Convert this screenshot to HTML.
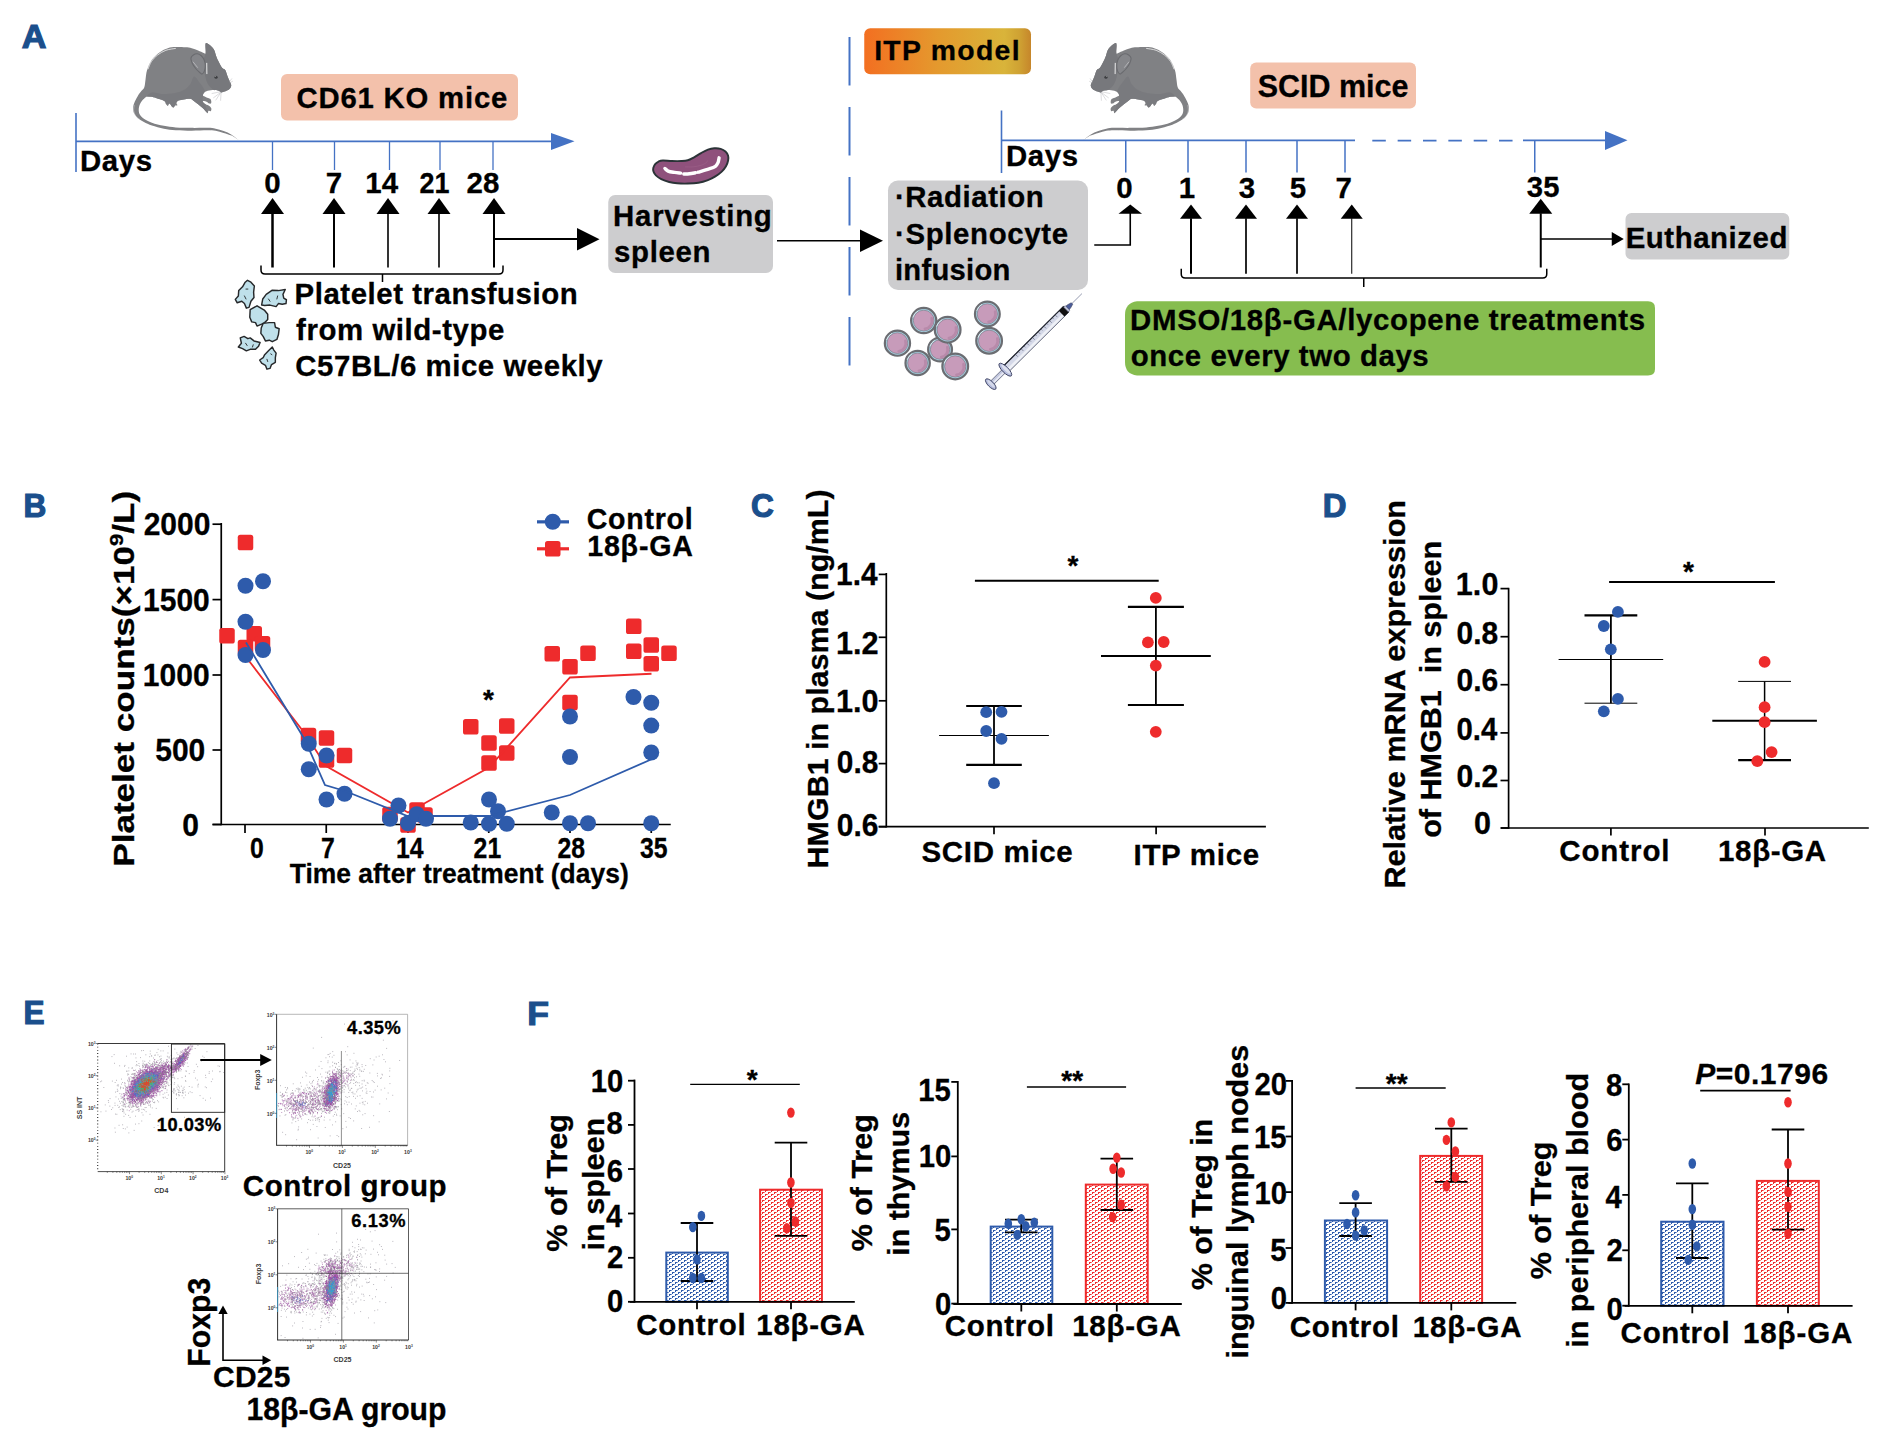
<!DOCTYPE html>
<html lang="en"><head><meta charset="utf-8"><title>Figure</title>
<style>
html,body{margin:0;padding:0;background:#fff;}
body{width:1884px;height:1443px;overflow:hidden;}
svg{display:block;}
text{font-family:"Liberation Sans",Arial,sans-serif;font-weight:bold;}
</style></head><body>
<svg width="1884" height="1443" viewBox="0 0 1884 1443">
<rect width="1884" height="1443" fill="#fff"/>
<defs><linearGradient id="itp" x1="0" y1="0" x2="1" y2="0"><stop offset="0" stop-color="#F36F21"/><stop offset="0.45" stop-color="#E49A2E"/><stop offset="0.84" stop-color="#D9B43A"/><stop offset="0.93" stop-color="#CFA233"/><stop offset="1" stop-color="#C6862B"/></linearGradient></defs>
<text transform="matrix(1.0357 0 0 1 21.65 48.3)" font-size="33" fill="#1B4F8C" stroke="#1B4F8C" stroke-width="1.2">A</text>
<line x1="76" y1="113" x2="76" y2="172" stroke="#4472C4" stroke-width="1.6" />
<line x1="76" y1="141.3" x2="553" y2="141.3" stroke="#4472C4" stroke-width="1.8" />
<polygon points="551,133 574.5,141.3 551,150" fill="#4472C4" />
<line x1="272.5" y1="141.3" x2="272.5" y2="170" stroke="#4472C4" stroke-width="1.3" />
<line x1="334.5" y1="141.3" x2="334.5" y2="170" stroke="#4472C4" stroke-width="1.3" />
<line x1="389.5" y1="141.3" x2="389.5" y2="170" stroke="#4472C4" stroke-width="1.3" />
<line x1="440" y1="141.3" x2="440" y2="170" stroke="#4472C4" stroke-width="1.3" />
<line x1="493" y1="141.3" x2="493" y2="170" stroke="#4472C4" stroke-width="1.3" />
<g transform="translate(120 35) scale(0.07971)"><path d="M305 655C313.33 631.67 314.17 595.83 320 560C325.83 524.17 326.67 481.67 340 440C353.33 398.33 373.33 347.5 400 310C426.67 272.5 466.67 239.17 500 215C533.33 190.83 566.67 175.5 600 165C633.33 154.5 663.33 153.67 700 152C736.67 150.33 786.67 152.83 820 155C853.33 157.17 873.33 158.33 900 165C926.67 171.67 955 185 980 195C1005 205 1034.17 219.5 1050 225C1065.83 230.5 1071.33 243.83 1075 228C1078.67 212.17 1070.83 151.33 1072 130C1073.17 108.67 1072.33 100 1082 100C1091.67 100 1113.67 115.83 1130 130C1146.33 144.17 1167.5 163.33 1180 185C1192.5 206.67 1196.67 237.5 1205 260C1213.33 282.5 1217.5 295 1230 320C1242.5 345 1265 390 1280 410C1295 430 1308.33 421.67 1320 440C1331.67 458.33 1339.17 493.33 1350 520C1360.83 546.67 1377.5 580 1385 600C1392.5 620 1397.5 626.67 1395 640C1392.5 653.33 1384.17 668.33 1370 680C1355.83 691.67 1326.67 703.33 1310 710C1293.33 716.67 1281.67 721.67 1270 720C1258.33 718.33 1255 705 1240 700C1225 695 1203.33 690 1180 690C1156.67 690 1121.67 693.33 1100 700C1078.33 706.67 1060 720 1050 730C1040 740 1035 751.67 1040 760C1045 768.33 1065 773.33 1080 780C1095 786.67 1119.17 791.67 1130 800C1140.83 808.33 1143.33 820 1145 830C1146.67 840 1145.83 855.83 1140 860C1134.17 864.17 1118.33 858.33 1110 855C1101.67 851.67 1101.67 844.17 1090 840C1078.33 835.83 1045 826.67 1040 830C1035 833.33 1046.67 850 1060 860C1073.33 870 1105.83 880 1120 890C1134.17 900 1141.67 909.17 1145 920C1148.33 930.83 1145.83 950 1140 955C1134.17 960 1116.67 945.83 1110 950C1103.33 954.17 1105 978.33 1100 980C1095 981.67 1090 970 1080 960C1070 950 1056.67 935 1040 920C1023.33 905 998.33 885 980 870C961.67 855 946.67 841.67 930 830C913.33 818.33 901.67 803.33 880 800C858.33 796.67 826.67 805 800 810C773.33 815 735 821.67 720 830C705 838.33 710 851.67 710 860C710 868.33 723.33 875.83 720 880C716.67 884.17 698.33 880 690 885C681.67 890 678.33 910.83 670 910C661.67 909.17 648.33 888.33 640 880C631.67 871.67 626.67 858.33 620 860C613.33 861.67 606.67 888.33 600 890C593.33 891.67 586.67 880 580 870C573.33 860 576.67 841.67 560 830C543.33 818.33 506.67 809.17 480 800C453.33 790.83 423.33 780 400 775C376.67 770 358.33 764.17 340 770C321.67 775.83 305 793.33 290 810C275 826.67 259.17 848.33 250 870C240.83 891.67 235 918.33 235 940C235 961.67 239.17 981.67 250 1000C260.83 1018.33 275 1033.33 300 1050C325 1066.67 358.33 1085 400 1100C441.67 1115 500 1130 550 1140C600 1150 641.67 1155.83 700 1160C758.33 1164.17 833.33 1164.17 900 1165C966.67 1165.83 1050 1163.33 1100 1165C1150 1166.67 1166.67 1168.33 1200 1175C1233.33 1181.67 1266.67 1192.5 1300 1205C1333.33 1217.5 1368.33 1230.83 1400 1250C1431.67 1269.17 1490 1318 1490 1320C1490 1322 1431.67 1277.33 1400 1262C1368.33 1246.67 1333.33 1238 1300 1228C1266.67 1218 1233.33 1207.5 1200 1202C1166.67 1196.5 1150 1195.33 1100 1195C1050 1194.67 966.67 1200 900 1200C833.33 1200 758.33 1199.17 700 1195C641.67 1190.83 600 1185 550 1175C500 1165 441.67 1149.17 400 1135C358.33 1120.83 330 1105.83 300 1090C270 1074.17 240.83 1058.33 220 1040C199.17 1021.67 184.17 1001.67 175 980C165.83 958.33 164.17 931.67 165 910C165.83 888.33 170.83 873.33 180 850C189.17 826.67 205 795 220 770C235 745 255.83 719.17 270 700C284.17 680.83 296.67 678.33 305 655Z" fill="#808184"/><path d="M1075 228C1078.67 199.67 1070.83 151.33 1072 130C1073.17 108.67 1072.33 100 1082 100C1091.67 100 1113.67 115.83 1130 130C1146.33 144.17 1167.5 163.33 1180 185C1192.5 206.67 1196.67 237.5 1205 260C1213.33 282.5 1217.5 295 1230 320C1242.5 345 1265 390 1280 410C1295 430 1308.33 421.67 1320 440C1331.67 458.33 1339.17 493.33 1350 520C1360.83 546.67 1377.5 580 1385 600C1392.5 620 1397.5 626.67 1395 640C1392.5 653.33 1384.17 668.33 1370 680C1355.83 691.67 1326.67 703.33 1310 710C1293.33 716.67 1281.67 721.67 1270 720C1258.33 718.33 1255 705 1240 700C1225 695 1200 700 1180 690C1160 680 1136.67 661.67 1120 640C1103.33 618.33 1090 588.33 1080 560C1070 531.67 1066.67 500 1060 470C1053.33 440 1041.67 408.33 1040 380C1038.33 351.67 1044.17 325.33 1050 300C1055.83 274.67 1071.33 256.33 1075 228Z" fill="#77787C"/><path d="M340 770C340 760.83 370 725 400 720C430 715 473.33 738.33 520 740C566.67 741.67 633.33 738.33 680 730C726.67 721.67 766.67 708.33 800 690C833.33 671.67 858.33 648.33 880 620C901.67 591.67 910 523.33 930 520C950 516.67 978.33 571.67 1000 600C1021.67 628.33 1051.67 668.33 1060 690C1068.33 711.67 1053.33 718.33 1050 730C1046.67 741.67 1041.67 743.33 1040 760C1038.33 776.67 1036.67 813.33 1040 830C1043.33 846.67 1050 835 1060 860C1070 885 1103.33 970 1100 980C1096.67 990 1060 938.33 1040 920C1020 901.67 998.33 885 980 870C961.67 855 946.67 841.67 930 830C913.33 818.33 901.67 803.33 880 800C858.33 796.67 826.67 805 800 810C773.33 815 741.67 813.33 720 830C698.33 846.67 686.67 905 670 910C653.33 915 635 866.67 620 860C605 853.33 590 875 580 870C570 865 576.67 841.67 560 830C543.33 818.33 506.67 809.17 480 800C453.33 790.83 423.33 780 400 775C376.67 770 340 779.17 340 770Z" fill="#797A7E"/><path d="M890 290C892.5 273.33 906.67 259.17 920 250C933.33 240.83 953.33 233.33 970 235C986.67 236.67 1005.83 247.5 1020 260C1034.17 272.5 1046.67 290 1055 310C1063.33 330 1069.17 356.67 1070 380C1070.83 403.33 1066.67 431.67 1060 450C1053.33 468.33 1040 486.67 1030 490C1020 493.33 1013.33 481.67 1000 470C986.67 458.33 965.83 440 950 420C934.17 400 915 371.67 905 350C895 328.33 887.5 306.67 890 290Z" fill="#85868A" stroke="#6A6B6F" stroke-width="14"/><path d="M350 430C357.5 413.33 375 359.67 395 330C415 300.33 440 275 470 252C500 229 536.67 206 575 192C613.33 178 679.17 172 700 168" fill="none" stroke="#fff" stroke-width="9"/><path d="M1088 350L1090 490" stroke="#fff" stroke-width="12" opacity="0.9" fill="none"/><path d="M915 335L975 410" stroke="#E6E6E8" stroke-width="6" fill="none"/><path d="M180 880C178.67 891.67 168.67 926.67 172 950C175.33 973.33 187 1001.67 200 1020C213 1038.33 241.67 1053.33 250 1060" fill="none" stroke="#E8E8EA" stroke-width="6" opacity="0.8"/><circle cx="1205" cy="530" r="20" fill="#3E3F42"/><circle cx="1200" cy="522" r="6" fill="#ddd"/><path d="M1270 715L1170 790M1265 720L1200 820M1268 720L1262 825M1260 712L1150 735M1370 590L1405 545M1375 600L1415 580" stroke="#A9AAAD" stroke-width="5" fill="none"/><path d="M1040 835L1090 870" stroke="#fff" stroke-width="8" fill="none"/></g>
<text transform="translate(79.99 170.8)" font-size="29.4" letter-spacing="0.607" stroke="#000" stroke-width="0.3">Days</text>
<rect x="281" y="74" width="237" height="46.5" fill="#F3C1AB" rx="6" />
<text transform="translate(296.43 107.8)" font-size="29.3" letter-spacing="0.820" stroke="#000" stroke-width="0.3">CD61 KO mice</text>
<text transform="matrix(0.9833 0 0 1 264.31 192.9)" font-size="30" stroke="#000" stroke-width="0.3">0</text>
<text transform="matrix(0.9833 0 0 1 325.81 192.9)" font-size="30" stroke="#000" stroke-width="0.3">7</text>
<text transform="matrix(0.9833 0 0 1 365.24 192.9)" font-size="30" stroke="#000" stroke-width="0.3">14</text>
<text transform="matrix(0.8984 0 0 1 419.41 192.9)" font-size="30" stroke="#000" stroke-width="0.3">21</text>
<text transform="matrix(0.9833 0 0 1 466.55 192.9)" font-size="30" stroke="#000" stroke-width="0.3">28</text>
<line x1="272.5" y1="213.5" x2="272.5" y2="267.5" stroke="#000" stroke-width="2.5" /><polygon points="261,214 272.5,198 284,214" fill="#000" />
<line x1="334" y1="213.5" x2="334" y2="267.5" stroke="#000" stroke-width="2" /><polygon points="322.5,214 334,198 345.5,214" fill="#000" />
<line x1="388" y1="213.5" x2="388" y2="267.5" stroke="#000" stroke-width="1.6" /><polygon points="376.5,214 388,198 399.5,214" fill="#000" />
<line x1="439" y1="213.5" x2="439" y2="267.5" stroke="#000" stroke-width="1.6" /><polygon points="427.5,214 439,198 450.5,214" fill="#000" />
<line x1="494" y1="213.5" x2="494" y2="267.5" stroke="#000" stroke-width="2" /><polygon points="482.5,214 494,198 505.5,214" fill="#000" />
<line x1="494" y1="239" x2="578" y2="239" stroke="#000" stroke-width="2" />
<polygon points="577,228 599.5,239.2 577,250.5" fill="#000" />
<path d="M261 265.5L261 270Q261 274 265 274L499 274Q503 274 503 270L503 265.5M382.5 274L382.5 282" fill="none" stroke="#000" stroke-width="1.5"/>
<g transform="translate(225 270) scale(0.07628)" stroke-linejoin="round"><polygon points="295,135 340,160 385,210 375,290 380,360 340,410 315,490 280,500 255,440 220,410 160,430 135,385 175,340 180,270 230,220 265,160" fill="#BFE0EA" stroke="#26282A" stroke-width="19" /><polygon points="480,460 495,380 540,320 620,265 700,270 790,255 760,320 770,370 805,390 800,440 750,450 700,440 670,480 590,460 520,465" fill="#BFE0EA" stroke="#26282A" stroke-width="19" /><polygon points="330,520 420,470 470,500 520,530 560,580 560,650 520,690 480,710 420,735 400,690 350,680 325,620" fill="#BFE0EA" stroke="#26282A" stroke-width="19" /><polygon points="500,700 580,690 650,690 660,750 710,770 700,850 680,910 620,940 580,920 530,930 500,870 470,830 475,760" fill="#BFE0EA" stroke="#26282A" stroke-width="19" /><polygon points="200,890 250,870 300,900 330,890 380,930 460,950 440,1000 400,1040 330,1040 280,1060 230,1030 175,1010 215,960" fill="#BFE0EA" stroke="#26282A" stroke-width="19" /><polygon points="620,1010 640,1050 670,1090 660,1150 660,1210 610,1240 590,1290 550,1300 530,1250 480,1220 455,1180 500,1150 520,1110 570,1060" fill="#BFE0EA" stroke="#26282A" stroke-width="19" /><path d="M255 340L275 380M275 250L300 250M570 380L590 410M690 340L680 380M270 960L290 990M370 980L360 1010M550 1170L560 1200M600 1100L615 1110" stroke="#26282A" stroke-width="12" fill="none" stroke-linecap="round"/></g>
<text transform="translate(294.59 304)" font-size="29.4" letter-spacing="0.544" stroke="#000" stroke-width="0.3">Platelet transfusion</text>
<text transform="translate(296.06 340)" font-size="29.4" letter-spacing="0.571" stroke="#000" stroke-width="0.3">from wild-type</text>
<text transform="translate(295.32 376)" font-size="29.4" letter-spacing="0.552" stroke="#000" stroke-width="0.3">C57BL/6 mice weekly</text>
<g transform="translate(640 135) scale(0.05308)"><path d="M250 620C255.83 595.83 273.33 565 290 545C306.67 525 326.67 510.83 350 500C373.33 489.17 388.33 481.67 430 480C471.67 478.33 541.67 488.33 600 490C658.33 491.67 730 492.5 780 490C830 487.5 860 486.67 900 475C940 463.33 978.33 442.5 1020 420C1061.67 397.5 1106.67 364.17 1150 340C1193.33 315.83 1238.33 290 1280 275C1321.67 260 1360 252.5 1400 250C1440 247.5 1485 250 1520 260C1555 270 1586.67 288.33 1610 310C1633.33 331.67 1651.67 361.67 1660 390C1668.33 418.33 1666.67 446.67 1660 480C1653.33 513.33 1640 555 1620 590C1600 625 1573.33 658.33 1540 690C1506.67 721.67 1463.33 753.33 1420 780C1376.67 806.67 1333.33 830 1280 850C1226.67 870 1163.33 889.17 1100 900C1036.67 910.83 966.67 913.33 900 915C833.33 916.67 758.33 915 700 910C641.67 905 600 898.33 550 885C500 871.67 441.67 850.83 400 830C358.33 809.17 324.17 783.33 300 760C275.83 736.67 263.33 713.33 255 690C246.67 666.67 244.17 644.17 250 620Z" fill="#8F517C" stroke="#2B3337" stroke-width="36" stroke-linejoin="round"/><path d="M850 600C875 600 950 605 1000 600C1050 595 1108.33 583.33 1150 570C1191.67 556.67 1230 535 1250 520C1270 505 1266.67 486.67 1270 480" fill="none" stroke="#A4688F" stroke-width="8"/><path d="M470 630C480 638.33 500 667.5 530 680C560 692.5 610.83 698.67 650 705C689.17 711.33 745.83 715.83 765 718" fill="none" stroke="#fff" stroke-width="64" stroke-linecap="round"/><path d="M825 735C842.5 734.17 893.33 733.83 930 730C966.67 726.17 1025.83 715 1045 712" fill="none" stroke="#fff" stroke-width="64" stroke-linecap="round"/><path d="M1095 700C1129.17 690 1245.83 658.33 1300 640C1354.17 621.67 1391.67 610 1420 590C1448.33 570 1458.33 546.67 1470 520C1481.67 493.33 1486.67 445 1490 430" fill="none" stroke="#fff" stroke-width="64" stroke-linecap="round"/></g>
<rect x="608.25" y="195" width="164.75" height="78" fill="#CDCDCF" rx="7" />
<text transform="translate(613.09 225.5)" font-size="29.4" letter-spacing="0.758" stroke="#000" stroke-width="0.3">Harvesting</text>
<text transform="translate(613.97 262)" font-size="29.4" letter-spacing="0.698" stroke="#000" stroke-width="0.3">spleen</text>
<line x1="777" y1="240.75" x2="861" y2="240.75" stroke="#000" stroke-width="1.5" />
<polygon points="860,229.5 883,240.75 860,252" fill="#000" />
<line x1="849.5" y1="37" x2="849.5" y2="85.5" stroke="#4472C4" stroke-width="2" />
<line x1="849.5" y1="107" x2="849.5" y2="155.5" stroke="#4472C4" stroke-width="2" />
<line x1="849.5" y1="177" x2="849.5" y2="225.5" stroke="#4472C4" stroke-width="2" />
<line x1="849.5" y1="247" x2="849.5" y2="295.5" stroke="#4472C4" stroke-width="2" />
<line x1="849.5" y1="317" x2="849.5" y2="365.5" stroke="#4472C4" stroke-width="2" />
<rect x="864.25" y="28.25" width="166.75" height="46" fill="url(#itp)" rx="6" />
<text transform="translate(874.15 60.1)" font-size="28.4" letter-spacing="1.281" stroke="#000" stroke-width="0.3">ITP model</text>
<rect x="888" y="180.5" width="200" height="109.5" fill="#CDCDCF" rx="10" />
<text transform="translate(894.94 207.1)" font-size="29.4" letter-spacing="0.562" stroke="#000" stroke-width="0.3">·Radiation</text>
<text transform="translate(894.94 243.5)" font-size="29.4" letter-spacing="0.654" stroke="#000" stroke-width="0.3">·Splenocyte</text>
<text transform="translate(894.96 279.7)" font-size="29.2" letter-spacing="0.279" stroke="#000" stroke-width="0.3">infusion</text>
<g transform="translate(870 290) scale(0.11677)"><circle cx="235" cy="455" r="108" fill="#A6D0E2" stroke="#6B6D72" stroke-width="19"/><circle cx="235" cy="455" r="89" fill="#C79BBA" stroke="#74767E" stroke-width="5"/><path d="M303 435A70 70 0 0 1 245 525" fill="none" stroke="#B88AAA" stroke-width="22" stroke-linecap="round"/><path d="M142 425A95 95 0 0 1 185 372" fill="none" stroke="#EAF4F8" stroke-width="7" stroke-linecap="round"/><circle cx="460" cy="262" r="108" fill="#A6D0E2" stroke="#6B6D72" stroke-width="19"/><circle cx="460" cy="262" r="89" fill="#C79BBA" stroke="#74767E" stroke-width="5"/><path d="M528 242A70 70 0 0 1 470 332" fill="none" stroke="#B88AAA" stroke-width="22" stroke-linecap="round"/><path d="M367 232A95 95 0 0 1 410 179" fill="none" stroke="#EAF4F8" stroke-width="7" stroke-linecap="round"/><circle cx="600" cy="510" r="102" fill="#A6D0E2" stroke="#6B6D72" stroke-width="19"/><circle cx="600" cy="510" r="83" fill="#C79BBA" stroke="#74767E" stroke-width="5"/><path d="M662 490A64 64 0 0 1 610 574" fill="none" stroke="#B88AAA" stroke-width="22" stroke-linecap="round"/><path d="M513 480A89 89 0 0 1 550 433" fill="none" stroke="#EAF4F8" stroke-width="7" stroke-linecap="round"/><circle cx="408" cy="625" r="104" fill="#A6D0E2" stroke="#6B6D72" stroke-width="19"/><circle cx="408" cy="625" r="85" fill="#C79BBA" stroke="#74767E" stroke-width="5"/><path d="M472 605A66 66 0 0 1 418 691" fill="none" stroke="#B88AAA" stroke-width="22" stroke-linecap="round"/><path d="M319 595A91 91 0 0 1 358 546" fill="none" stroke="#EAF4F8" stroke-width="7" stroke-linecap="round"/><circle cx="665" cy="340" r="110" fill="#A6D0E2" stroke="#6B6D72" stroke-width="19"/><circle cx="665" cy="340" r="91" fill="#C79BBA" stroke="#74767E" stroke-width="5"/><path d="M735 320A72 72 0 0 1 675 412" fill="none" stroke="#B88AAA" stroke-width="22" stroke-linecap="round"/><path d="M570 310A97 97 0 0 1 615 255" fill="none" stroke="#EAF4F8" stroke-width="7" stroke-linecap="round"/><circle cx="730" cy="655" r="110" fill="#A6D0E2" stroke="#6B6D72" stroke-width="19"/><circle cx="730" cy="655" r="91" fill="#C79BBA" stroke="#74767E" stroke-width="5"/><path d="M800 635A72 72 0 0 1 740 727" fill="none" stroke="#B88AAA" stroke-width="22" stroke-linecap="round"/><path d="M635 625A97 97 0 0 1 680 570" fill="none" stroke="#EAF4F8" stroke-width="7" stroke-linecap="round"/><circle cx="1005" cy="205" r="106" fill="#A6D0E2" stroke="#6B6D72" stroke-width="19"/><circle cx="1005" cy="205" r="87" fill="#C79BBA" stroke="#74767E" stroke-width="5"/><path d="M1071 185A68 68 0 0 1 1015 273" fill="none" stroke="#B88AAA" stroke-width="22" stroke-linecap="round"/><path d="M914 175A93 93 0 0 1 955 124" fill="none" stroke="#EAF4F8" stroke-width="7" stroke-linecap="round"/><circle cx="1020" cy="435" r="110" fill="#A6D0E2" stroke="#6B6D72" stroke-width="19"/><circle cx="1020" cy="435" r="91" fill="#C79BBA" stroke="#74767E" stroke-width="5"/><path d="M1090 415A72 72 0 0 1 1030 507" fill="none" stroke="#B88AAA" stroke-width="22" stroke-linecap="round"/><path d="M925 405A97 97 0 0 1 970 350" fill="none" stroke="#EAF4F8" stroke-width="7" stroke-linecap="round"/></g>
<g transform="translate(989.7 385.2) rotate(-44.8)"><line x1="115" y1="0" x2="130" y2="0" stroke="#5A6185" stroke-width="0.6"/><path d="M108 -2.6L112 -2.2L116 -1L116 1L112 2.2L108 2.6Z" fill="#4B5C9A" stroke="#2F3550" stroke-width="0.5"/><rect x="23" y="-3.9" width="85" height="7.8" fill="#D4D8E8" stroke="#3A3F55" stroke-width="0.7"/><rect x="24" y="0.6" width="78" height="2.6" fill="#EEF0F6"/><line x1="23" y1="-3.9" x2="108" y2="-3.9" stroke="#22252F" stroke-width="1.2"/><line x1="40" y1="-3.4" x2="40" y2="-0.6" stroke="#3A3F55" stroke-width="0.5"/><line x1="44" y1="-3.4" x2="44" y2="-1.8" stroke="#3A3F55" stroke-width="0.5"/><line x1="48" y1="-3.4" x2="48" y2="-0.6" stroke="#3A3F55" stroke-width="0.5"/><line x1="52" y1="-3.4" x2="52" y2="-1.8" stroke="#3A3F55" stroke-width="0.5"/><line x1="56" y1="-3.4" x2="56" y2="-0.6" stroke="#3A3F55" stroke-width="0.5"/><line x1="60" y1="-3.4" x2="60" y2="-1.8" stroke="#3A3F55" stroke-width="0.5"/><line x1="64" y1="-3.4" x2="64" y2="-0.6" stroke="#3A3F55" stroke-width="0.5"/><line x1="68" y1="-3.4" x2="68" y2="-1.8" stroke="#3A3F55" stroke-width="0.5"/><line x1="72" y1="-3.4" x2="72" y2="-0.6" stroke="#3A3F55" stroke-width="0.5"/><line x1="76" y1="-3.4" x2="76" y2="-1.8" stroke="#3A3F55" stroke-width="0.5"/><line x1="80" y1="-3.4" x2="80" y2="-0.6" stroke="#3A3F55" stroke-width="0.5"/><line x1="84" y1="-3.4" x2="84" y2="-1.8" stroke="#3A3F55" stroke-width="0.5"/><line x1="88" y1="-3.4" x2="88" y2="-0.6" stroke="#3A3F55" stroke-width="0.5"/><line x1="92" y1="-3.4" x2="92" y2="-1.8" stroke="#3A3F55" stroke-width="0.5"/><line x1="96" y1="-3.4" x2="96" y2="-0.6" stroke="#3A3F55" stroke-width="0.5"/><rect x="101.5" y="-3.9" width="6" height="7.8" fill="#111"/><rect x="107.5" y="-3.2" width="2.2" height="6.4" fill="#C9CEE2" stroke="#3A3F55" stroke-width="0.5"/><rect x="3" y="-2.3" width="18" height="4.6" fill="#C3C8E0" stroke="#3A3F55" stroke-width="0.6"/><rect x="4" y="0" width="16" height="1.6" fill="#E8EAF3"/><ellipse cx="22" cy="0" rx="3" ry="8.6" fill="#B5BCDD" stroke="#3A3F60" stroke-width="0.9"/><ellipse cx="22.8" cy="0" rx="1.6" ry="6.4" fill="#DDE0EE"/><ellipse cx="1.5" cy="0" rx="2.8" ry="7" fill="#B5BCDD" stroke="#3A3F60" stroke-width="0.9"/><ellipse cx="2" cy="0" rx="1.4" ry="5" fill="#D5D9EA"/></g>
<line x1="1001.5" y1="110.5" x2="1001.5" y2="173" stroke="#4472C4" stroke-width="1.6" />
<line x1="1001.5" y1="140.3" x2="1355" y2="140.3" stroke="#4472C4" stroke-width="1.8" />
<line x1="1372.3" y1="140.6" x2="1523" y2="140.6" stroke="#4472C4" stroke-width="1.8" stroke-dasharray="13.5 11.85"/>
<line x1="1523" y1="140.3" x2="1606" y2="140.3" stroke="#4472C4" stroke-width="1.8" />
<polygon points="1605,131 1627.5,140.3 1605,150" fill="#4472C4" />
<line x1="1125.75" y1="140.3" x2="1125.75" y2="172.5" stroke="#4472C4" stroke-width="1.5" />
<line x1="1188" y1="140.3" x2="1188" y2="172.5" stroke="#4472C4" stroke-width="1.5" />
<line x1="1246" y1="140.3" x2="1246" y2="172.5" stroke="#4472C4" stroke-width="1.5" />
<line x1="1297" y1="140.3" x2="1297" y2="172.5" stroke="#4472C4" stroke-width="1.5" />
<line x1="1345" y1="140.3" x2="1345" y2="172.5" stroke="#4472C4" stroke-width="1.5" />
<line x1="1534.75" y1="140.3" x2="1534.75" y2="172.5" stroke="#4472C4" stroke-width="1.5" />
<g transform="translate(1202 35) scale(-0.07971 0.07971)"><path d="M305 655C313.33 631.67 314.17 595.83 320 560C325.83 524.17 326.67 481.67 340 440C353.33 398.33 373.33 347.5 400 310C426.67 272.5 466.67 239.17 500 215C533.33 190.83 566.67 175.5 600 165C633.33 154.5 663.33 153.67 700 152C736.67 150.33 786.67 152.83 820 155C853.33 157.17 873.33 158.33 900 165C926.67 171.67 955 185 980 195C1005 205 1034.17 219.5 1050 225C1065.83 230.5 1071.33 243.83 1075 228C1078.67 212.17 1070.83 151.33 1072 130C1073.17 108.67 1072.33 100 1082 100C1091.67 100 1113.67 115.83 1130 130C1146.33 144.17 1167.5 163.33 1180 185C1192.5 206.67 1196.67 237.5 1205 260C1213.33 282.5 1217.5 295 1230 320C1242.5 345 1265 390 1280 410C1295 430 1308.33 421.67 1320 440C1331.67 458.33 1339.17 493.33 1350 520C1360.83 546.67 1377.5 580 1385 600C1392.5 620 1397.5 626.67 1395 640C1392.5 653.33 1384.17 668.33 1370 680C1355.83 691.67 1326.67 703.33 1310 710C1293.33 716.67 1281.67 721.67 1270 720C1258.33 718.33 1255 705 1240 700C1225 695 1203.33 690 1180 690C1156.67 690 1121.67 693.33 1100 700C1078.33 706.67 1060 720 1050 730C1040 740 1035 751.67 1040 760C1045 768.33 1065 773.33 1080 780C1095 786.67 1119.17 791.67 1130 800C1140.83 808.33 1143.33 820 1145 830C1146.67 840 1145.83 855.83 1140 860C1134.17 864.17 1118.33 858.33 1110 855C1101.67 851.67 1101.67 844.17 1090 840C1078.33 835.83 1045 826.67 1040 830C1035 833.33 1046.67 850 1060 860C1073.33 870 1105.83 880 1120 890C1134.17 900 1141.67 909.17 1145 920C1148.33 930.83 1145.83 950 1140 955C1134.17 960 1116.67 945.83 1110 950C1103.33 954.17 1105 978.33 1100 980C1095 981.67 1090 970 1080 960C1070 950 1056.67 935 1040 920C1023.33 905 998.33 885 980 870C961.67 855 946.67 841.67 930 830C913.33 818.33 901.67 803.33 880 800C858.33 796.67 826.67 805 800 810C773.33 815 735 821.67 720 830C705 838.33 710 851.67 710 860C710 868.33 723.33 875.83 720 880C716.67 884.17 698.33 880 690 885C681.67 890 678.33 910.83 670 910C661.67 909.17 648.33 888.33 640 880C631.67 871.67 626.67 858.33 620 860C613.33 861.67 606.67 888.33 600 890C593.33 891.67 586.67 880 580 870C573.33 860 576.67 841.67 560 830C543.33 818.33 506.67 809.17 480 800C453.33 790.83 423.33 780 400 775C376.67 770 358.33 764.17 340 770C321.67 775.83 305 793.33 290 810C275 826.67 259.17 848.33 250 870C240.83 891.67 235 918.33 235 940C235 961.67 239.17 981.67 250 1000C260.83 1018.33 275 1033.33 300 1050C325 1066.67 358.33 1085 400 1100C441.67 1115 500 1130 550 1140C600 1150 641.67 1155.83 700 1160C758.33 1164.17 833.33 1164.17 900 1165C966.67 1165.83 1050 1163.33 1100 1165C1150 1166.67 1166.67 1168.33 1200 1175C1233.33 1181.67 1266.67 1192.5 1300 1205C1333.33 1217.5 1368.33 1230.83 1400 1250C1431.67 1269.17 1490 1318 1490 1320C1490 1322 1431.67 1277.33 1400 1262C1368.33 1246.67 1333.33 1238 1300 1228C1266.67 1218 1233.33 1207.5 1200 1202C1166.67 1196.5 1150 1195.33 1100 1195C1050 1194.67 966.67 1200 900 1200C833.33 1200 758.33 1199.17 700 1195C641.67 1190.83 600 1185 550 1175C500 1165 441.67 1149.17 400 1135C358.33 1120.83 330 1105.83 300 1090C270 1074.17 240.83 1058.33 220 1040C199.17 1021.67 184.17 1001.67 175 980C165.83 958.33 164.17 931.67 165 910C165.83 888.33 170.83 873.33 180 850C189.17 826.67 205 795 220 770C235 745 255.83 719.17 270 700C284.17 680.83 296.67 678.33 305 655Z" fill="#808184"/><path d="M1075 228C1078.67 199.67 1070.83 151.33 1072 130C1073.17 108.67 1072.33 100 1082 100C1091.67 100 1113.67 115.83 1130 130C1146.33 144.17 1167.5 163.33 1180 185C1192.5 206.67 1196.67 237.5 1205 260C1213.33 282.5 1217.5 295 1230 320C1242.5 345 1265 390 1280 410C1295 430 1308.33 421.67 1320 440C1331.67 458.33 1339.17 493.33 1350 520C1360.83 546.67 1377.5 580 1385 600C1392.5 620 1397.5 626.67 1395 640C1392.5 653.33 1384.17 668.33 1370 680C1355.83 691.67 1326.67 703.33 1310 710C1293.33 716.67 1281.67 721.67 1270 720C1258.33 718.33 1255 705 1240 700C1225 695 1200 700 1180 690C1160 680 1136.67 661.67 1120 640C1103.33 618.33 1090 588.33 1080 560C1070 531.67 1066.67 500 1060 470C1053.33 440 1041.67 408.33 1040 380C1038.33 351.67 1044.17 325.33 1050 300C1055.83 274.67 1071.33 256.33 1075 228Z" fill="#77787C"/><path d="M340 770C340 760.83 370 725 400 720C430 715 473.33 738.33 520 740C566.67 741.67 633.33 738.33 680 730C726.67 721.67 766.67 708.33 800 690C833.33 671.67 858.33 648.33 880 620C901.67 591.67 910 523.33 930 520C950 516.67 978.33 571.67 1000 600C1021.67 628.33 1051.67 668.33 1060 690C1068.33 711.67 1053.33 718.33 1050 730C1046.67 741.67 1041.67 743.33 1040 760C1038.33 776.67 1036.67 813.33 1040 830C1043.33 846.67 1050 835 1060 860C1070 885 1103.33 970 1100 980C1096.67 990 1060 938.33 1040 920C1020 901.67 998.33 885 980 870C961.67 855 946.67 841.67 930 830C913.33 818.33 901.67 803.33 880 800C858.33 796.67 826.67 805 800 810C773.33 815 741.67 813.33 720 830C698.33 846.67 686.67 905 670 910C653.33 915 635 866.67 620 860C605 853.33 590 875 580 870C570 865 576.67 841.67 560 830C543.33 818.33 506.67 809.17 480 800C453.33 790.83 423.33 780 400 775C376.67 770 340 779.17 340 770Z" fill="#797A7E"/><path d="M890 290C892.5 273.33 906.67 259.17 920 250C933.33 240.83 953.33 233.33 970 235C986.67 236.67 1005.83 247.5 1020 260C1034.17 272.5 1046.67 290 1055 310C1063.33 330 1069.17 356.67 1070 380C1070.83 403.33 1066.67 431.67 1060 450C1053.33 468.33 1040 486.67 1030 490C1020 493.33 1013.33 481.67 1000 470C986.67 458.33 965.83 440 950 420C934.17 400 915 371.67 905 350C895 328.33 887.5 306.67 890 290Z" fill="#85868A" stroke="#6A6B6F" stroke-width="14"/><path d="M350 430C357.5 413.33 375 359.67 395 330C415 300.33 440 275 470 252C500 229 536.67 206 575 192C613.33 178 679.17 172 700 168" fill="none" stroke="#fff" stroke-width="9"/><path d="M1088 350L1090 490" stroke="#fff" stroke-width="12" opacity="0.9" fill="none"/><path d="M915 335L975 410" stroke="#E6E6E8" stroke-width="6" fill="none"/><path d="M180 880C178.67 891.67 168.67 926.67 172 950C175.33 973.33 187 1001.67 200 1020C213 1038.33 241.67 1053.33 250 1060" fill="none" stroke="#E8E8EA" stroke-width="6" opacity="0.8"/><circle cx="1205" cy="530" r="20" fill="#3E3F42"/><circle cx="1200" cy="522" r="6" fill="#ddd"/><path d="M1270 715L1170 790M1265 720L1200 820M1268 720L1262 825M1260 712L1150 735M1370 590L1405 545M1375 600L1415 580" stroke="#A9AAAD" stroke-width="5" fill="none"/><path d="M1040 835L1090 870" stroke="#fff" stroke-width="8" fill="none"/></g>
<text transform="translate(1005.99 166.3)" font-size="29.4" letter-spacing="0.607" stroke="#000" stroke-width="0.3">Days</text>
<rect x="1250.2" y="62.5" width="165.8" height="46" fill="#F3C1AB" rx="6" />
<text transform="matrix(0.9522 0 0 1 1257.79 97.1)" font-size="32" stroke="#000" stroke-width="0.3">SCID mice</text>
<text transform="matrix(0.9704 0 0 1 1116.31 198.4)" font-size="30.4" stroke="#000" stroke-width="0.3">0</text>
<text transform="matrix(0.9704 0 0 1 1178.72 198.4)" font-size="30.4" stroke="#000" stroke-width="0.3">1</text>
<text transform="matrix(0.9704 0 0 1 1238.71 198.4)" font-size="30.4" stroke="#000" stroke-width="0.3">3</text>
<text transform="matrix(0.9704 0 0 1 1289.74 198.4)" font-size="30.4" stroke="#000" stroke-width="0.3">5</text>
<text transform="matrix(0.9704 0 0 1 1335.56 198.4)" font-size="30.4" stroke="#000" stroke-width="0.3">7</text>
<text transform="matrix(0.9684 0 0 1 1526.87 197.2)" font-size="30.2" stroke="#000" stroke-width="0.3">35</text>
<path d="M1094.25 245L1130.25 245L1130.25 213" fill="none" stroke="#000" stroke-width="1.6"/>
<polygon points="1118.5,213.75 1130.25,204.5 1142,213.75" fill="#000" />
<line x1="1191" y1="218.25" x2="1191" y2="273.75" stroke="#000" stroke-width="2" /><polygon points="1180,218.75 1191,204.5 1202,218.75" fill="#000" />
<line x1="1246" y1="218.25" x2="1246" y2="273.75" stroke="#000" stroke-width="1.7" /><polygon points="1235,218.75 1246,204.5 1257,218.75" fill="#000" />
<line x1="1297" y1="218.25" x2="1297" y2="273.75" stroke="#000" stroke-width="1.7" /><polygon points="1286,218.75 1297,204.5 1308,218.75" fill="#000" />
<line x1="1351.75" y1="218.25" x2="1351.75" y2="273.75" stroke="#000" stroke-width="1" /><polygon points="1340.75,218.75 1351.75,204.5 1362.75,218.75" fill="#000" />
<line x1="1540.75" y1="213.25" x2="1540.75" y2="267.5" stroke="#000" stroke-width="2" /><polygon points="1529.25,213.75 1540.75,198.75 1552.25,213.75" fill="#000" />
<line x1="1540.75" y1="239" x2="1612.5" y2="239" stroke="#000" stroke-width="1.6" />
<polygon points="1611.75,232 1623.75,239 1611.75,246" fill="#000" />
<rect x="1625.5" y="213" width="163.75" height="46.5" fill="#CDCDCF" rx="6" />
<text transform="translate(1625.69 247.5)" font-size="29.4" letter-spacing="0.553" stroke="#000" stroke-width="0.3">Euthanized</text>
<path d="M1181.25 268.75L1181.25 274Q1181.25 278 1185.25 278L1542.75 278Q1546.75 278 1546.75 274L1546.75 268.75M1363.75 278L1363.75 287" fill="none" stroke="#000" stroke-width="1.5"/>
<path d="M1137 301.3L1648 301.3Q1655 301.3 1655 308L1655 369Q1655 375.5 1648 375.5L1137 375.5Q1125 374 1125 362L1125 315Q1125 303 1137 301.3Z" fill="#86BD4F"/>
<text transform="translate(1130.09 330)" font-size="29.4" letter-spacing="0.671" stroke="#000" stroke-width="0.3">DMSO/18β-GA/lycopene treatments</text>
<text transform="translate(1130.82 366.25)" font-size="29.4" letter-spacing="0.573" stroke="#000" stroke-width="0.3">once every two days</text>
<text transform="matrix(0.9588 0 0 1 23.54 516.9)" font-size="33" fill="#1B4F8C" stroke="#1B4F8C" stroke-width="1.2">B</text>
<text transform="matrix(0 -1.1548 1 0 134.2 866.78)" font-size="30.4" stroke="#000" stroke-width="0.3">Platelet counts(×10<tspan font-size="19" dy="-11">9</tspan><tspan dy="11">/L)</tspan></text>
<line x1="221.25" y1="523" x2="221.25" y2="825.3" stroke="#000" stroke-width="1.7" />
<line x1="212.5" y1="824.5" x2="670.75" y2="824.5" stroke="#000" stroke-width="1.7" />
<line x1="212.5" y1="524.2" x2="221.25" y2="524.2" stroke="#000" stroke-width="1.7" />
<text transform="matrix(0.9524 0 0 1 143.65 535.1)" font-size="31.5" stroke="#000" stroke-width="0.3">2000</text>
<line x1="212.5" y1="599.6" x2="221.25" y2="599.6" stroke="#000" stroke-width="1.7" />
<text transform="matrix(0.9524 0 0 1 143.05 611)" font-size="31.5" stroke="#000" stroke-width="0.3">1500</text>
<line x1="212.5" y1="675" x2="221.25" y2="675" stroke="#000" stroke-width="1.7" />
<text transform="matrix(0.9524 0 0 1 142.85 685.9)" font-size="31.5" stroke="#000" stroke-width="0.3">1000</text>
<line x1="212.5" y1="750" x2="221.25" y2="750" stroke="#000" stroke-width="1.7" />
<text transform="matrix(0.9524 0 0 1 155.25 760.6)" font-size="31.5" stroke="#000" stroke-width="0.3">500</text>
<line x1="212.5" y1="824.5" x2="221.25" y2="824.5" stroke="#000" stroke-width="1.7" />
<text transform="matrix(0.9524 0 0 1 182.15 836)" font-size="31.5" stroke="#000" stroke-width="0.3">0</text>
<line x1="245" y1="824.5" x2="245" y2="833" stroke="#000" stroke-width="1.7" />
<text transform="matrix(0.8407 0 0 1 250.12 857.5)" font-size="29.5" stroke="#000" stroke-width="0.3">0</text>
<line x1="326.25" y1="824.5" x2="326.25" y2="833" stroke="#000" stroke-width="1.7" />
<text transform="matrix(0.8407 0 0 1 321.12 857.5)" font-size="29.5" stroke="#000" stroke-width="0.3">7</text>
<line x1="408" y1="824.5" x2="408" y2="833" stroke="#000" stroke-width="1.7" />
<text transform="matrix(0.8407 0 0 1 395.99 857.5)" font-size="29.5" stroke="#000" stroke-width="0.3">14</text>
<line x1="488.75" y1="824.5" x2="488.75" y2="833" stroke="#000" stroke-width="1.7" />
<text transform="matrix(0.8407 0 0 1 473.61 857.5)" font-size="29.5" stroke="#000" stroke-width="0.3">21</text>
<line x1="570" y1="824.5" x2="570" y2="833" stroke="#000" stroke-width="1.7" />
<text transform="matrix(0.8407 0 0 1 557.42 857.5)" font-size="29.5" stroke="#000" stroke-width="0.3">28</text>
<line x1="651.25" y1="824.5" x2="651.25" y2="833" stroke="#000" stroke-width="1.7" />
<text transform="matrix(0.8407 0 0 1 639.99 857.5)" font-size="29.5" stroke="#000" stroke-width="0.3">35</text>
<text transform="matrix(0.9281 0 0 1 289.74 882.5)" font-size="28.5" stroke="#000" stroke-width="0.3">Time after treatment (days)</text>
<rect x="237.75" y="534.75" width="15.5" height="15.5" fill="#EE2B2C" rx="2.6" />
<rect x="219.25" y="628" width="15.5" height="15.5" fill="#EE2B2C" rx="2.6" />
<rect x="246.5" y="626" width="15.5" height="15.5" fill="#EE2B2C" rx="2.6" />
<rect x="254.75" y="636" width="15.5" height="15.5" fill="#EE2B2C" rx="2.6" />
<rect x="237.75" y="639.75" width="15.5" height="15.5" fill="#EE2B2C" rx="2.6" />
<rect x="300.75" y="727.75" width="15.5" height="15.5" fill="#EE2B2C" rx="2.6" />
<rect x="318.75" y="730.25" width="15.5" height="15.5" fill="#EE2B2C" rx="2.6" />
<rect x="336.75" y="747.75" width="15.5" height="15.5" fill="#EE2B2C" rx="2.6" />
<rect x="318.75" y="752.25" width="15.5" height="15.5" fill="#EE2B2C" rx="2.6" />
<rect x="382.25" y="806.75" width="15.5" height="15.5" fill="#EE2B2C" rx="2.6" />
<rect x="409.25" y="802.25" width="15.5" height="15.5" fill="#EE2B2C" rx="2.6" />
<rect x="417.25" y="807.25" width="15.5" height="15.5" fill="#EE2B2C" rx="2.6" />
<rect x="400.25" y="817.25" width="15.5" height="15.5" fill="#EE2B2C" rx="2.6" />
<rect x="463" y="719" width="15.5" height="15.5" fill="#EE2B2C" rx="2.6" />
<rect x="499" y="718.25" width="15.5" height="15.5" fill="#EE2B2C" rx="2.6" />
<rect x="481.25" y="735.25" width="15.5" height="15.5" fill="#EE2B2C" rx="2.6" />
<rect x="499" y="745.25" width="15.5" height="15.5" fill="#EE2B2C" rx="2.6" />
<rect x="481.25" y="755.25" width="15.5" height="15.5" fill="#EE2B2C" rx="2.6" />
<rect x="544.5" y="646" width="15.5" height="15.5" fill="#EE2B2C" rx="2.6" />
<rect x="580.25" y="645.5" width="15.5" height="15.5" fill="#EE2B2C" rx="2.6" />
<rect x="562.25" y="659" width="15.5" height="15.5" fill="#EE2B2C" rx="2.6" />
<rect x="562.25" y="694.75" width="15.5" height="15.5" fill="#EE2B2C" rx="2.6" />
<rect x="626" y="618.5" width="15.5" height="15.5" fill="#EE2B2C" rx="2.6" />
<rect x="643.5" y="637.25" width="15.5" height="15.5" fill="#EE2B2C" rx="2.6" />
<rect x="626" y="643.5" width="15.5" height="15.5" fill="#EE2B2C" rx="2.6" />
<rect x="661.25" y="645.5" width="15.5" height="15.5" fill="#EE2B2C" rx="2.6" />
<rect x="643.5" y="656" width="15.5" height="15.5" fill="#EE2B2C" rx="2.6" />
<polyline points="246,657 306,735 326,766 408,812.5 489,767.5 570,677.5 651.5,673.75" fill="none" stroke="#EE2B2C" stroke-width="1.8"/>
<circle cx="245.5" cy="585.75" r="8" fill="#2E5BAB" />
<circle cx="263" cy="581.25" r="8" fill="#2E5BAB" />
<circle cx="245.5" cy="621.75" r="8" fill="#2E5BAB" />
<circle cx="263" cy="650" r="8" fill="#2E5BAB" />
<circle cx="245.5" cy="655" r="8" fill="#2E5BAB" />
<circle cx="308.75" cy="743.75" r="8" fill="#2E5BAB" />
<circle cx="326.5" cy="755.5" r="8" fill="#2E5BAB" />
<circle cx="308.75" cy="769.25" r="8" fill="#2E5BAB" />
<circle cx="326.5" cy="799.5" r="8" fill="#2E5BAB" />
<circle cx="344.5" cy="793.75" r="8" fill="#2E5BAB" />
<circle cx="398.5" cy="805.5" r="8" fill="#2E5BAB" />
<circle cx="390" cy="818.75" r="8" fill="#2E5BAB" />
<circle cx="408" cy="823.25" r="8" fill="#2E5BAB" />
<circle cx="416.75" cy="814.25" r="8" fill="#2E5BAB" />
<circle cx="426" cy="818.75" r="8" fill="#2E5BAB" />
<circle cx="489" cy="799.5" r="8" fill="#2E5BAB" />
<circle cx="498" cy="811.25" r="8" fill="#2E5BAB" />
<circle cx="470.75" cy="822.5" r="8" fill="#2E5BAB" />
<circle cx="489" cy="823.75" r="8" fill="#2E5BAB" />
<circle cx="506.75" cy="823.75" r="8" fill="#2E5BAB" />
<circle cx="551.75" cy="812.5" r="8" fill="#2E5BAB" />
<circle cx="570" cy="823.25" r="8" fill="#2E5BAB" />
<circle cx="588" cy="823.25" r="8" fill="#2E5BAB" />
<circle cx="570" cy="716.5" r="8" fill="#2E5BAB" />
<circle cx="570" cy="757" r="8" fill="#2E5BAB" />
<circle cx="633.5" cy="697" r="8" fill="#2E5BAB" />
<circle cx="651.25" cy="702.75" r="8" fill="#2E5BAB" />
<circle cx="651.25" cy="725.6" r="8" fill="#2E5BAB" />
<circle cx="651.25" cy="752.5" r="8" fill="#2E5BAB" />
<circle cx="651.25" cy="823.25" r="8" fill="#2E5BAB" />
<polyline points="246,642.5 305,740 325,785 345,791 407.5,816 489,816 570,795 651,759.5" fill="none" stroke="#2E5BAB" stroke-width="1.8"/>
<text transform="translate(483.04 709.4)" font-size="28" font-weight="normal" stroke="#000" stroke-width="0.3">*</text>
<line x1="537" y1="521.85" x2="569" y2="521.85" stroke="#2E5BAB" stroke-width="3.2" />
<circle cx="552.75" cy="521.75" r="8" fill="#2E5BAB" />
<text transform="translate(586.66 529.25)" font-size="28.6" letter-spacing="0.719" stroke="#000" stroke-width="0.3">Control</text>
<line x1="537" y1="548.8" x2="569" y2="548.8" stroke="#EE2B2C" stroke-width="3.2" />
<rect x="545" y="541" width="15.5" height="15.5" fill="#EE2B2C" rx="2.6" />
<text transform="translate(587.14 556.25)" font-size="28.6" letter-spacing="0.840" stroke="#000" stroke-width="0.3">18β-GA</text>
<text transform="matrix(0.9577 0 0 1 750.94 517.2)" font-size="33" fill="#1B4F8C" stroke="#1B4F8C" stroke-width="1.2">C</text>
<text transform="matrix(0 -1.0329 1 0 827.7 868.38)" font-size="29.5" stroke="#000" stroke-width="0.3">HMGB1 in plasma (ng/mL)</text>
<line x1="886.3" y1="573" x2="886.3" y2="827.5" stroke="#000" stroke-width="1.7" />
<line x1="878.7" y1="826.7" x2="1265.9" y2="826.7" stroke="#000" stroke-width="1.7" />
<line x1="878.7" y1="574.4" x2="886.3" y2="574.4" stroke="#000" stroke-width="1.7" />
<text transform="matrix(0.9328 0 0 1 836.06 584.7)" font-size="32" stroke="#000" stroke-width="0.3">1.4</text>
<line x1="878.7" y1="637.3" x2="886.3" y2="637.3" stroke="#000" stroke-width="1.7" />
<text transform="matrix(0.9582 0 0 1 836.01 654.4)" font-size="32" stroke="#000" stroke-width="0.3">1.2</text>
<line x1="878.7" y1="700.8" x2="886.3" y2="700.8" stroke="#000" stroke-width="1.7" />
<text transform="matrix(0.9582 0 0 1 836.01 712)" font-size="32" stroke="#000" stroke-width="0.3">1.0</text>
<line x1="878.7" y1="763.6" x2="886.3" y2="763.6" stroke="#000" stroke-width="1.7" />
<text transform="matrix(0.9328 0 0 1 836.81 773.4)" font-size="32" stroke="#000" stroke-width="0.3">0.8</text>
<line x1="878.7" y1="826.7" x2="886.3" y2="826.7" stroke="#000" stroke-width="1.7" />
<text transform="matrix(0.9363 0 0 1 836.8 835.8)" font-size="32" stroke="#000" stroke-width="0.3">0.6</text>
<line x1="994" y1="826.7" x2="994" y2="834.3" stroke="#000" stroke-width="1.7" />
<line x1="1156.1" y1="826.7" x2="1156.1" y2="834.3" stroke="#000" stroke-width="1.7" />
<text transform="translate(921.41 861.7)" font-size="29.5" letter-spacing="0.680" stroke="#000" stroke-width="0.3">SCID mice</text>
<text transform="translate(1133.48 864.8)" font-size="29.5" letter-spacing="0.707" stroke="#000" stroke-width="0.3">ITP mice</text>
<line x1="974.9" y1="580.8" x2="1158.7" y2="580.8" stroke="#000" stroke-width="2" />
<text transform="translate(1067.44 575.4)" font-size="28" font-weight="normal" stroke="#000" stroke-width="0.3">*</text>
<line x1="994" y1="706" x2="994" y2="764.9" stroke="#000" stroke-width="1.8" />
<line x1="966.2" y1="706" x2="1021.8" y2="706" stroke="#000" stroke-width="2.2" />
<line x1="966.2" y1="764.9" x2="1021.8" y2="764.9" stroke="#000" stroke-width="2.2" />
<line x1="939.1" y1="735.5" x2="1048.9" y2="735.5" stroke="#000" stroke-width="1" />
<circle cx="986.2" cy="712.2" r="5.9" fill="#2E5BAB" />
<circle cx="1001.5" cy="711.8" r="5.9" fill="#2E5BAB" />
<circle cx="986.2" cy="731" r="5.9" fill="#2E5BAB" />
<circle cx="1001.5" cy="738.8" r="5.9" fill="#2E5BAB" />
<circle cx="994" cy="783.2" r="5.9" fill="#2E5BAB" />
<line x1="1155.9" y1="606.9" x2="1155.9" y2="705" stroke="#000" stroke-width="1.8" />
<line x1="1127.9" y1="606.9" x2="1183.9" y2="606.9" stroke="#000" stroke-width="2.2" />
<line x1="1127.9" y1="705" x2="1183.9" y2="705" stroke="#000" stroke-width="2.2" />
<line x1="1101" y1="656" x2="1210.8" y2="656" stroke="#000" stroke-width="2" />
<circle cx="1155.8" cy="597.9" r="5.9" fill="#EE2B2C" />
<circle cx="1147.9" cy="642.3" r="5.9" fill="#EE2B2C" />
<circle cx="1163.7" cy="642" r="5.9" fill="#EE2B2C" />
<circle cx="1155.8" cy="665.6" r="5.9" fill="#EE2B2C" />
<circle cx="1155.8" cy="731.8" r="5.9" fill="#EE2B2C" />
<text transform="matrix(0.9953 0 0 1 1322.67 517.4)" font-size="33" fill="#1B4F8C" stroke="#1B4F8C" stroke-width="1.2">D</text>
<text transform="matrix(0 -1.0352 1 0 1404.9 888.59)" font-size="29.6" stroke="#000" stroke-width="0.3">Relative mRNA expression</text>
<text transform="matrix(0 -1.0391 1 0 1441.2 837.82)" font-size="29.4" stroke="#000" stroke-width="0.3">of HMGB1  in spleen</text>
<line x1="1508.6" y1="587.8" x2="1508.6" y2="828.8" stroke="#000" stroke-width="1.7" />
<line x1="1500.9" y1="828" x2="1868.8" y2="828" stroke="#000" stroke-width="1.7" />
<line x1="1500.5" y1="588.6" x2="1508.5" y2="588.6" stroke="#000" stroke-width="1.7" />
<text transform="translate(1455.72 594.9)" font-size="30.5" letter-spacing="0.154" stroke="#000" stroke-width="0.3">1.0</text>
<line x1="1500.5" y1="636.7" x2="1508.5" y2="636.7" stroke="#000" stroke-width="1.7" />
<text transform="matrix(0.9811 0 0 1 1456.5 643.7)" font-size="30.5" stroke="#000" stroke-width="0.3">0.8</text>
<line x1="1500.5" y1="684.7" x2="1508.5" y2="684.7" stroke="#000" stroke-width="1.7" />
<text transform="matrix(0.9849 0 0 1 1456.5 691.4)" font-size="30.5" stroke="#000" stroke-width="0.3">0.6</text>
<line x1="1500.5" y1="732.9" x2="1508.5" y2="732.9" stroke="#000" stroke-width="1.7" />
<text transform="matrix(0.9629 0 0 1 1456.53 739.6)" font-size="30.5" stroke="#000" stroke-width="0.3">0.4</text>
<line x1="1500.5" y1="780.5" x2="1508.5" y2="780.5" stroke="#000" stroke-width="1.7" />
<text transform="matrix(0.9886 0 0 1 1456.49 786.8)" font-size="30.5" stroke="#000" stroke-width="0.3">0.2</text>
<line x1="1500.5" y1="828" x2="1508.5" y2="828" stroke="#000" stroke-width="1.7" />
<text transform="translate(1473.98 834.4)" font-size="30.5" stroke="#000" stroke-width="0.3">0</text>
<line x1="1610.9" y1="828" x2="1610.9" y2="835.5" stroke="#000" stroke-width="1.7" />
<line x1="1765" y1="828" x2="1765" y2="835.5" stroke="#000" stroke-width="1.7" />
<text transform="translate(1559.22 861.2)" font-size="29.5" letter-spacing="0.903" stroke="#000" stroke-width="0.3">Control</text>
<text transform="translate(1718.08 861.2)" font-size="29.5" letter-spacing="0.637" stroke="#000" stroke-width="0.3">18β-GA</text>
<line x1="1609.1" y1="582" x2="1774.9" y2="582" stroke="#000" stroke-width="2" />
<text transform="translate(1682.94 581.4)" font-size="28" font-weight="normal" stroke="#000" stroke-width="0.3">*</text>
<line x1="1610.9" y1="615.4" x2="1610.9" y2="703.2" stroke="#000" stroke-width="1.8" />
<line x1="1584.5" y1="615.4" x2="1637.3" y2="615.4" stroke="#000" stroke-width="2.3" />
<line x1="1584.5" y1="703.2" x2="1637.3" y2="703.2" stroke="#000" stroke-width="1" />
<line x1="1558.6" y1="659.5" x2="1663.2" y2="659.5" stroke="#000" stroke-width="1" />
<circle cx="1617.9" cy="611.9" r="5.9" fill="#2E5BAB" />
<circle cx="1603.8" cy="626" r="5.9" fill="#2E5BAB" />
<circle cx="1610.8" cy="649.3" r="5.9" fill="#2E5BAB" />
<circle cx="1617.9" cy="698.9" r="5.9" fill="#2E5BAB" />
<circle cx="1603.8" cy="711.3" r="5.9" fill="#2E5BAB" />
<line x1="1764.6" y1="681.4" x2="1764.6" y2="760.2" stroke="#000" stroke-width="1.5" />
<line x1="1738.2" y1="681.4" x2="1791" y2="681.4" stroke="#000" stroke-width="1" />
<line x1="1738.2" y1="760.2" x2="1791" y2="760.2" stroke="#000" stroke-width="2.3" />
<line x1="1712.3" y1="720.8" x2="1816.9" y2="720.8" stroke="#000" stroke-width="2" />
<circle cx="1764.6" cy="661.9" r="5.9" fill="#EE2B2C" />
<circle cx="1764.6" cy="707.2" r="5.9" fill="#EE2B2C" />
<circle cx="1764.6" cy="722.2" r="5.9" fill="#EE2B2C" />
<circle cx="1771.6" cy="752.1" r="5.9" fill="#EE2B2C" />
<circle cx="1757.3" cy="761.2" r="5.9" fill="#EE2B2C" />
<text transform="matrix(0.9547 0 0 1 23.55 1024.3)" font-size="33" fill="#1B4F8C" stroke="#1B4F8C" stroke-width="1.2">E</text>
<ellipse cx="145.2" cy="1084.6" rx="18" ry="10" transform="rotate(-43 145.2 1084.6)" fill="#9858A0" opacity="0.5"/>
<g transform="translate(97.7 1043.5)" fill="none" stroke-width="0.9"><path d="M45.5 54.0h0.9M29.5 37.4h0.9M71.8 30.1h0.9M54.3 44.2h0.9M20.9 81.8h0.9M37.8 14.4h0.9M22.8 52.6h0.9M49.7 50.7h0.9M55.5 43.2h0.9M85.2 21.6h0.9M25.3 44.8h0.9M49.7 53.0h0.9M26.5 39.2h0.9M61.3 13.2h0.9M38.5 18.1h0.9M37.8 47.6h0.9M54.6 34.4h0.9M68.7 37.9h0.9M77.7 23.9h0.9M25.8 72.8h0.9M23.3 35.6h0.9M48.0 68.2h0.9M18.7 70.8h0.9M37.3 10.5h0.9M44.8 28.5h0.9M76.1 40.7h0.9M54.7 44.7h0.9M63.0 39.5h0.9M27.2 85.4h0.9M35.5 10.5h0.9M43.4 7.2h0.9M52.1 10.4h0.9M54.7 32.4h0.9M59.5 34.1h0.9M27.9 49.5h0.9M36.8 32.3h0.9M69.9 13.6h0.9M41.1 43.9h0.9M62.7 7.4h0.9M11.9 55.1h0.9M76.6 35.2h0.9M49.7 43.0h0.9M44.6 49.8h0.9M53.2 52.8h0.9M88.7 13.9h0.9M37.7 49.6h0.9M42.6 53.9h0.9M54.3 44.3h0.9M43.5 58.7h0.9M59.9 82.0h0.9M33.2 51.5h0.9M16.0 11.1h0.9M53.4 12.3h0.9M73.1 38.1h0.9M7.8 67.6h0.9M68.9 46.5h0.9M52.1 7.6h0.9M17.4 70.6h0.9M44.3 48.3h0.9M47.2 40.1h0.9M63.2 22.4h0.9M31.9 73.9h0.9M55.2 49.9h0.9M42.3 14.1h0.9M47.6 21.4h0.9M29.0 83.6h0.9M65.0 7.4h0.9M30.5 71.9h0.9M43.6 77.5h0.9M21.5 22.3h0.9M37.2 37.7h0.9M68.9 55.0h0.9M83.2 42.7h0.9M34.1 37.4h0.9M48.9 43.1h0.9M16.4 19.8h0.9M16.8 84.5h0.9M33.0 53.6h0.9M60.5 58.4h0.9M81.4 44.4h0.9M41.0 65.5h0.9M3.5 37.5h0.9M20.6 63.9h0.9M38.6 36.7h0.9M81.4 14.1h0.9M63.2 24.4h0.9M45.3 65.9h0.9M43.8 65.8h0.9M53.7 53.2h0.9M5.7 44.0h0.9M57.9 21.1h0.9M14.2 37.6h0.9M25.6 67.7h0.9M45.2 30.2h0.9M56.9 28.0h0.9M30.9 61.7h0.9M68.5 39.6h0.9M65.5 54.4h0.9M32.9 10.4h0.9M68.3 18.0h0.9M79.6 65.4h0.9M78.4 55.1h0.9M65.8 45.2h0.9M46.5 48.6h0.9M42.6 41.7h0.9M47.3 60.4h0.9M19.7 47.4h0.9M74.6 32.3h0.9M62.6 39.0h0.9M53.1 35.5h0.9M17.2 88.7h0.9M44.9 71.5h0.9M10.5 58.8h0.9M44.9 35.5h0.9M98.2 20.8h0.9M36.0 86.9h0.9M89.9 23.0h0.9M28.3 12.7h0.9M49.5 50.9h0.9M47.5 51.2h0.9M60.2 35.4h0.9M61.5 30.9h0.9M32.8 54.0h0.9M48.4 40.9h0.9M29.7 30.3h0.9M70.8 31.2h0.9M44.3 24.2h0.9M36.9 31.1h0.9M40.8 80.2h0.9M10.2 57.0h0.9M57.0 37.4h0.9M59.2 31.4h0.9M88.2 27.8h0.9M22.2 59.8h0.9M50.4 61.6h0.9M61.2 25.7h0.9M67.8 20.1h0.9M72.8 40.9h0.9M24.0 65.3h0.9M75.9 34.2h0.9M67.9 35.9h0.9M43.9 39.6h0.9M17.8 53.4h0.9M11.7 62.6h0.9M37.5 61.9h0.9M41.8 41.6h0.9M87.0 19.3h0.9M25.8 56.0h0.9M70.5 41.9h0.9M50.7 52.1h0.9M18.3 36.8h0.9M56.8 47.1h0.9M87.2 32.7h0.9M24.3 39.0h0.9M43.7 44.9h0.9M42.8 41.4h0.9M36.2 35.2h0.9M51.5 36.5h0.9M13.8 13.1h0.9M30.6 24.4h0.9M34.1 24.2h0.9M43.8 54.4h0.9M35.8 33.7h0.9M51.6 53.6h0.9M17.0 39.0h0.9M19.1 42.2h0.9M36.6 53.0h0.9M61.0 78.9h0.9M68.5 26.6h0.9M56.4 46.8h0.9M64.9 53.8h0.9M69.4 33.9h0.9M44.4 21.8h0.9M27.6 63.6h0.9M41.1 47.5h0.9M37.5 33.2h0.9M64.2 42.5h0.9M97.3 34.6h0.9M46.2 33.8h0.9M38.2 63.5h0.9M38.9 63.9h0.9M38.1 35.4h0.9M47.5 48.1h0.9M62.5 18.2h0.9M53.4 53.1h0.9M26.4 22.8h0.9M60.0 5.8h0.9M25.1 85.0h0.9M40.9 40.7h0.9M23.9 62.0h0.9M47.1 48.5h0.9M31.4 36.3h0.9M51.8 70.8h0.9M38.2 39.7h0.9M23.0 54.8h0.9M61.4 41.9h0.9M31.4 55.4h0.9M2.8 68.3h0.9M52.6 45.9h0.9M53.1 38.0h0.9M34.6 30.9h0.9M51.1 25.0h0.9M63.3 34.8h0.9M28.7 28.0h0.9M48.9 29.4h0.9M51.2 20.2h0.9M76.7 5.6h0.9M58.1 64.9h0.9M56.1 20.0h0.9M26.8 21.9h0.9M45.2 7.0h0.9M47.3 51.2h0.9M13.3 66.0h0.9M23.3 40.6h0.9M24.4 68.0h0.9M56.4 39.3h0.9M28.0 43.9h0.9M45.8 21.9h0.9M53.6 41.7h0.9M35.7 40.2h0.9M42.1 44.4h0.9M80.6 42.9h0.9M54.4 20.1h0.9M75.8 49.5h0.9M45.8 47.1h0.9M38.7 35.0h0.9M2.5 38.2h0.9M44.8 32.4h0.9M33.6 40.6h0.9M7.1 61.4h0.9M60.5 27.3h0.9M35.3 58.2h0.9M56.0 84.0h0.9M47.4 45.3h0.9M65.6 43.1h0.9M99.8 2.0h0.9M67.6 32.5h0.9M16.8 59.6h0.9M57.7 25.4h0.9M88.1 7.4h0.9M26.7 41.6h0.9M58.4 33.3h0.9M51.3 57.6h0.9M49.3 54.0h0.9M37.3 80.6h0.9M37.3 72.7h0.9M30.7 89.4h0.9M65.1 31.0h0.9M24.5 81.3h0.9M43.2 52.6h0.9M111.1 28.2h0.9M66.1 27.3h0.9M121.7 28.3h0.9M125.6 29.0h0.9M119.9 22.4h0.9M99.1 36.5h0.9M91.1 43.0h0.9M108.3 44.2h0.9M108.8 8.2h0.9M75.6 22.7h0.9M93.9 49.1h0.9M93.9 43.7h0.9M100.4 40.7h0.9M104.6 12.7h0.9M99.7 41.6h0.9M111.0 29.9h0.9M101.9 52.1h0.9M83.9 34.1h0.9M96.1 27.1h0.9M89.1 19.5h0.9M99.5 23.2h0.9M112.3 54.6h0.9M87.8 27.4h0.9M99.8 43.4h0.9M107.7 34.1h0.9M105.0 54.8h0.9M113.2 38.1h0.9M107.4 56.7h0.9M114.3 27.5h0.9M87.3 32.7h0.9M107.4 31.8h0.9M87.7 37.8h0.9M107.1 43.4h0.9M121.9 27.9h0.9M114.5 35.6h0.9M91.1 30.1h0.9M106.0 13.9h0.9M103.2 17.5h0.9M95.8 28.8h0.9M121.4 22.8h0.9M86.3 73.8h0.9M69.7 39.2h0.9M28.4 44.1h0.9M27.2 57.4h0.9M48.9 58.7h0.9M35.5 33.9h0.9M53.6 12.6h0.9M36.4 60.0h0.9M27.0 61.3h0.9M54.6 56.3h0.9M22.3 45.2h0.9M47.6 54.6h0.9M63.0 21.3h0.9M25.0 44.4h0.9M36.2 30.6h0.9M27.7 43.2h0.9M59.5 47.0h0.9M37.3 26.6h0.9M69.1 23.9h0.9M61.3 19.7h0.9M67.0 45.0h0.9M37.8 66.9h0.9M32.8 60.0h0.9M42.6 61.0h0.9M34.9 63.2h0.9M30.5 58.7h0.9M28.6 59.9h0.9M30.5 62.4h0.9M70.6 34.7h0.9M44.2 59.3h0.9M22.6 44.0h0.9M40.6 67.8h0.9M68.7 18.8h0.9M33.0 63.4h0.9M40.8 59.7h0.9M47.8 55.9h0.9M30.7 59.3h0.9M14.6 64.3h0.9M17.4 48.6h0.9M68.0 20.3h0.9M30.7 27.4h0.9M55.8 17.9h0.9M50.4 22.6h0.9M55.2 56.0h0.9M30.8 45.7h0.9M61.3 43.4h0.9M56.3 59.2h0.9M52.2 52.0h0.9M48.0 64.0h0.9M45.0 19.6h0.9M41.0 67.2h0.9M67.2 25.9h0.9M49.0 23.2h0.9M71.0 14.6h0.9M66.3 31.9h0.9M56.6 16.1h0.9M25.9 51.8h0.9M66.6 49.5h0.9M69.1 28.2h0.9M56.6 58.5h0.9M45.0 23.3h0.9M70.4 27.7h0.9M51.8 54.9h0.9M47.3 29.6h0.9M25.5 57.4h0.9M42.4 61.6h0.9M72.6 33.2h0.9M66.8 30.2h0.9M39.4 64.0h0.9M67.5 24.9h0.9M47.4 24.2h0.9M30.0 42.9h0.9M46.9 64.1h0.9M36.6 30.0h0.9M70.4 29.0h0.9M72.8 18.7h0.9M58.7 50.8h0.9M61.7 28.5h0.9M21.7 50.1h0.9M38.1 34.3h0.9M40.5 31.1h0.9M23.6 58.1h0.9M24.8 57.8h0.9M24.7 66.5h0.9M25.7 62.3h0.9M45.7 56.6h0.9M32.3 58.4h0.9M68.8 23.0h0.9M46.4 20.9h0.9M22.1 66.1h0.9M65.4 17.7h0.9M33.7 34.0h0.9M25.5 65.9h0.9M63.3 17.1h0.9M67.2 32.4h0.9M38.8 59.9h0.9M25.3 59.0h0.9M32.6 61.6h0.9M47.9 59.4h0.9M39.8 22.0h0.9M57.0 24.6h0.9M62.9 30.2h0.9M21.3 57.8h0.9M62.9 21.6h0.9M61.7 51.4h0.9M60.1 23.3h0.9M46.6 17.8h0.9M52.7 22.7h0.9M69.8 9.5h0.9M75.5 23.6h0.9M37.4 35.6h0.9M51.6 59.3h0.9M70.6 20.7h0.9M30.6 38.5h0.9M56.1 49.4h0.9M69.2 12.8h0.9M57.0 11.4h0.9M69.5 22.7h0.9M53.5 54.9h0.9M31.9 53.8h0.9M24.6 65.8h0.9M61.1 22.2h0.9M55.3 14.5h0.9M38.6 21.0h0.9M56.3 16.4h0.9M43.1 26.8h0.9M67.0 21.7h0.9M64.4 24.1h0.9M46.3 60.7h0.9M68.2 42.5h0.9M31.7 35.5h0.9M27.5 62.8h0.9M29.0 46.8h0.9M65.3 25.7h0.9M34.2 52.8h0.9M68.7 37.6h0.9M51.6 17.4h0.9M25.4 55.8h0.9M71.1 32.0h0.9M39.5 56.3h0.9M32.6 65.8h0.9M80.3 21.2h0.9M21.3 63.4h0.9M31.5 59.0h0.9M69.8 40.6h0.9M68.9 17.6h0.9M59.3 23.0h0.9M30.8 34.9h0.9M58.8 9.1h0.9M61.9 19.1h0.9M35.3 63.0h0.9M65.7 22.9h0.9M76.5 39.1h0.9M31.3 50.0h0.9M47.9 21.7h0.9M52.2 61.2h0.9M52.4 22.2h0.9M30.5 30.9h0.9M28.0 49.3h0.9M25.1 61.1h0.9M77.4 25.2h0.9M70.7 42.1h0.9M55.2 25.5h0.9M73.1 25.6h0.9M78.0 19.8h0.9M54.3 54.8h0.9M61.5 40.4h0.9M29.8 63.1h0.9M57.5 21.0h0.9M25.9 60.0h0.9M64.4 44.1h0.9M59.8 17.1h0.9M51.7 20.0h0.9M69.8 22.0h0.9M70.4 24.8h0.9M51.0 58.1h0.9M31.8 59.8h0.9M27.5 70.8h0.9M56.8 12.0h0.9M50.6 22.3h0.9M54.1 64.4h0.9M35.8 30.2h0.9M41.9 59.1h0.9M54.7 52.3h0.9M23.9 54.6h0.9M68.7 48.9h0.9M42.9 62.6h0.9M30.5 63.2h0.9M47.7 11.3h0.9M39.7 64.0h0.9M44.3 22.1h0.9M19.1 48.0h0.9M48.4 58.1h0.9M62.5 40.8h0.9M20.3 55.5h0.9M28.7 27.4h0.9M47.6 23.6h0.9M43.3 58.9h0.9M26.1 55.4h0.9M40.8 20.0h0.9M38.1 58.8h0.9M29.7 50.4h0.9M70.7 26.3h0.9M67.5 28.0h0.9M65.1 41.2h0.9M25.3 66.4h0.9M59.4 57.2h0.9M36.3 30.2h0.9M48.0 20.7h0.9M68.1 29.5h0.9M39.0 63.5h0.9M58.8 26.1h0.9M29.5 31.5h0.9M35.1 62.5h0.9M59.8 11.4h0.9M25.5 54.6h0.9M22.5 43.5h0.9M61.7 49.4h0.9M63.2 24.2h0.9M63.8 24.6h0.9M51.9 62.0h0.9M25.1 62.8h0.9M71.3 13.5h0.9M25.5 50.2h0.9M35.0 30.9h0.9M19.6 61.8h0.9M68.0 40.0h0.9M67.0 42.7h0.9M33.4 30.8h0.9M29.6 36.7h0.9M38.0 22.2h0.9M44.9 20.5h0.9M27.7 55.5h0.9M63.9 18.9h0.9M66.7 26.4h0.9M65.4 38.2h0.9M64.9 50.8h0.9M50.0 59.7h0.9M60.9 27.5h0.9M47.3 52.8h0.9M79.8 35.2h0.9M53.7 25.1h0.9M54.8 21.9h0.9M34.0 35.2h0.9M62.7 44.7h0.9M34.7 30.0h0.9M27.2 42.6h0.9M33.7 64.0h0.9M31.3 54.2h0.9M26.4 52.0h0.9M30.8 38.1h0.9M26.8 60.4h0.9M63.5 24.1h0.9M63.4 15.3h0.9M33.9 56.4h0.9M62.0 16.2h0.9M52.4 63.4h0.9M36.8 63.0h0.9M72.5 24.0h0.9M74.6 21.9h0.9M67.7 32.4h0.9M60.5 20.8h0.9M53.9 52.6h0.9M20.2 42.4h0.9M41.3 22.7h0.9M16.9 61.9h0.9M67.1 53.7h0.9M71.7 36.5h0.9M48.8 58.4h0.9M67.5 44.5h0.9M66.0 40.2h0.9M69.0 33.2h0.9M36.3 27.0h0.9M19.2 45.8h0.9M34.5 62.7h0.9M41.6 57.7h0.9M55.5 59.0h0.9M24.8 54.1h0.9M48.6 20.6h0.9M33.9 24.9h0.9M50.2 19.2h0.9M65.3 43.8h0.9M28.0 49.1h0.9M59.8 47.6h0.9M42.0 26.5h0.9M60.4 22.1h0.9M44.7 17.5h0.9M29.0 66.5h0.9M30.7 48.7h0.9M34.9 67.7h0.9M51.9 22.7h0.9M83.7 15.8h0.9M54.3 19.7h0.9M69.5 22.0h0.9M69.9 22.9h0.9M56.5 19.0h0.9M74.9 21.3h0.9M58.1 21.1h0.9M32.8 33.1h0.9M51.5 13.2h0.9M62.4 15.6h0.9M46.5 66.5h0.9M26.9 63.2h0.9M24.7 59.2h0.9M19.9 41.1h0.9M25.9 69.4h0.9M74.4 23.6h0.9M64.9 44.0h0.9M25.2 56.0h0.9M55.0 20.7h0.9M54.2 21.3h0.9M28.0 46.3h0.9M33.9 68.6h0.9M57.4 19.6h0.9M46.1 23.8h0.9M67.2 22.9h0.9M43.8 69.2h0.9M71.0 33.0h0.9M61.9 26.6h0.9M70.4 2.8h0.9M54.2 57.7h0.9M59.5 22.4h0.9M33.5 57.7h0.9M44.6 22.6h0.9M62.1 41.3h0.9M67.3 38.1h0.9M72.9 15.9h0.9M80.9 18.8h0.9M59.3 41.6h0.9M51.4 36.0h0.9M65.8 19.5h0.9M78.3 29.0h0.9M80.4 22.6h0.9M71.8 18.8h0.9M84.3 20.4h0.9M79.3 25.9h0.9M73.6 39.3h0.9M74.6 15.5h0.9M73.5 16.2h0.9M84.8 20.3h0.9M66.7 18.9h0.9M63.4 19.7h0.9M78.5 14.7h0.9M77.7 27.1h0.9M79.8 11.1h0.9M62.8 12.6h0.9M55.4 30.8h0.9M61.0 39.9h0.9M56.1 40.0h0.9M75.0 15.1h0.9M56.8 35.6h0.9M68.5 16.4h0.9M54.7 38.4h0.9M80.7 27.4h0.9M81.1 23.8h0.9M73.1 12.1h0.9M57.4 40.7h0.9M51.8 33.5h0.9M91.1 2.8h0.9M71.5 32.8h0.9M78.7 9.4h0.9M91.7 3.7h0.9M97.0 5.0h0.9M74.8 18.4h0.9M72.4 32.3h0.9M67.6 36.5h0.9M72.2 24.6h0.9M94.2 3.3h0.9M82.9 8.7h0.9M72.2 31.6h0.9M82.1 9.7h0.9M73.6 31.5h0.9M75.4 31.7h0.9M90.7 3.7h0.9M68.1 35.8h0.9M82.7 27.4h0.9M73.9 22.9h0.9M90.4 13.7h0.9M74.3 33.8h0.9M75.9 14.4h0.9M72.7 36.3h0.9M94.0 5.6h0.9M80.3 26.5h0.9M71.9 22.1h0.9M89.0 15.9h0.9M90.3 3.7h0.9M92.6 1.3h0.9M75.8 33.7h0.9M93.9 2.7h0.9M82.8 7.8h0.9M91.6 5.7h0.9M74.0 34.2h0.9M92.8 6.1h0.9M72.6 34.4h0.9M72.9 26.7h0.9M85.0 49.7h0.9M76.0 45.2h0.9M78.3 50.3h0.9M84.9 47.0h0.9M84.0 52.2h0.9M79.2 45.7h0.9M84.7 48.5h0.9M80.6 46.4h0.9M80.2 48.9h0.9M85.0 44.7h0.9M84.7 49.3h0.9M85.7 54.3h0.9M79.8 41.6h0.9M81.3 51.7h0.9M80.8 52.3h0.9M86.1 43.6h0.9M74.5 47.8h0.9M86.0 46.0h0.9M80.6 48.8h0.9M84.2 46.8h0.9M80.9 47.2h0.9M90.3 49.7h0.9M77.1 47.4h0.9M75.6 45.7h0.9M70.2 51.5h0.9M84.3 48.9h0.9M87.3 51.6h0.9M78.4 51.5h0.9M81.7 48.9h0.9M75.5 49.2h0.9M82.3 48.9h0.9M75.9 45.6h0.9M78.1 50.8h0.9M75.7 47.5h0.9M78.7 43.7h0.9M75.7 46.6h0.9M92.0 48.3h0.9M87.1 48.6h0.9M80.4 51.2h0.9M87.3 37.2h0.9" stroke="#ADA9B1"/><path d="M39.7 60.6h0.9M41.3 44.4h0.9M57.4 26.4h0.9M63.9 31.3h0.9M43.5 31.3h0.9M67.8 28.9h0.9M68.3 30.7h0.9M34.0 49.0h0.9M43.4 57.1h0.9M44.4 26.9h0.9M34.8 36.9h0.9M54.3 45.4h0.9M44.7 54.1h0.9M46.8 32.7h0.9M52.5 26.0h0.9M43.2 28.9h0.9M63.5 37.3h0.9M40.8 28.2h0.9M38.2 49.2h0.9M58.8 25.4h0.9M47.0 51.9h0.9M40.3 53.2h0.9M53.5 52.4h0.9M37.3 52.4h0.9M64.7 42.6h0.9M66.1 24.1h0.9M45.8 57.4h0.9M57.9 38.5h0.9M43.7 50.7h0.9M37.2 42.9h0.9M67.5 29.0h0.9M62.7 31.9h0.9M61.1 29.5h0.9M62.9 32.5h0.9M48.0 53.1h0.9M36.2 49.6h0.9M55.5 49.8h0.9M35.2 45.9h0.9M58.8 34.0h0.9M68.3 21.3h0.9M29.5 43.7h0.9M46.8 31.5h0.9M40.9 27.6h0.9M62.0 23.6h0.9M59.2 45.5h0.9M63.2 47.2h0.9M54.2 39.0h0.9M37.8 61.0h0.9M32.7 59.7h0.9M48.6 33.3h0.9M55.8 25.9h0.9M62.7 37.6h0.9M30.4 42.5h0.9M55.2 40.5h0.9M61.1 27.7h0.9M58.9 43.5h0.9M50.3 30.1h0.9M44.5 53.1h0.9M57.4 33.1h0.9M30.9 33.9h0.9M57.2 29.3h0.9M53.5 32.9h0.9M36.4 51.9h0.9M44.7 53.0h0.9M36.2 31.9h0.9M61.1 33.4h0.9M60.7 27.2h0.9M62.4 34.5h0.9M47.9 42.6h0.9M39.0 38.6h0.9M58.0 38.2h0.9M33.2 50.4h0.9M55.0 32.7h0.9M25.2 50.2h0.9M48.2 26.4h0.9M67.4 20.5h0.9M34.2 37.2h0.9M61.7 32.3h0.9M46.4 26.0h0.9M43.3 56.8h0.9M66.6 25.0h0.9M51.0 33.1h0.9M47.7 55.9h0.9M55.0 23.6h0.9M50.0 39.0h0.9M57.0 43.9h0.9M34.6 40.3h0.9M39.6 29.4h0.9M40.5 62.9h0.9M40.3 38.8h0.9M47.8 46.9h0.9M44.3 44.0h0.9M66.1 33.9h0.9M31.4 63.7h0.9M45.8 41.8h0.9M61.2 25.8h0.9M58.1 46.5h0.9M41.4 35.3h0.9M65.4 23.2h0.9M49.6 44.2h0.9M60.7 37.6h0.9M52.2 28.9h0.9M50.2 24.8h0.9M68.3 28.5h0.9M41.2 28.8h0.9M47.8 27.5h0.9M49.6 42.3h0.9M44.5 34.8h0.9M48.0 35.1h0.9M50.0 43.2h0.9M53.0 34.1h0.9M40.5 38.7h0.9M44.2 30.5h0.9M54.4 32.0h0.9M42.3 44.0h0.9M32.8 51.9h0.9M27.7 47.1h0.9M50.2 48.6h0.9M56.4 32.3h0.9M47.4 56.2h0.9M53.6 48.2h0.9M54.3 26.4h0.9M49.5 25.1h0.9M42.3 28.7h0.9M58.1 37.5h0.9M46.8 28.9h0.9M61.7 40.9h0.9M42.7 60.7h0.9M27.3 58.5h0.9M56.2 31.3h0.9M45.9 45.9h0.9M64.3 39.7h0.9M57.9 25.1h0.9M59.1 19.0h0.9M38.0 53.9h0.9M26.9 39.9h0.9M52.3 57.8h0.9M64.8 35.7h0.9M55.6 49.6h0.9M36.7 56.3h0.9M36.5 43.5h0.9M60.7 48.1h0.9M42.5 26.1h0.9M42.3 62.2h0.9M29.9 48.8h0.9M41.2 35.8h0.9M63.1 29.8h0.9M46.7 32.7h0.9M35.7 58.0h0.9M37.9 46.0h0.9M58.2 28.7h0.9M60.7 25.5h0.9M46.9 53.1h0.9M60.8 45.1h0.9M42.2 58.6h0.9M62.9 36.4h0.9M60.3 36.6h0.9M48.2 35.9h0.9M30.9 41.3h0.9M29.3 54.5h0.9M51.3 24.3h0.9M45.9 53.7h0.9M32.4 54.5h0.9M50.4 34.6h0.9M54.9 27.3h0.9M49.9 52.3h0.9M47.3 49.1h0.9M62.1 36.5h0.9M48.4 50.8h0.9M46.9 32.6h0.9M51.5 59.1h0.9M32.3 38.4h0.9M40.1 49.0h0.9M70.1 32.2h0.9M51.8 49.5h0.9M60.1 26.1h0.9M59.1 24.0h0.9M65.8 37.7h0.9M42.6 44.8h0.9M47.5 58.9h0.9M34.8 42.7h0.9M56.1 33.8h0.9M62.7 35.5h0.9M32.4 50.6h0.9M46.9 27.0h0.9M67.0 23.0h0.9M47.3 55.9h0.9M39.9 45.3h0.9M59.7 21.2h0.9M40.5 47.3h0.9M57.8 45.8h0.9M39.7 52.3h0.9M34.5 44.1h0.9M34.6 59.2h0.9M35.1 54.1h0.9M54.3 41.9h0.9M54.6 49.7h0.9M68.0 25.6h0.9M64.1 33.4h0.9M61.5 40.2h0.9M47.3 27.2h0.9M51.0 33.5h0.9M57.7 48.8h0.9M29.0 49.8h0.9M44.2 27.5h0.9M57.6 51.8h0.9M36.1 57.6h0.9M35.0 61.6h0.9M54.4 41.8h0.9M38.1 51.1h0.9M34.4 43.0h0.9M55.3 42.5h0.9M62.9 42.9h0.9M35.8 33.7h0.9M51.8 44.7h0.9M52.8 27.0h0.9M44.3 29.1h0.9M40.9 37.9h0.9M65.1 30.8h0.9M65.8 24.8h0.9M51.6 43.4h0.9M29.9 47.9h0.9M67.4 42.8h0.9M44.3 49.5h0.9M67.4 45.1h0.9M50.8 38.1h0.9M30.6 46.7h0.9M35.9 49.8h0.9M34.2 54.5h0.9M57.6 35.2h0.9M66.9 19.9h0.9M52.6 34.7h0.9M59.6 45.4h0.9M35.8 49.6h0.9M51.2 25.2h0.9M29.9 54.9h0.9M44.5 58.6h0.9M38.8 57.1h0.9M55.7 53.1h0.9M66.5 28.9h0.9M29.9 56.8h0.9M60.3 41.6h0.9M66.6 29.4h0.9M54.5 30.6h0.9M42.2 55.1h0.9M36.9 53.9h0.9M45.4 23.3h0.9M62.3 34.0h0.9M32.4 43.0h0.9M45.5 52.4h0.9M59.6 45.6h0.9M68.5 38.9h0.9M51.0 48.2h0.9M44.5 26.5h0.9M34.6 51.2h0.9M47.6 56.4h0.9M70.7 29.5h0.9M55.2 29.1h0.9M45.8 33.8h0.9M47.5 32.4h0.9M54.7 34.3h0.9M42.7 52.6h0.9M38.7 32.1h0.9M55.2 47.7h0.9M29.9 47.6h0.9M31.3 37.4h0.9M53.8 23.2h0.9M35.5 37.0h0.9M42.2 28.7h0.9M62.6 41.5h0.9M41.7 36.3h0.9M43.0 59.0h0.9M54.1 28.4h0.9M47.9 40.2h0.9M44.1 27.4h0.9M52.3 45.8h0.9M34.4 51.9h0.9M59.0 42.9h0.9M64.2 29.7h0.9M38.1 51.4h0.9M60.4 48.2h0.9M61.8 23.3h0.9M59.0 39.6h0.9M59.2 32.9h0.9M60.1 41.9h0.9M41.8 32.5h0.9M48.9 53.2h0.9M63.8 21.3h0.9M49.4 49.5h0.9M37.0 29.8h0.9M45.1 32.9h0.9M43.7 45.6h0.9M44.8 32.0h0.9M56.3 21.7h0.9M63.8 35.5h0.9M46.3 34.8h0.9M32.1 46.4h0.9M29.6 56.3h0.9M66.5 41.1h0.9M33.3 46.2h0.9M26.5 61.0h0.9M34.1 55.1h0.9M45.3 44.8h0.9M60.6 33.8h0.9M39.0 47.6h0.9M38.4 35.9h0.9M28.1 51.8h0.9M50.2 52.8h0.9M34.9 34.7h0.9M54.1 21.6h0.9M29.2 45.4h0.9M31.2 49.2h0.9M56.3 40.3h0.9M43.9 37.7h0.9M59.5 35.1h0.9M49.2 24.1h0.9M29.6 56.2h0.9M42.0 54.6h0.9M67.6 38.0h0.9M31.1 67.2h0.9M35.0 54.1h0.9M29.0 47.5h0.9M45.0 28.3h0.9M35.5 50.4h0.9M50.3 57.8h0.9M40.1 36.8h0.9M35.2 40.2h0.9M47.3 52.0h0.9M47.3 22.9h0.9M56.3 41.2h0.9M57.2 36.7h0.9M42.5 35.4h0.9M30.6 40.4h0.9M48.4 53.6h0.9M52.2 54.3h0.9M34.6 56.3h0.9M35.8 42.6h0.9M34.5 49.6h0.9M39.5 50.4h0.9M39.3 47.1h0.9M42.0 32.4h0.9M38.4 31.8h0.9M38.3 28.3h0.9M57.8 48.6h0.9M25.7 53.3h0.9M57.2 33.2h0.9M26.4 54.9h0.9M51.7 31.1h0.9M63.6 35.7h0.9M43.5 35.5h0.9M53.7 32.9h0.9M63.0 33.8h0.9M66.3 30.5h0.9M58.5 43.6h0.9M34.8 58.3h0.9M45.7 32.0h0.9M58.7 52.3h0.9M31.8 55.4h0.9M35.3 26.8h0.9M62.2 37.6h0.9M47.4 35.9h0.9M55.6 24.7h0.9M34.5 61.5h0.9M35.9 60.0h0.9M55.9 48.8h0.9M56.0 18.4h0.9M36.5 34.0h0.9M50.4 48.7h0.9M64.1 47.2h0.9M50.5 49.5h0.9M43.0 55.5h0.9M44.8 54.3h0.9M54.5 32.8h0.9M38.1 46.3h0.9M52.6 30.3h0.9M51.7 49.2h0.9M34.4 57.6h0.9M28.6 50.2h0.9M41.2 54.4h0.9M34.4 37.4h0.9M55.4 35.7h0.9M64.9 27.5h0.9M59.4 38.2h0.9M53.2 36.2h0.9M44.9 28.9h0.9M40.9 45.0h0.9M54.6 52.9h0.9M34.0 43.7h0.9M39.1 66.1h0.9M41.7 54.1h0.9M49.5 24.9h0.9M30.9 35.6h0.9M51.0 39.8h0.9M56.5 16.0h0.9M54.3 29.7h0.9M67.1 22.2h0.9M39.2 35.4h0.9M29.2 52.8h0.9M57.8 34.4h0.9M62.1 24.6h0.9M28.7 46.6h0.9M40.5 42.3h0.9M41.2 38.4h0.9M45.6 34.2h0.9M58.1 52.0h0.9M58.4 43.5h0.9M38.6 34.1h0.9M54.8 50.7h0.9M42.5 35.5h0.9M49.3 51.5h0.9M63.3 31.3h0.9M44.8 33.5h0.9M35.4 43.7h0.9M57.7 49.6h0.9M50.3 31.8h0.9M44.7 50.0h0.9M42.9 42.8h0.9M47.1 36.1h0.9M49.1 35.7h0.9M59.5 23.9h0.9M58.4 34.7h0.9M56.9 30.4h0.9M53.4 52.2h0.9M51.2 30.9h0.9M63.5 25.4h0.9M38.8 38.9h0.9M46.1 28.4h0.9M51.4 26.3h0.9M35.8 41.1h0.9M32.5 45.7h0.9M43.6 60.1h0.9M62.8 25.4h0.9M44.8 55.9h0.9M69.6 25.9h0.9M51.2 26.9h0.9M54.2 41.0h0.9M56.8 43.5h0.9M37.7 39.6h0.9M48.4 21.4h0.9M52.8 39.4h0.9M40.0 48.9h0.9M27.0 51.4h0.9M52.7 53.2h0.9M52.3 49.3h0.9M32.9 52.3h0.9M64.9 34.6h0.9M53.0 47.5h0.9M49.4 33.5h0.9M49.2 51.4h0.9M43.1 51.8h0.9M38.0 46.7h0.9M46.0 28.5h0.9M40.6 36.7h0.9M58.3 17.9h0.9M23.6 50.7h0.9M26.3 50.3h0.9M42.6 51.3h0.9M62.2 34.7h0.9M59.6 27.3h0.9M32.9 56.7h0.9M39.6 40.9h0.9M54.4 27.8h0.9M56.6 53.9h0.9M49.9 47.6h0.9M37.6 53.2h0.9M39.4 44.8h0.9M40.7 30.7h0.9M46.9 49.1h0.9M53.0 41.7h0.9M49.4 32.1h0.9M33.0 41.0h0.9M63.0 27.0h0.9M41.8 37.0h0.9M32.4 58.5h0.9M54.1 30.1h0.9M56.8 29.4h0.9M57.5 38.0h0.9M41.9 32.3h0.9M60.0 21.5h0.9M52.4 25.0h0.9M33.2 41.2h0.9M29.3 45.2h0.9M41.8 25.2h0.9M49.5 43.7h0.9M41.4 33.5h0.9M47.5 37.0h0.9M45.4 36.4h0.9M30.3 55.4h0.9M30.0 44.3h0.9M34.1 38.2h0.9M61.2 19.5h0.9M58.3 28.9h0.9M56.4 37.5h0.9M60.5 25.9h0.9M31.2 44.1h0.9M57.3 46.7h0.9M46.5 25.8h0.9M40.8 31.1h0.9M53.5 47.4h0.9M30.2 52.6h0.9M57.0 48.9h0.9M58.3 43.6h0.9M55.3 34.0h0.9M30.1 47.7h0.9M28.6 54.8h0.9M70.0 33.1h0.9M52.1 45.1h0.9M61.7 36.9h0.9M74.5 25.2h0.9M73.8 19.2h0.9M52.9 26.1h0.9M59.0 28.0h0.9M65.6 34.6h0.9M70.3 17.8h0.9M77.0 22.6h0.9M67.3 19.5h0.9M69.9 33.3h0.9M65.0 25.0h0.9M60.0 26.4h0.9M81.0 16.8h0.9M67.4 20.8h0.9M70.4 27.2h0.9M73.8 23.7h0.9M70.7 31.2h0.9M66.8 27.6h0.9M70.0 34.4h0.9M66.1 29.2h0.9M59.1 32.4h0.9M60.1 28.8h0.9M57.3 33.3h0.9M73.6 25.6h0.9M72.7 23.2h0.9M58.1 33.7h0.9M62.1 30.5h0.9M73.1 24.2h0.9M67.9 23.5h0.9M67.6 19.6h0.9M72.7 18.1h0.9M66.0 27.2h0.9M73.6 21.7h0.9M62.6 22.2h0.9M68.9 16.1h0.9M78.1 19.6h0.9M73.2 20.3h0.9M71.4 33.1h0.9M72.6 21.8h0.9M75.0 25.5h0.9M73.9 24.6h0.9M73.8 17.7h0.9M70.7 21.3h0.9M69.2 34.8h0.9M58.8 37.4h0.9M63.5 36.0h0.9M58.2 29.8h0.9M56.1 30.6h0.9M75.1 24.8h0.9M70.6 22.9h0.9M69.2 24.3h0.9M62.2 39.0h0.9M75.8 20.2h0.9M69.0 19.2h0.9M73.3 29.4h0.9M60.8 36.1h0.9M62.9 31.7h0.9M60.2 36.1h0.9M77.4 17.0h0.9M69.9 29.0h0.9M65.6 20.1h0.9M68.9 35.7h0.9M70.1 24.1h0.9M57.6 28.9h0.9M70.5 34.1h0.9M62.9 38.1h0.9M86.6 15.9h0.9M81.9 22.0h0.9M85.8 18.5h0.9M74.8 26.4h0.9M87.1 10.5h0.9M91.0 8.0h0.9M84.2 17.6h0.9M81.2 19.3h0.9M82.2 21.9h0.9M80.7 22.5h0.9M87.9 10.4h0.9M76.7 18.0h0.9M84.8 22.1h0.9M83.6 8.8h0.9M75.0 25.7h0.9M81.8 11.7h0.9M89.9 3.8h0.9M77.7 26.4h0.9M80.6 27.2h0.9M92.3 6.4h0.9M81.3 23.4h0.9M86.0 6.4h0.9M90.4 4.7h0.9M83.4 22.4h0.9M84.9 9.2h0.9M75.6 21.0h0.9M86.8 8.1h0.9M91.4 6.3h0.9M83.2 25.9h0.9M79.5 18.4h0.9M92.7 2.4h0.9M82.3 14.9h0.9M86.5 10.6h0.9M89.7 11.1h0.9M82.3 14.0h0.9M81.4 14.7h0.9M86.0 21.1h0.9M89.1 5.2h0.9M74.6 31.5h0.9M89.4 15.7h0.9M79.1 18.0h0.9M79.3 22.3h0.9M73.0 29.4h0.9M81.2 22.3h0.9M86.6 6.8h0.9M84.0 21.6h0.9M76.7 26.0h0.9M78.0 27.2h0.9M75.5 29.2h0.9M76.7 25.9h0.9M77.3 27.5h0.9M77.7 22.6h0.9M87.7 14.6h0.9M84.6 20.4h0.9M81.8 17.0h0.9M82.9 16.1h0.9M74.5 26.4h0.9M87.3 10.0h0.9M89.7 11.9h0.9M79.4 20.1h0.9M89.6 5.6h0.9M79.5 15.7h0.9M76.0 25.4h0.9M74.1 23.3h0.9M86.7 10.0h0.9M88.3 6.6h0.9M82.7 19.7h0.9M92.4 6.0h0.9M88.3 6.0h0.9M76.2 22.5h0.9M80.2 25.1h0.9M88.1 12.4h0.9M79.2 25.0h0.9M75.6 28.9h0.9M89.4 9.1h0.9M85.2 22.9h0.9M74.9 23.7h0.9M86.4 9.0h0.9M81.0 17.1h0.9M89.3 14.9h0.9M81.6 15.2h0.9M92.4 6.2h0.9M89.2 9.0h0.9M91.0 7.4h0.9M81.2 16.3h0.9M80.9 21.2h0.9M81.3 24.1h0.9M94.6 2.5h0.9M87.1 6.1h0.9M86.2 18.5h0.9M77.6 18.2h0.9M78.2 25.4h0.9M82.0 21.7h0.9M82.4 25.1h0.9M77.4 23.0h0.9M79.6 24.4h0.9M84.9 18.5h0.9M87.8 13.9h0.9M88.9 11.7h0.9M89.3 5.9h0.9M92.4 5.3h0.9M90.6 3.5h0.9M83.1 19.4h0.9M75.9 24.8h0.9M76.2 27.4h0.9M81.1 19.8h0.9M93.2 3.5h0.9M89.6 10.9h0.9M84.2 19.5h0.9M79.9 17.2h0.9M85.3 8.6h0.9M90.0 8.8h0.9M83.3 14.1h0.9M73.9 24.7h0.9M78.8 14.9h0.9M74.0 28.0h0.9M84.4 7.4h0.9M74.7 19.8h0.9M80.7 25.5h0.9M83.9 12.8h0.9M82.0 12.0h0.9M75.0 28.7h0.9M89.9 5.3h0.9M76.7 24.6h0.9M76.2 21.6h0.9M91.6 7.5h0.9M92.9 5.4h0.9M76.1 22.5h0.9M76.4 27.7h0.9M83.9 13.6h0.9M80.4 19.6h0.9M81.4 18.3h0.9M86.0 12.3h0.9M75.2 30.9h0.9M85.0 12.8h0.9M89.2 14.0h0.9M86.2 14.8h0.9M77.8 17.3h0.9M85.2 17.1h0.9" stroke="#B283B6"/><path d="M54.7 28.7h0.9M55.4 33.5h0.9M37.4 58.0h0.9M57.6 32.5h0.9M51.1 42.1h0.9M37.5 52.0h0.9M54.2 31.5h0.9M45.8 54.7h0.9M40.1 51.6h0.9M53.5 47.9h0.9M56.6 27.5h0.9M48.4 48.3h0.9M43.5 58.6h0.9M38.5 43.1h0.9M50.2 43.6h0.9M35.3 45.1h0.9M35.1 51.8h0.9M41.1 33.0h0.9M46.1 34.9h0.9M49.3 28.0h0.9M54.0 28.2h0.9M34.0 37.4h0.9M29.5 47.0h0.9M51.6 50.9h0.9M49.2 31.7h0.9M56.0 33.4h0.9M45.1 56.8h0.9M44.2 32.2h0.9M31.7 50.5h0.9M42.7 33.1h0.9M35.6 52.2h0.9M42.6 33.8h0.9M40.0 53.0h0.9M42.8 32.1h0.9M33.7 46.7h0.9M57.3 37.2h0.9M34.5 53.2h0.9M55.1 30.2h0.9M31.1 43.8h0.9M41.2 49.3h0.9M41.5 39.2h0.9M56.9 46.3h0.9M43.2 57.3h0.9M60.5 26.1h0.9M46.3 37.1h0.9M59.5 29.4h0.9M37.1 50.9h0.9M41.3 35.9h0.9M59.9 31.7h0.9M40.1 43.7h0.9M58.4 31.5h0.9M42.7 27.0h0.9M45.3 31.8h0.9M59.7 33.6h0.9M39.8 30.8h0.9M41.6 56.5h0.9M51.2 51.5h0.9M44.1 38.6h0.9M60.8 34.9h0.9M38.2 56.4h0.9M63.4 41.3h0.9M62.9 39.1h0.9M52.9 28.5h0.9M36.8 51.0h0.9M34.7 59.7h0.9M34.5 51.1h0.9M39.0 40.2h0.9M64.6 33.4h0.9M48.7 54.5h0.9M48.9 32.4h0.9M42.5 45.2h0.9M60.3 38.9h0.9M54.1 45.5h0.9M51.4 23.6h0.9M43.3 51.0h0.9M42.8 51.5h0.9M51.5 34.7h0.9M48.8 29.5h0.9M62.4 32.1h0.9M63.5 26.4h0.9M50.6 29.7h0.9M61.3 43.4h0.9M61.9 37.5h0.9M51.3 45.2h0.9M58.6 39.8h0.9M60.4 30.4h0.9M46.9 49.7h0.9M36.9 40.0h0.9M40.7 27.2h0.9M37.0 52.6h0.9M52.8 49.3h0.9M55.5 28.8h0.9M55.8 30.5h0.9M33.8 48.5h0.9M54.4 23.2h0.9M56.8 31.2h0.9M41.3 41.3h0.9M45.6 37.7h0.9M58.4 38.9h0.9M43.1 35.3h0.9M62.0 28.0h0.9M51.2 29.0h0.9M42.7 52.6h0.9M44.6 53.6h0.9M62.0 25.4h0.9M64.5 24.1h0.9M62.7 33.2h0.9M37.7 46.1h0.9M57.1 41.5h0.9M37.8 51.5h0.9M47.8 53.3h0.9M39.8 29.1h0.9M40.6 43.0h0.9M49.1 32.2h0.9M49.3 50.6h0.9M59.8 42.2h0.9M60.5 40.3h0.9M54.4 41.2h0.9M52.0 46.3h0.9M53.1 29.0h0.9M35.9 45.1h0.9M45.9 51.3h0.9M40.4 47.7h0.9M55.3 43.6h0.9M38.1 49.6h0.9M34.6 52.5h0.9M47.8 30.0h0.9M43.6 35.3h0.9M36.5 43.0h0.9M61.3 38.6h0.9M37.3 41.1h0.9M46.2 48.2h0.9M40.4 39.7h0.9M37.5 55.2h0.9M47.9 28.1h0.9M50.5 34.7h0.9M42.7 57.6h0.9M56.3 35.0h0.9M51.2 50.2h0.9M40.7 35.4h0.9M47.7 49.6h0.9M24.1 53.6h0.9M39.2 40.2h0.9M38.0 46.5h0.9M49.1 34.5h0.9M47.8 29.7h0.9M33.3 53.6h0.9M45.2 46.6h0.9M42.1 41.9h0.9M52.5 28.5h0.9M60.1 32.5h0.9M65.1 38.7h0.9M61.3 43.0h0.9M51.3 29.0h0.9M49.4 50.9h0.9M59.2 32.5h0.9M26.4 52.4h0.9M31.7 52.7h0.9M46.8 45.6h0.9M42.9 34.7h0.9M44.3 34.9h0.9M35.7 48.7h0.9M51.6 28.4h0.9M40.7 54.8h0.9M55.8 45.1h0.9M53.7 49.1h0.9M36.7 51.0h0.9M49.8 40.1h0.9M39.4 42.6h0.9M40.3 51.2h0.9M56.5 28.5h0.9M50.9 32.1h0.9M41.9 33.7h0.9M51.9 23.6h0.9M31.7 44.9h0.9M60.6 46.4h0.9M60.2 36.9h0.9M58.5 39.4h0.9M41.5 52.7h0.9M59.2 42.2h0.9M54.8 46.6h0.9M35.1 44.3h0.9M40.9 49.3h0.9M52.8 30.8h0.9M37.9 50.9h0.9M54.2 41.4h0.9M37.7 48.9h0.9M33.6 56.1h0.9M39.2 41.8h0.9M59.6 42.4h0.9M43.7 54.9h0.9M34.2 43.3h0.9M31.6 59.0h0.9M42.6 36.8h0.9M33.1 44.4h0.9M66.2 29.2h0.9M40.7 37.6h0.9M36.2 36.4h0.9M54.4 29.4h0.9M40.2 54.5h0.9M65.1 29.0h0.9M58.9 28.7h0.9M39.6 34.7h0.9M55.1 30.1h0.9M58.4 36.5h0.9M41.0 51.3h0.9M56.9 28.0h0.9M38.8 34.6h0.9M57.7 34.4h0.9M43.5 34.7h0.9M54.5 43.0h0.9M46.9 50.2h0.9M53.7 36.5h0.9M60.1 31.8h0.9M34.5 38.2h0.9M60.9 29.7h0.9M42.5 50.4h0.9M62.3 27.1h0.9M54.9 46.5h0.9M33.8 50.8h0.9M65.3 36.5h0.9M63.0 28.2h0.9M41.2 38.5h0.9M61.2 34.9h0.9M57.4 32.2h0.9M42.7 35.1h0.9M53.4 42.0h0.9M42.9 51.8h0.9M52.7 36.2h0.9M53.2 28.2h0.9M55.6 35.2h0.9M53.9 25.7h0.9M34.6 52.3h0.9M47.5 27.3h0.9M49.8 44.8h0.9M61.7 39.9h0.9M42.7 60.4h0.9M38.7 46.0h0.9M50.0 48.7h0.9M39.7 40.3h0.9M35.3 38.4h0.9M57.4 27.1h0.9M55.6 39.5h0.9M60.1 40.0h0.9M43.4 56.5h0.9M60.4 34.0h0.9M57.4 31.5h0.9M54.5 39.9h0.9M57.1 27.9h0.9M62.0 25.5h0.9M58.2 32.9h0.9M52.2 52.5h0.9M54.9 40.7h0.9M53.6 22.8h0.9M35.0 48.1h0.9M39.8 51.2h0.9M55.9 32.1h0.9M38.3 45.3h0.9M52.0 30.0h0.9M40.4 39.0h0.9M34.7 48.3h0.9M65.5 35.7h0.9M30.6 48.1h0.9M49.0 32.2h0.9M37.4 37.7h0.9M57.2 44.7h0.9M35.2 47.8h0.9M36.4 39.1h0.9M33.4 54.2h0.9M52.4 43.1h0.9M51.8 39.6h0.9M41.2 40.8h0.9M51.3 44.5h0.9M45.8 33.3h0.9M42.1 56.3h0.9M49.8 32.7h0.9M57.2 33.7h0.9M52.8 43.7h0.9M55.2 29.6h0.9M42.0 30.0h0.9M48.1 48.9h0.9M54.9 37.6h0.9M47.5 49.7h0.9M57.1 44.5h0.9M34.0 45.9h0.9M40.5 55.9h0.9M56.8 32.4h0.9M49.3 46.4h0.9M35.6 35.4h0.9M37.4 41.9h0.9M45.0 30.0h0.9M52.2 35.4h0.9M58.5 36.4h0.9M52.0 49.8h0.9M36.3 53.9h0.9M42.1 41.7h0.9M54.1 43.6h0.9M33.7 41.2h0.9M54.5 45.3h0.9M58.3 35.5h0.9M40.9 30.7h0.9M41.0 52.8h0.9M49.8 31.3h0.9M42.0 55.4h0.9M58.6 43.5h0.9M58.1 31.6h0.9M48.5 37.0h0.9M54.3 34.4h0.9M41.5 30.4h0.9M50.8 31.2h0.9M47.4 32.9h0.9M31.8 52.9h0.9M46.6 49.6h0.9M45.8 48.3h0.9M37.5 48.1h0.9M68.6 36.1h0.9M56.9 29.1h0.9M64.5 35.2h0.9M64.2 39.3h0.9M47.0 25.9h0.9M39.6 33.7h0.9M38.6 43.6h0.9M54.1 38.9h0.9M36.0 44.2h0.9M48.9 51.3h0.9M51.2 29.6h0.9M49.4 29.3h0.9M52.2 27.9h0.9M57.5 40.7h0.9M45.4 35.1h0.9M59.2 35.5h0.9M47.2 53.8h0.9M56.1 30.7h0.9M58.3 31.0h0.9M35.4 38.4h0.9M56.8 47.5h0.9M37.5 36.2h0.9M56.6 38.0h0.9M56.3 43.9h0.9M32.9 53.0h0.9M54.0 33.4h0.9M58.7 34.8h0.9M27.4 45.5h0.9M46.6 29.8h0.9M61.3 31.3h0.9M58.2 24.3h0.9M38.9 43.9h0.9M49.4 32.6h0.9M36.5 57.1h0.9M33.1 53.6h0.9M58.5 43.6h0.9M41.4 56.5h0.9M50.4 31.6h0.9M34.3 53.9h0.9M33.7 58.7h0.9M48.2 48.9h0.9M39.4 50.9h0.9M52.7 46.7h0.9M35.6 34.5h0.9M37.9 47.0h0.9M31.6 51.0h0.9M32.5 46.8h0.9M57.4 34.7h0.9M50.6 47.3h0.9M54.5 52.5h0.9M43.3 50.0h0.9M47.4 35.4h0.9M49.0 32.1h0.9M32.6 40.5h0.9M40.7 38.8h0.9M52.9 47.6h0.9M56.5 44.1h0.9M36.8 40.2h0.9M29.2 54.8h0.9M57.3 34.5h0.9M66.2 27.6h0.9M40.1 40.1h0.9M35.9 51.1h0.9M49.6 30.0h0.9M56.5 42.6h0.9M62.8 28.9h0.9M34.7 54.6h0.9M55.0 31.2h0.9M59.4 24.5h0.9M54.3 45.1h0.9M55.3 47.3h0.9M59.7 43.8h0.9M46.4 33.9h0.9M56.9 40.7h0.9M35.8 42.7h0.9M44.9 37.2h0.9M47.6 46.1h0.9M39.8 45.5h0.9M47.4 48.1h0.9M45.2 51.3h0.9M59.5 40.9h0.9M40.5 49.3h0.9M51.9 49.9h0.9M38.1 50.1h0.9M31.5 45.8h0.9M51.6 33.7h0.9M51.1 33.9h0.9M43.7 38.4h0.9M34.8 56.4h0.9M54.4 48.1h0.9M36.5 57.2h0.9M45.5 54.6h0.9M61.0 30.0h0.9M55.3 50.3h0.9M49.2 50.2h0.9M51.3 25.9h0.9M41.7 52.0h0.9M51.3 35.0h0.9M49.4 52.6h0.9M42.8 56.6h0.9M45.8 33.3h0.9M41.2 30.6h0.9M30.3 49.1h0.9M61.9 29.9h0.9M57.3 39.5h0.9M36.9 56.4h0.9M48.9 49.1h0.9M49.3 50.4h0.9M56.1 30.8h0.9M55.5 34.2h0.9M33.9 53.4h0.9M51.8 33.4h0.9M60.7 24.3h0.9M32.0 42.8h0.9M34.6 42.4h0.9M45.4 35.9h0.9M36.2 38.1h0.9M37.8 44.5h0.9M39.2 41.4h0.9M34.4 47.8h0.9M55.4 32.7h0.9M62.2 35.4h0.9M39.9 42.8h0.9M38.7 38.9h0.9M31.0 49.7h0.9M34.7 38.6h0.9M60.4 36.8h0.9M39.4 49.7h0.9M47.8 51.6h0.9M57.4 35.0h0.9M39.4 54.7h0.9M55.6 26.3h0.9M45.5 60.6h0.9M66.6 28.4h0.9M53.4 47.1h0.9M26.2 55.6h0.9M35.7 52.7h0.9M50.2 53.2h0.9M55.1 39.1h0.9M59.6 34.6h0.9M42.3 52.5h0.9M49.6 52.0h0.9M27.6 48.6h0.9M60.5 34.0h0.9M32.7 53.5h0.9M42.3 51.1h0.9M44.5 33.4h0.9M53.8 26.7h0.9M51.2 32.3h0.9M61.6 39.4h0.9M58.7 46.8h0.9M56.4 21.5h0.9M45.5 26.6h0.9M39.0 42.8h0.9M53.4 46.7h0.9M62.1 32.4h0.9M57.2 24.2h0.9M58.2 33.9h0.9M40.8 55.9h0.9M43.8 33.1h0.9M58.7 45.5h0.9M50.4 53.0h0.9M39.7 35.4h0.9M56.2 28.2h0.9M62.8 36.6h0.9M55.5 36.6h0.9M64.5 27.7h0.9M56.3 38.5h0.9M32.0 53.1h0.9M40.7 48.7h0.9M33.5 38.0h0.9M35.1 52.8h0.9M61.3 33.8h0.9M46.8 49.3h0.9M46.9 29.9h0.9M46.5 53.9h0.9M36.7 37.9h0.9M38.3 50.4h0.9M38.0 50.4h0.9M42.2 29.4h0.9M68.1 26.1h0.9M49.9 52.3h0.9M58.2 32.0h0.9M52.4 47.5h0.9M32.7 42.7h0.9M32.5 46.9h0.9M61.6 29.4h0.9M51.2 51.5h0.9M47.4 50.6h0.9M40.1 41.7h0.9M47.4 51.8h0.9M43.5 40.6h0.9M37.1 40.4h0.9M36.4 48.4h0.9M59.1 46.1h0.9M45.4 55.8h0.9M52.3 47.3h0.9M59.9 41.2h0.9M45.9 32.7h0.9M62.5 25.5h0.9M45.6 34.3h0.9M59.5 33.4h0.9M33.2 39.4h0.9M54.5 39.1h0.9M37.3 46.5h0.9M38.0 31.9h0.9M62.6 36.6h0.9M45.8 48.0h0.9M40.0 53.1h0.9M64.3 29.3h0.9M57.7 40.5h0.9M35.9 45.0h0.9M43.6 31.8h0.9M61.6 30.4h0.9M40.3 52.5h0.9M52.1 46.9h0.9M51.6 46.8h0.9M51.8 28.3h0.9M38.9 44.3h0.9M55.8 39.0h0.9M46.4 38.0h0.9M45.7 52.4h0.9M61.3 34.8h0.9M52.7 30.6h0.9M51.0 40.6h0.9M54.4 29.9h0.9M41.9 34.5h0.9M42.7 34.4h0.9M46.4 36.8h0.9M39.9 40.8h0.9M51.0 28.1h0.9M37.8 44.3h0.9M37.5 50.6h0.9M38.6 62.5h0.9M49.3 32.3h0.9M62.0 25.2h0.9M52.2 27.6h0.9M64.8 28.6h0.9M62.4 36.3h0.9M38.9 56.8h0.9M39.7 44.8h0.9M46.9 49.4h0.9M40.1 35.9h0.9M58.1 26.6h0.9M44.4 48.3h0.9M63.5 31.1h0.9M55.8 33.5h0.9M48.6 27.9h0.9M48.1 51.6h0.9M56.0 37.0h0.9M40.0 47.4h0.9M55.2 31.7h0.9M34.7 48.3h0.9M50.0 29.7h0.9M31.5 56.4h0.9M37.1 41.6h0.9M54.3 31.3h0.9M44.8 32.8h0.9M38.6 47.8h0.9M33.9 46.4h0.9M51.4 50.7h0.9M40.4 42.1h0.9M51.2 47.6h0.9M51.2 29.5h0.9M44.6 57.8h0.9M61.3 39.0h0.9M55.0 52.5h0.9M45.4 50.7h0.9M56.9 36.3h0.9M51.3 47.9h0.9M39.2 55.6h0.9M31.7 46.0h0.9M43.0 56.6h0.9M28.9 51.6h0.9M47.8 49.7h0.9M43.5 40.2h0.9M37.2 53.3h0.9M65.2 27.3h0.9M37.3 50.5h0.9M26.0 52.4h0.9M37.7 43.2h0.9M42.7 35.7h0.9M45.9 38.8h0.9M57.5 43.4h0.9M60.5 41.3h0.9M47.5 52.6h0.9M57.0 40.7h0.9M37.3 51.3h0.9M59.5 44.2h0.9M57.2 28.3h0.9M45.0 50.9h0.9M51.8 47.5h0.9M39.9 37.4h0.9M32.6 52.4h0.9M47.9 28.6h0.9M38.5 56.4h0.9M40.2 40.4h0.9M42.1 41.6h0.9M34.2 40.4h0.9M40.1 41.2h0.9M37.7 39.8h0.9M38.6 41.6h0.9M63.1 23.9h0.9M37.5 46.0h0.9M37.9 46.9h0.9M38.1 48.2h0.9M31.0 54.2h0.9M57.8 39.0h0.9M36.2 42.8h0.9M60.0 36.0h0.9M59.5 29.2h0.9M49.0 26.4h0.9M38.6 52.6h0.9M43.5 50.5h0.9M52.9 27.8h0.9M63.9 39.8h0.9M50.0 56.5h0.9M53.6 43.5h0.9M59.4 35.8h0.9M39.6 33.6h0.9M53.7 24.7h0.9M57.8 39.8h0.9M57.3 40.5h0.9M49.6 32.4h0.9M39.8 49.3h0.9M39.8 36.8h0.9M59.1 42.6h0.9M52.0 32.2h0.9M39.8 35.3h0.9M49.3 28.3h0.9M37.9 49.5h0.9M33.5 50.5h0.9M54.4 47.5h0.9M58.0 27.8h0.9M58.2 27.7h0.9M62.4 37.7h0.9M46.5 54.1h0.9M53.4 34.5h0.9M43.0 40.2h0.9M42.9 40.2h0.9M60.3 43.5h0.9M54.5 34.2h0.9M48.8 47.7h0.9M53.5 45.4h0.9M32.1 54.0h0.9M59.1 40.7h0.9M63.1 39.0h0.9M53.2 32.8h0.9M60.5 38.4h0.9M48.7 27.5h0.9M58.1 28.5h0.9M46.0 34.9h0.9M59.7 46.3h0.9M47.6 50.5h0.9M49.1 23.8h0.9M60.9 39.9h0.9M43.6 34.6h0.9M45.1 50.8h0.9M44.9 35.0h0.9M38.1 60.3h0.9M35.5 52.4h0.9M34.7 47.3h0.9M52.2 46.8h0.9M59.7 30.7h0.9M58.8 35.4h0.9M59.1 40.6h0.9M63.9 22.6h0.9M59.4 38.8h0.9M39.9 32.2h0.9M56.6 28.8h0.9M31.4 57.6h0.9M32.7 42.7h0.9M53.2 34.5h0.9M35.1 45.7h0.9M60.7 32.1h0.9M45.0 33.7h0.9M52.0 48.0h0.9M56.0 45.4h0.9M45.8 28.2h0.9M43.3 51.4h0.9M58.2 34.2h0.9M54.8 39.5h0.9M43.8 34.0h0.9M36.4 58.5h0.9M64.9 36.7h0.9M50.3 45.3h0.9M42.0 49.6h0.9M44.9 35.8h0.9M66.7 38.1h0.9M44.9 32.9h0.9M60.8 33.2h0.9M36.8 50.5h0.9M32.3 46.4h0.9M52.5 29.2h0.9M33.7 53.7h0.9M57.9 30.0h0.9M51.7 48.4h0.9M36.8 48.5h0.9M55.0 36.5h0.9M49.2 32.8h0.9M41.3 57.9h0.9M38.2 42.2h0.9M45.9 47.2h0.9M44.7 38.5h0.9M32.9 58.0h0.9M59.9 44.0h0.9M44.0 56.2h0.9M36.8 41.2h0.9M39.2 34.6h0.9M58.1 27.3h0.9M58.3 25.5h0.9M43.7 54.7h0.9M60.9 40.8h0.9M34.7 43.8h0.9M49.8 51.5h0.9M49.1 21.3h0.9M65.7 24.7h0.9M60.9 27.9h0.9M65.0 28.1h0.9M38.1 43.9h0.9M43.8 56.8h0.9M51.7 47.9h0.9M41.2 38.2h0.9M43.0 40.9h0.9M39.7 58.4h0.9M59.6 37.7h0.9M61.1 32.2h0.9M68.6 32.3h0.9M49.2 49.1h0.9M35.7 36.8h0.9M63.5 24.2h0.9M46.6 33.1h0.9M61.0 27.7h0.9M56.2 31.7h0.9M61.2 34.7h0.9M55.4 23.4h0.9M35.5 42.7h0.9M59.0 25.3h0.9M60.5 35.9h0.9M55.2 49.6h0.9M48.3 29.9h0.9M59.8 39.1h0.9M54.0 28.0h0.9M38.4 56.4h0.9M41.7 52.7h0.9M40.2 38.1h0.9M61.6 30.4h0.9M49.4 59.5h0.9M30.4 48.8h0.9M59.6 33.2h0.9M39.1 39.5h0.9M53.1 50.7h0.9M47.3 50.6h0.9M48.5 27.2h0.9M35.1 40.8h0.9M45.5 51.2h0.9M54.9 31.2h0.9M52.7 32.6h0.9M49.2 30.9h0.9M50.4 33.2h0.9M43.6 32.8h0.9M33.0 51.8h0.9M40.7 40.3h0.9M59.1 41.7h0.9M44.9 51.2h0.9M45.6 50.3h0.9M41.7 53.9h0.9M37.4 59.1h0.9M53.7 27.1h0.9M55.9 27.1h0.9M41.6 34.9h0.9M56.3 29.6h0.9M34.4 48.4h0.9M57.5 27.3h0.9M39.6 47.2h0.9M55.1 42.8h0.9M39.9 52.0h0.9M57.9 36.4h0.9M59.1 37.4h0.9M55.6 44.3h0.9M52.7 30.8h0.9M39.9 34.9h0.9M55.5 45.8h0.9M58.3 24.3h0.9M34.1 52.9h0.9M30.3 52.4h0.9M39.5 49.1h0.9M42.1 47.8h0.9M55.8 47.3h0.9M56.2 33.3h0.9M43.6 33.3h0.9M41.2 49.1h0.9M34.4 59.5h0.9M54.4 30.9h0.9M40.7 39.2h0.9M61.3 43.1h0.9M35.3 54.2h0.9M62.0 24.0h0.9M61.2 26.7h0.9M39.0 49.3h0.9M44.0 32.2h0.9M44.2 52.8h0.9M41.7 33.3h0.9M55.1 33.7h0.9M55.3 37.8h0.9M45.5 48.4h0.9M47.1 47.2h0.9M43.5 54.9h0.9M45.3 35.4h0.9M58.1 40.6h0.9M41.8 50.9h0.9M49.1 35.5h0.9M49.9 49.7h0.9M57.0 38.4h0.9M49.5 26.3h0.9M45.9 38.3h0.9M36.2 56.8h0.9M61.9 29.9h0.9M51.1 35.0h0.9M47.0 34.6h0.9M51.2 50.8h0.9M37.1 45.0h0.9M47.8 34.3h0.9M52.1 48.0h0.9M34.7 34.0h0.9M47.9 23.3h0.9M63.9 31.4h0.9M50.4 32.6h0.9M36.1 44.3h0.9M67.1 30.7h0.9M49.9 28.4h0.9M63.0 35.4h0.9M40.1 59.1h0.9M33.8 42.4h0.9M35.2 50.8h0.9M59.4 36.5h0.9M50.4 32.1h0.9M48.5 29.8h0.9M40.3 35.7h0.9M45.7 52.5h0.9M36.8 49.3h0.9M41.6 50.8h0.9M52.8 42.4h0.9M44.8 33.7h0.9M34.7 50.2h0.9M36.4 36.9h0.9M60.7 34.6h0.9M54.7 32.4h0.9M40.4 46.4h0.9M51.6 28.0h0.9M54.5 42.2h0.9M50.2 44.4h0.9M61.1 32.8h0.9M51.0 44.2h0.9M48.3 26.6h0.9M60.3 35.7h0.9M44.2 35.0h0.9M35.8 56.5h0.9M49.7 51.1h0.9M36.1 51.4h0.9M66.3 32.9h0.9M35.7 51.9h0.9M39.6 33.8h0.9M39.3 48.0h0.9M62.5 44.0h0.9M51.5 30.7h0.9M43.1 50.1h0.9M64.5 22.4h0.9M53.3 31.7h0.9M33.5 52.1h0.9M38.8 42.7h0.9M37.6 50.0h0.9M62.8 34.0h0.9M60.7 26.1h0.9M56.8 25.0h0.9M48.6 46.7h0.9M36.9 43.1h0.9M51.6 46.1h0.9M61.0 34.0h0.9M55.1 34.9h0.9M42.4 54.4h0.9M55.6 44.3h0.9M63.1 31.5h0.9M57.5 30.6h0.9M56.4 41.6h0.9M44.0 30.6h0.9M44.7 51.6h0.9M38.1 44.9h0.9M50.6 50.3h0.9M58.9 31.6h0.9M64.8 28.1h0.9M37.0 50.1h0.9M50.4 23.7h0.9M34.4 57.0h0.9M58.4 28.1h0.9M55.4 35.6h0.9M45.9 51.0h0.9M56.9 41.3h0.9M33.5 40.1h0.9M57.8 34.7h0.9M44.0 52.3h0.9M34.2 45.3h0.9M39.4 50.5h0.9M48.7 32.9h0.9M58.1 45.2h0.9M47.4 54.6h0.9M48.8 31.0h0.9M56.7 49.5h0.9M27.0 50.8h0.9M63.1 31.9h0.9M32.5 51.3h0.9M54.1 29.9h0.9M32.9 53.9h0.9M45.8 28.8h0.9M43.1 39.9h0.9M43.3 51.0h0.9M46.7 52.4h0.9M54.6 29.0h0.9M47.2 29.5h0.9M65.2 27.1h0.9M40.9 47.2h0.9M56.9 39.4h0.9M38.8 45.8h0.9M39.6 45.4h0.9M53.2 41.6h0.9M62.0 30.5h0.9M59.3 48.3h0.9M61.9 48.2h0.9M37.3 58.2h0.9M45.6 52.8h0.9M47.6 30.1h0.9M36.5 46.8h0.9M39.8 35.8h0.9M35.0 43.2h0.9M55.5 32.8h0.9M55.9 51.8h0.9M59.4 42.3h0.9M60.6 38.3h0.9M48.4 33.7h0.9M55.7 29.0h0.9M32.6 48.9h0.9M55.7 41.6h0.9M58.7 29.2h0.9M51.8 34.2h0.9M50.1 44.3h0.9M60.3 29.6h0.9M55.6 43.5h0.9M54.2 29.2h0.9M30.3 52.1h0.9M55.3 31.9h0.9M37.7 44.1h0.9M39.7 37.6h0.9M35.4 43.7h0.9M60.2 41.9h0.9M50.9 50.8h0.9M47.1 47.1h0.9M36.2 43.2h0.9M44.6 51.6h0.9M34.0 55.2h0.9M37.6 51.4h0.9M58.2 28.7h0.9M65.5 33.2h0.9M55.6 43.3h0.9M61.6 37.0h0.9M58.1 41.3h0.9M54.1 33.3h0.9M66.1 27.4h0.9M56.2 44.6h0.9M36.8 48.8h0.9M63.3 41.2h0.9M51.0 47.5h0.9M47.6 48.2h0.9M28.9 44.4h0.9M42.8 35.4h0.9M42.9 38.6h0.9M56.8 41.3h0.9M68.6 35.3h0.9M39.1 37.9h0.9M36.5 43.2h0.9M55.4 44.0h0.9M43.7 50.5h0.9M59.5 30.5h0.9M44.8 52.2h0.9M60.1 33.7h0.9M41.1 49.8h0.9M56.4 35.4h0.9M54.6 30.8h0.9M37.0 52.9h0.9M59.8 32.2h0.9M35.6 45.3h0.9M50.9 29.4h0.9M37.3 43.4h0.9M38.1 47.9h0.9M36.7 36.6h0.9M38.5 42.4h0.9M55.6 25.3h0.9M32.9 44.0h0.9M59.4 37.0h0.9M40.5 31.3h0.9M55.7 47.7h0.9M41.9 53.2h0.9M49.3 43.7h0.9M57.9 32.6h0.9M35.4 41.0h0.9M54.1 29.3h0.9M56.9 33.0h0.9M36.6 46.0h0.9M44.2 53.6h0.9M42.7 36.0h0.9M53.0 27.1h0.9M50.4 50.2h0.9M37.6 38.1h0.9M48.4 26.5h0.9M38.5 39.9h0.9M67.1 27.7h0.9M50.1 33.4h0.9M36.8 47.9h0.9M34.1 45.2h0.9M57.8 39.8h0.9M39.8 46.7h0.9M31.6 43.4h0.9M58.9 44.7h0.9M56.2 25.2h0.9M46.0 34.0h0.9M31.6 52.3h0.9M44.9 58.5h0.9M36.0 49.9h0.9M48.8 48.4h0.9M37.6 38.7h0.9M58.9 43.9h0.9M35.2 50.1h0.9M37.6 35.9h0.9M60.8 28.4h0.9M53.1 26.2h0.9M62.3 28.8h0.9M56.0 32.2h0.9M53.7 31.5h0.9M39.2 37.4h0.9M52.0 41.7h0.9M57.2 45.5h0.9M58.3 50.1h0.9M37.8 47.9h0.9M58.6 38.6h0.9M50.6 30.9h0.9M48.2 33.7h0.9M60.1 39.1h0.9M51.8 48.2h0.9M64.0 30.2h0.9M61.9 41.2h0.9M41.1 34.4h0.9M34.9 50.0h0.9M48.8 47.0h0.9M42.1 28.4h0.9M44.7 52.5h0.9M36.6 41.8h0.9M53.3 30.6h0.9M38.6 50.3h0.9M40.2 54.8h0.9M62.5 32.8h0.9M37.3 39.5h0.9M38.3 44.8h0.9M57.3 26.7h0.9M37.9 52.5h0.9M54.0 26.9h0.9M56.6 25.2h0.9M38.9 37.9h0.9M32.4 44.5h0.9M37.6 37.6h0.9M41.9 57.5h0.9M59.6 38.8h0.9M50.5 52.3h0.9M50.3 50.4h0.9M54.7 38.0h0.9M55.3 36.1h0.9M34.0 47.9h0.9M59.5 32.4h0.9M39.9 37.0h0.9M45.9 29.4h0.9M41.0 52.6h0.9M36.1 39.6h0.9M36.5 39.5h0.9M53.5 54.0h0.9M41.8 50.2h0.9M59.6 31.1h0.9M48.0 27.8h0.9M57.4 35.5h0.9M38.9 47.6h0.9M55.0 40.4h0.9M54.6 41.4h0.9M56.8 26.2h0.9M49.4 50.2h0.9M34.7 53.9h0.9M33.9 44.1h0.9M51.1 48.6h0.9M34.4 43.0h0.9M58.6 28.0h0.9M43.2 47.8h0.9M53.3 27.1h0.9M55.9 28.9h0.9M63.0 29.8h0.9M63.9 27.7h0.9M59.8 32.2h0.9M51.3 43.5h0.9M36.2 49.4h0.9M49.2 32.1h0.9M60.5 30.2h0.9M61.7 33.8h0.9M61.1 22.1h0.9M36.8 48.6h0.9M60.2 36.0h0.9M51.2 27.6h0.9M55.3 51.8h0.9M57.2 42.5h0.9M45.2 37.0h0.9M61.3 45.3h0.9M55.9 34.7h0.9M55.1 44.9h0.9M50.8 52.9h0.9M66.6 22.0h0.9M43.7 40.1h0.9M38.3 47.5h0.9M64.3 31.6h0.9M39.3 41.7h0.9M47.9 32.5h0.9M36.8 38.1h0.9M33.5 40.5h0.9M52.3 45.7h0.9M48.9 22.3h0.9M55.3 30.9h0.9M30.1 54.9h0.9M57.7 24.2h0.9M53.6 51.9h0.9M46.1 52.5h0.9M57.7 41.0h0.9M33.0 54.7h0.9M49.6 32.9h0.9M55.7 30.1h0.9M46.1 30.4h0.9M53.6 43.5h0.9M52.8 30.6h0.9M57.2 46.5h0.9M58.9 47.8h0.9M44.5 39.4h0.9M56.2 40.3h0.9M39.0 56.0h0.9M35.6 55.8h0.9M63.9 32.8h0.9M50.2 48.7h0.9M40.6 37.4h0.9M58.0 38.5h0.9M34.7 53.4h0.9M59.0 46.2h0.9M53.6 33.2h0.9M54.5 40.0h0.9M58.2 40.6h0.9M56.3 34.1h0.9M51.7 53.6h0.9M40.5 47.8h0.9M47.9 52.6h0.9M38.5 48.3h0.9M32.6 46.9h0.9M33.1 50.6h0.9M32.6 56.3h0.9M63.8 30.4h0.9M38.3 56.0h0.9M40.3 44.1h0.9M52.1 28.7h0.9M34.9 44.0h0.9M56.9 40.6h0.9M34.0 50.3h0.9M65.3 31.3h0.9M58.9 36.3h0.9M61.0 37.2h0.9M39.7 51.7h0.9M48.7 33.1h0.9M47.4 32.1h0.9M40.0 38.6h0.9M57.3 42.7h0.9M55.3 42.5h0.9M36.3 40.4h0.9M56.5 45.9h0.9M64.4 38.0h0.9M47.5 23.8h0.9M48.6 27.0h0.9M59.3 32.1h0.9M58.4 42.1h0.9M59.1 33.2h0.9M49.4 30.8h0.9M61.1 30.1h0.9M40.7 50.3h0.9M53.3 47.6h0.9M45.1 53.9h0.9M60.2 28.3h0.9M36.1 43.6h0.9M41.1 37.4h0.9M52.9 40.5h0.9M48.0 31.1h0.9M50.7 33.1h0.9M37.6 37.7h0.9M56.4 42.9h0.9M57.5 38.6h0.9M59.2 44.0h0.9M34.7 46.4h0.9M36.2 51.1h0.9M40.0 34.9h0.9M42.9 36.0h0.9M44.5 55.3h0.9M54.3 39.4h0.9M40.9 41.5h0.9M53.3 35.2h0.9M39.2 45.6h0.9M31.6 42.8h0.9M47.6 50.8h0.9M38.7 41.6h0.9M58.4 35.0h0.9M53.0 28.6h0.9M64.0 35.2h0.9M45.1 36.4h0.9M39.9 52.4h0.9M59.8 43.7h0.9M64.2 36.5h0.9M63.1 38.6h0.9M41.0 34.9h0.9M34.1 55.4h0.9M61.4 25.7h0.9M65.2 24.5h0.9M69.4 19.1h0.9M71.3 28.5h0.9M67.2 29.3h0.9M67.9 21.1h0.9M65.0 26.1h0.9M66.1 35.3h0.9M66.2 23.1h0.9M64.7 29.7h0.9M72.5 30.3h0.9M66.7 34.3h0.9M60.8 31.9h0.9M68.4 20.9h0.9M56.4 31.3h0.9M64.0 31.3h0.9M64.7 24.9h0.9M71.1 22.7h0.9M67.0 27.5h0.9M74.4 26.2h0.9M58.0 28.6h0.9M69.5 23.4h0.9M67.8 25.7h0.9M70.2 23.9h0.9M62.3 33.3h0.9M65.3 30.5h0.9M67.0 22.0h0.9M68.5 32.5h0.9M72.3 23.4h0.9M65.6 25.0h0.9M70.6 21.8h0.9M67.7 28.4h0.9M71.8 26.6h0.9M74.3 20.3h0.9M71.6 26.3h0.9M69.5 23.2h0.9M70.4 23.0h0.9M62.9 35.2h0.9M70.6 24.2h0.9M64.7 20.6h0.9M66.2 35.4h0.9M73.9 22.6h0.9M71.7 25.2h0.9M65.5 28.0h0.9M61.7 34.0h0.9M70.3 21.6h0.9M72.1 24.9h0.9M65.3 25.6h0.9M63.9 28.9h0.9M69.3 22.9h0.9M62.1 30.2h0.9M70.5 26.5h0.9M65.7 30.9h0.9M69.3 28.7h0.9M72.8 29.4h0.9M63.9 22.2h0.9M65.0 22.2h0.9M74.7 25.6h0.9M64.9 30.2h0.9M65.0 31.3h0.9M60.5 33.0h0.9M62.3 26.3h0.9M70.8 25.7h0.9M73.3 24.2h0.9M68.2 29.0h0.9M68.9 23.3h0.9M72.4 31.4h0.9M67.5 30.7h0.9M66.8 23.1h0.9M63.5 33.9h0.9M64.5 22.3h0.9M71.6 27.7h0.9M64.0 29.0h0.9M69.7 24.4h0.9M74.0 24.3h0.9M63.8 32.4h0.9M75.5 26.1h0.9M70.7 25.1h0.9M68.0 25.3h0.9M64.7 25.6h0.9M73.0 24.2h0.9M70.9 32.4h0.9M71.0 22.1h0.9M67.0 29.2h0.9M72.6 24.1h0.9M67.5 29.2h0.9M76.7 24.5h0.9M64.9 36.3h0.9M70.5 23.6h0.9M72.9 24.3h0.9M70.3 29.0h0.9M59.8 26.0h0.9M65.9 24.9h0.9M73.1 24.7h0.9M68.1 30.9h0.9M66.0 30.8h0.9M65.4 30.0h0.9M60.5 31.8h0.9M67.3 29.2h0.9M63.1 33.9h0.9M77.0 21.4h0.9M65.6 23.0h0.9M63.2 30.1h0.9M60.8 29.5h0.9M64.6 28.1h0.9M66.9 27.6h0.9M68.9 23.7h0.9M68.6 33.0h0.9M70.6 26.4h0.9M67.2 26.3h0.9M69.2 28.9h0.9M65.7 23.8h0.9M66.9 33.7h0.9M64.7 32.9h0.9M68.2 25.6h0.9M64.0 25.8h0.9M62.2 34.0h0.9M67.1 24.2h0.9M66.4 25.3h0.9M70.3 29.8h0.9M63.0 35.2h0.9M65.8 30.7h0.9M74.9 25.5h0.9M64.5 30.6h0.9M72.1 24.3h0.9M71.6 27.6h0.9M68.5 29.0h0.9M62.7 28.5h0.9M75.8 23.6h0.9M71.3 31.5h0.9M82.4 15.6h0.9M82.2 14.5h0.9M77.2 17.9h0.9M88.0 15.3h0.9M81.8 12.9h0.9M80.6 25.5h0.9M83.5 18.1h0.9M84.8 13.2h0.9M81.4 22.7h0.9M82.4 14.9h0.9M77.5 25.8h0.9M77.1 24.3h0.9M81.8 13.8h0.9M81.4 15.4h0.9M81.7 13.6h0.9M85.8 10.0h0.9M80.4 20.8h0.9M87.1 14.2h0.9M82.8 14.4h0.9M91.6 10.2h0.9M87.2 11.4h0.9M85.9 10.2h0.9M83.3 19.3h0.9M88.0 11.7h0.9M84.4 19.1h0.9M90.5 8.8h0.9M85.3 11.2h0.9M86.1 14.6h0.9M80.7 22.8h0.9M84.4 18.2h0.9M80.7 25.9h0.9M85.8 20.4h0.9M84.1 16.1h0.9M81.4 21.4h0.9M79.0 20.8h0.9M80.2 20.5h0.9M83.6 15.0h0.9M79.4 17.6h0.9M80.8 18.3h0.9M85.2 18.5h0.9M85.6 14.2h0.9M84.3 13.6h0.9M85.1 11.3h0.9M91.0 7.3h0.9M87.5 8.0h0.9M80.8 23.1h0.9M80.7 14.5h0.9M88.4 10.6h0.9M87.5 10.5h0.9M78.5 18.7h0.9M79.5 20.4h0.9M78.4 19.7h0.9M82.8 18.2h0.9M83.0 13.9h0.9M83.4 17.2h0.9M79.1 24.5h0.9M85.2 10.5h0.9M77.4 20.9h0.9M85.9 13.2h0.9M80.4 15.3h0.9M83.6 14.4h0.9M86.5 14.3h0.9M80.0 16.1h0.9M80.8 19.7h0.9M82.0 13.3h0.9M82.5 21.3h0.9M78.4 20.8h0.9M89.0 10.6h0.9M83.4 13.7h0.9M81.5 24.3h0.9M80.0 23.4h0.9M84.3 18.0h0.9M76.8 22.4h0.9M89.5 8.4h0.9M90.1 4.2h0.9M79.8 21.2h0.9M87.1 16.8h0.9M78.1 25.2h0.9M82.0 20.1h0.9M82.2 22.8h0.9M82.2 19.1h0.9M83.4 11.5h0.9M78.5 24.6h0.9M82.0 19.4h0.9M78.6 22.8h0.9M84.1 13.3h0.9M81.0 16.8h0.9M85.9 17.4h0.9M82.4 18.9h0.9M84.7 13.9h0.9M81.4 23.0h0.9M84.7 17.0h0.9M81.8 19.0h0.9M86.7 10.5h0.9M76.9 25.8h0.9M84.6 12.0h0.9M86.2 14.6h0.9M85.3 12.6h0.9M82.5 15.8h0.9M86.6 13.7h0.9M77.3 26.5h0.9M77.9 22.9h0.9M80.4 20.3h0.9M87.3 12.9h0.9M84.1 13.4h0.9M84.0 13.7h0.9M78.7 19.7h0.9M83.1 19.0h0.9M78.1 26.9h0.9M82.0 13.6h0.9M89.0 8.7h0.9M78.4 25.0h0.9M84.2 11.5h0.9M80.2 18.4h0.9M75.2 27.7h0.9M82.4 19.8h0.9M83.8 17.1h0.9M81.4 23.6h0.9M83.4 15.0h0.9M84.3 18.1h0.9M85.0 12.8h0.9M86.7 13.0h0.9M88.3 9.7h0.9M80.6 18.9h0.9M85.5 14.9h0.9M77.7 23.6h0.9M80.7 19.5h0.9M85.9 13.5h0.9M79.5 21.1h0.9M82.4 15.1h0.9M80.3 24.3h0.9M85.5 15.8h0.9M85.7 12.2h0.9M82.9 14.9h0.9M76.5 24.2h0.9M85.7 10.3h0.9M85.4 12.9h0.9M85.6 12.2h0.9M87.9 13.0h0.9M86.3 11.6h0.9M81.0 14.6h0.9M83.3 13.8h0.9M78.9 21.4h0.9M85.2 12.2h0.9M86.5 15.5h0.9M81.5 22.0h0.9M82.2 17.0h0.9M82.7 13.7h0.9M81.6 19.3h0.9M81.2 19.2h0.9M84.3 13.6h0.9M80.0 18.0h0.9M79.7 17.4h0.9M87.8 15.6h0.9M86.3 15.0h0.9M87.5 5.5h0.9M86.1 14.8h0.9M76.6 28.3h0.9M87.6 16.8h0.9M84.4 11.7h0.9M83.2 17.5h0.9M79.5 22.1h0.9M74.5 29.2h0.9M78.6 19.5h0.9M85.6 17.7h0.9M77.5 16.7h0.9M78.5 20.5h0.9M78.2 26.0h0.9M88.3 12.6h0.9M74.8 26.6h0.9M79.8 16.7h0.9M83.4 12.9h0.9M87.7 15.0h0.9M84.8 20.3h0.9M77.0 24.7h0.9M81.6 19.0h0.9M88.0 9.7h0.9M89.0 9.6h0.9M86.0 17.7h0.9M84.5 11.9h0.9M80.1 14.5h0.9M90.2 11.7h0.9M78.6 23.8h0.9M87.6 13.9h0.9M78.4 20.7h0.9M79.2 16.1h0.9M82.4 15.3h0.9M80.6 17.2h0.9M87.1 5.8h0.9M82.8 13.7h0.9M78.7 23.9h0.9M80.9 15.8h0.9M88.6 13.2h0.9M82.4 19.5h0.9M84.4 14.7h0.9M79.9 18.2h0.9M86.1 14.3h0.9M85.3 13.7h0.9M79.5 19.9h0.9M83.1 15.1h0.9M78.4 21.8h0.9M77.8 21.7h0.9M81.5 21.6h0.9M90.2 4.4h0.9M80.2 16.2h0.9M85.8 13.2h0.9M81.3 17.3h0.9M79.2 22.6h0.9M82.4 22.2h0.9M86.4 16.1h0.9M79.9 20.5h0.9M82.3 15.2h0.9M89.2 11.2h0.9M88.0 9.5h0.9M85.9 12.1h0.9M80.7 19.5h0.9M75.6 23.4h0.9M77.5 21.6h0.9M84.0 18.6h0.9M82.4 23.0h0.9M83.6 19.8h0.9M76.3 20.2h0.9M84.2 13.1h0.9M81.5 14.8h0.9M80.3 17.0h0.9M84.6 13.6h0.9M81.3 13.2h0.9M84.6 14.8h0.9M87.1 17.1h0.9M79.1 22.2h0.9M85.5 13.6h0.9M77.3 22.8h0.9M77.4 25.2h0.9M76.5 23.3h0.9M83.8 20.8h0.9M77.4 25.6h0.9M84.6 10.3h0.9M85.6 16.8h0.9M81.5 16.3h0.9M78.2 17.7h0.9M76.6 26.3h0.9M81.3 21.6h0.9M78.5 25.3h0.9M77.4 21.0h0.9" stroke="#9C4FA3"/><path d="M47.6 36.1h0.9M38.7 44.1h0.9M37.5 45.8h0.9M57.7 36.8h0.9M56.3 36.2h0.9M37.5 43.1h0.9M48.2 44.7h0.9M48.7 36.1h0.9M59.4 32.5h0.9M42.9 51.1h0.9M51.6 35.1h0.9M48.5 44.0h0.9M55.6 36.4h0.9M39.6 42.1h0.9M48.0 44.0h0.9M42.1 50.6h0.9M41.2 46.0h0.9M37.5 43.0h0.9M40.1 45.6h0.9M47.3 48.0h0.9M54.9 44.7h0.9M43.6 36.4h0.9M43.6 41.4h0.9M43.0 54.6h0.9M40.1 45.2h0.9M41.7 45.0h0.9M50.2 44.5h0.9M42.3 43.8h0.9M40.9 47.5h0.9M60.8 33.0h0.9M37.8 48.9h0.9M46.5 50.1h0.9M53.9 39.8h0.9M53.2 33.2h0.9M43.7 48.6h0.9M48.2 46.5h0.9M45.2 53.8h0.9M38.3 41.4h0.9M45.0 52.6h0.9M57.2 34.2h0.9M55.6 43.3h0.9M46.0 50.3h0.9M55.3 41.0h0.9M40.1 46.1h0.9M53.4 38.4h0.9M42.0 42.0h0.9M48.6 43.8h0.9M50.7 37.4h0.9M48.0 35.7h0.9M52.3 32.8h0.9M52.7 47.3h0.9M44.3 32.8h0.9M49.8 31.0h0.9M41.5 50.3h0.9M32.4 53.5h0.9M41.6 40.6h0.9M45.2 50.8h0.9M41.6 36.1h0.9M40.4 45.2h0.9M40.8 52.4h0.9M38.7 43.0h0.9M34.7 56.4h0.9M42.0 48.6h0.9M42.5 39.6h0.9M37.2 44.0h0.9M45.1 49.1h0.9M55.8 35.3h0.9M57.3 35.0h0.9M57.0 39.3h0.9M38.1 48.0h0.9M36.5 48.1h0.9M42.2 49.2h0.9M42.3 40.1h0.9M45.6 31.8h0.9M56.2 38.0h0.9M50.0 48.0h0.9M57.5 42.7h0.9M54.0 30.6h0.9M48.8 37.3h0.9M37.6 40.5h0.9M36.7 37.1h0.9M46.6 46.5h0.9M37.9 45.9h0.9M55.4 30.3h0.9M41.8 47.0h0.9M42.4 52.0h0.9M40.5 38.4h0.9M51.5 36.2h0.9M41.6 46.3h0.9M41.6 42.1h0.9M41.1 51.5h0.9M38.0 38.9h0.9M41.5 37.0h0.9M38.9 48.6h0.9M48.9 47.5h0.9M53.1 29.5h0.9M42.4 41.2h0.9M51.6 45.6h0.9M55.5 37.3h0.9M48.4 37.0h0.9M47.0 35.4h0.9M59.0 29.4h0.9M50.3 35.3h0.9M58.1 41.3h0.9M56.5 39.4h0.9M48.7 46.4h0.9M43.9 34.8h0.9M46.2 35.7h0.9M50.6 35.1h0.9M48.4 51.4h0.9M59.7 32.2h0.9M40.3 43.8h0.9M50.6 44.1h0.9M55.0 32.3h0.9M37.5 42.7h0.9M49.8 37.8h0.9M55.3 40.5h0.9M40.1 41.6h0.9M43.7 48.0h0.9M40.1 54.7h0.9M42.1 42.9h0.9M41.5 49.9h0.9M45.7 36.3h0.9M48.0 33.7h0.9M53.6 36.4h0.9M37.7 46.3h0.9M40.4 36.7h0.9M43.1 36.8h0.9M44.1 46.6h0.9M38.6 47.3h0.9M42.4 49.4h0.9M40.2 50.5h0.9M42.2 38.1h0.9M54.1 30.2h0.9M43.9 38.5h0.9M46.9 52.6h0.9M45.5 39.5h0.9M49.7 36.6h0.9M51.1 39.4h0.9M57.4 32.0h0.9M47.8 33.4h0.9M40.4 40.2h0.9M57.7 39.1h0.9M47.6 38.2h0.9M55.1 42.0h0.9M37.4 43.0h0.9M55.0 33.6h0.9M55.6 42.8h0.9M48.0 34.7h0.9M50.7 38.1h0.9M53.3 32.0h0.9M37.0 41.4h0.9M42.8 34.1h0.9M55.0 39.5h0.9M57.1 33.4h0.9M47.4 46.9h0.9M42.7 45.0h0.9M55.0 36.7h0.9M47.5 42.0h0.9M41.0 49.3h0.9M39.5 38.3h0.9M52.9 46.6h0.9M42.4 44.0h0.9M52.9 43.6h0.9M45.4 34.8h0.9M42.9 49.6h0.9M45.4 33.8h0.9M49.6 37.4h0.9M52.1 41.9h0.9M39.1 41.7h0.9M42.2 38.0h0.9M60.5 30.1h0.9M57.1 31.3h0.9M47.1 34.6h0.9M52.5 33.7h0.9M46.9 33.2h0.9M54.9 36.0h0.9M59.6 32.0h0.9M55.7 32.2h0.9M46.8 34.9h0.9M45.6 44.6h0.9M49.2 44.2h0.9M46.9 45.9h0.9M39.2 53.5h0.9M39.6 44.3h0.9M57.8 33.9h0.9M50.1 51.1h0.9M41.5 39.0h0.9M49.2 40.5h0.9M44.5 45.5h0.9M56.3 36.5h0.9M53.4 37.9h0.9M42.7 31.8h0.9M42.2 39.4h0.9M55.6 34.5h0.9M34.0 47.9h0.9M46.5 37.7h0.9M59.3 44.0h0.9M32.9 51.4h0.9M43.0 47.6h0.9M46.8 40.6h0.9M43.7 38.7h0.9M47.4 43.3h0.9M48.6 31.6h0.9M56.9 36.0h0.9M63.2 34.7h0.9M59.9 36.2h0.9M48.7 36.6h0.9M48.7 36.9h0.9M54.6 38.6h0.9M50.7 32.0h0.9M39.6 48.5h0.9M48.3 47.2h0.9M38.3 38.0h0.9M49.5 30.2h0.9M45.7 30.9h0.9M41.8 52.0h0.9M41.0 47.2h0.9M42.1 49.0h0.9M47.5 34.1h0.9M39.4 40.8h0.9M49.0 44.1h0.9M45.2 41.5h0.9M48.8 32.8h0.9M50.3 51.3h0.9M58.7 31.6h0.9M55.3 30.5h0.9M42.8 38.5h0.9M48.4 49.1h0.9M54.4 41.4h0.9M47.5 37.8h0.9M44.9 45.3h0.9M54.0 36.5h0.9M53.4 42.3h0.9M44.2 33.8h0.9M38.8 42.3h0.9M36.1 51.1h0.9M42.1 43.0h0.9M51.9 36.1h0.9M47.4 36.7h0.9M47.2 48.8h0.9M54.7 41.7h0.9M42.5 37.0h0.9M50.4 46.4h0.9M54.4 39.9h0.9M48.9 31.6h0.9M42.0 41.9h0.9M41.2 50.8h0.9M48.1 34.7h0.9M40.4 51.0h0.9M40.9 39.8h0.9M42.0 49.7h0.9M37.4 50.5h0.9M55.5 32.9h0.9M58.3 33.8h0.9M42.3 47.3h0.9M39.3 46.7h0.9M43.5 48.4h0.9M57.9 29.5h0.9M52.4 37.4h0.9M56.4 37.9h0.9M51.3 31.7h0.9M65.6 34.8h0.9M40.5 45.2h0.9M37.8 46.0h0.9M53.8 38.9h0.9M37.2 52.4h0.9M52.8 36.9h0.9M53.3 42.1h0.9M47.5 46.0h0.9M41.6 50.1h0.9M51.9 44.4h0.9M55.2 38.2h0.9M48.4 38.0h0.9M35.0 44.7h0.9M47.2 31.6h0.9M57.7 27.4h0.9M49.5 36.1h0.9M36.2 41.0h0.9M50.7 35.7h0.9M46.8 52.4h0.9M37.2 50.2h0.9M44.5 38.4h0.9M39.2 42.4h0.9M59.7 31.1h0.9M54.0 44.6h0.9M56.9 40.8h0.9M43.7 33.7h0.9M49.5 32.3h0.9M36.1 49.9h0.9M43.1 35.7h0.9M40.2 45.9h0.9M54.5 39.2h0.9M42.1 35.1h0.9M43.1 41.7h0.9M39.7 39.7h0.9M44.7 39.2h0.9M37.6 51.4h0.9M42.0 44.1h0.9M45.1 48.2h0.9M31.6 46.8h0.9M38.9 48.8h0.9M35.3 47.2h0.9M47.8 34.5h0.9M38.1 44.8h0.9M39.0 50.0h0.9M40.1 43.5h0.9M56.4 34.5h0.9M54.7 33.4h0.9M48.8 37.3h0.9M51.1 28.1h0.9M55.9 31.7h0.9M56.7 30.5h0.9M52.5 45.7h0.9M51.0 29.9h0.9M56.4 33.0h0.9M40.3 36.6h0.9M54.5 25.9h0.9M44.6 30.8h0.9M54.0 34.4h0.9M54.5 42.1h0.9M54.2 44.0h0.9M41.1 53.2h0.9M53.5 41.0h0.9M48.1 37.6h0.9M43.3 46.1h0.9M48.3 41.4h0.9M45.5 36.1h0.9M48.7 29.7h0.9M48.9 37.5h0.9M58.2 38.9h0.9M54.0 37.3h0.9M44.2 41.2h0.9M41.5 49.8h0.9M43.6 40.8h0.9M52.1 36.9h0.9M46.4 44.0h0.9M52.4 42.7h0.9M49.2 33.9h0.9M39.2 50.7h0.9M56.5 40.4h0.9M48.3 34.9h0.9M51.6 37.4h0.9M44.7 47.0h0.9M52.4 39.7h0.9M47.4 29.9h0.9M39.6 39.8h0.9M42.6 47.4h0.9M43.6 38.3h0.9M46.5 47.3h0.9M42.4 50.0h0.9M51.9 33.1h0.9M40.0 44.8h0.9M56.8 43.1h0.9M58.3 37.6h0.9M55.5 37.2h0.9M49.0 47.3h0.9M39.7 41.7h0.9M44.2 40.1h0.9M49.1 37.1h0.9M52.7 41.3h0.9M55.3 32.6h0.9M38.2 51.9h0.9M48.6 39.8h0.9M41.2 35.6h0.9M50.1 47.8h0.9M51.8 37.6h0.9M43.5 41.3h0.9M47.7 46.1h0.9M58.0 40.3h0.9M43.1 35.0h0.9M41.4 44.9h0.9M39.2 39.9h0.9M41.9 41.8h0.9M46.5 41.4h0.9M41.2 39.5h0.9M52.7 32.2h0.9M48.2 47.4h0.9M55.2 32.3h0.9M56.8 31.9h0.9M44.7 38.6h0.9M55.9 29.1h0.9M54.2 35.9h0.9M56.8 39.7h0.9M51.1 41.4h0.9M49.2 37.6h0.9M44.1 46.1h0.9M44.2 44.8h0.9M53.6 40.5h0.9M46.0 46.1h0.9M46.9 48.2h0.9M47.6 36.5h0.9M45.7 40.2h0.9M37.2 48.7h0.9M52.0 44.7h0.9M54.6 41.3h0.9M37.8 45.8h0.9M43.8 37.5h0.9M44.0 36.4h0.9M56.0 36.0h0.9M55.1 34.1h0.9M48.5 46.1h0.9M44.9 39.9h0.9M43.7 44.5h0.9M43.9 37.2h0.9M50.0 30.2h0.9M39.8 50.5h0.9M53.1 41.8h0.9M52.5 34.9h0.9M54.9 45.4h0.9M51.3 40.4h0.9M53.5 45.5h0.9M50.4 47.0h0.9M40.5 38.2h0.9M36.7 50.5h0.9M53.5 42.5h0.9M46.0 41.3h0.9M59.3 34.0h0.9M40.8 44.0h0.9M42.0 51.1h0.9M37.8 42.7h0.9M41.1 39.0h0.9M53.6 36.5h0.9M43.5 32.5h0.9M43.1 47.8h0.9M51.3 44.9h0.9M62.6 28.5h0.9M44.0 42.5h0.9M54.9 43.1h0.9M53.4 42.9h0.9M53.2 39.3h0.9M51.6 37.8h0.9M43.9 46.7h0.9M57.9 39.3h0.9M50.6 39.1h0.9M44.3 52.2h0.9M47.0 44.3h0.9M49.5 51.2h0.9M50.1 33.9h0.9M58.9 33.7h0.9M44.8 50.0h0.9M85.0 13.2h0.9M85.3 13.9h0.9M83.2 16.7h0.9M83.7 14.6h0.9M81.6 20.1h0.9M84.7 15.8h0.9M82.2 16.9h0.9M83.8 14.8h0.9M81.8 20.1h0.9M83.6 17.2h0.9M81.7 18.6h0.9M84.1 16.5h0.9M83.4 17.0h0.9M82.5 15.5h0.9M80.4 20.6h0.9M82.6 18.8h0.9M79.7 21.6h0.9M82.5 18.1h0.9M81.8 18.9h0.9M81.8 18.6h0.9M85.4 12.8h0.9M84.1 16.4h0.9M80.7 18.6h0.9M84.4 14.4h0.9M83.3 14.9h0.9M82.0 18.4h0.9M81.8 18.6h0.9M85.4 12.7h0.9M84.7 13.9h0.9M82.2 16.6h0.9M85.3 11.3h0.9" stroke="#5F68C6"/><path d="M49.5 43.7h0.9M51.1 34.9h0.9M43.6 46.7h0.9M55.2 35.7h0.9M50.1 42.3h0.9M50.1 42.7h0.9M47.7 38.2h0.9M49.9 40.3h0.9M56.9 34.1h0.9M43.5 44.9h0.9M53.6 36.3h0.9M48.1 33.0h0.9M45.6 46.8h0.9M53.8 38.9h0.9M38.2 43.6h0.9M45.3 47.9h0.9M51.4 44.9h0.9M44.5 35.6h0.9M52.7 39.1h0.9M35.7 43.0h0.9M47.5 35.5h0.9M49.5 32.9h0.9M42.2 37.3h0.9M38.0 46.0h0.9M42.3 40.4h0.9M50.8 45.4h0.9M51.3 35.8h0.9M50.6 37.4h0.9M56.3 41.6h0.9M46.4 36.6h0.9M55.0 36.7h0.9M42.3 38.8h0.9M45.5 42.0h0.9M49.2 44.7h0.9M46.1 42.5h0.9M44.8 48.4h0.9M50.9 37.3h0.9M51.2 39.3h0.9M48.5 31.2h0.9M54.3 41.2h0.9M45.0 39.2h0.9M53.2 34.5h0.9M55.4 39.7h0.9M43.4 46.8h0.9M48.2 39.8h0.9M42.0 52.8h0.9M35.3 43.8h0.9M52.5 39.6h0.9M45.2 43.6h0.9M43.3 38.9h0.9M50.4 43.8h0.9M55.0 37.8h0.9M50.5 44.0h0.9M40.0 41.1h0.9M52.9 34.0h0.9M50.1 39.3h0.9M55.1 38.8h0.9M43.6 47.0h0.9M50.2 35.6h0.9M49.3 33.7h0.9M49.0 35.7h0.9M46.8 40.8h0.9M48.6 40.4h0.9M48.0 46.3h0.9M52.3 34.8h0.9M41.7 38.1h0.9M49.7 35.7h0.9M53.2 38.8h0.9M46.2 38.8h0.9M56.1 41.6h0.9M40.8 40.5h0.9M36.5 49.5h0.9M45.0 43.8h0.9M47.2 32.6h0.9M47.4 44.1h0.9M49.9 45.7h0.9M44.7 41.6h0.9M42.8 41.0h0.9M41.3 42.1h0.9M43.8 40.7h0.9M38.7 45.5h0.9M55.3 41.0h0.9M48.2 39.5h0.9M46.9 45.6h0.9M51.0 43.6h0.9M44.9 51.5h0.9M50.1 30.7h0.9M52.9 30.4h0.9M38.1 39.7h0.9M53.1 39.6h0.9M44.5 38.6h0.9M44.6 45.4h0.9M35.5 43.2h0.9M54.9 42.0h0.9M47.5 37.3h0.9M40.7 46.8h0.9M48.6 41.5h0.9M44.3 45.2h0.9M54.5 42.2h0.9M46.0 33.5h0.9M42.9 39.0h0.9M44.1 42.4h0.9M46.8 36.8h0.9M47.7 38.7h0.9M48.4 44.1h0.9M46.5 41.0h0.9M54.3 35.3h0.9M41.5 40.1h0.9M50.1 41.4h0.9M41.6 47.2h0.9M53.1 41.5h0.9M53.2 40.2h0.9M51.1 37.8h0.9M45.5 33.8h0.9M45.1 44.7h0.9M52.3 44.9h0.9M51.7 37.0h0.9M51.7 44.0h0.9M42.6 40.2h0.9M52.4 41.3h0.9M51.2 36.8h0.9M44.9 41.3h0.9M56.2 32.5h0.9M53.7 38.2h0.9M52.9 32.9h0.9M38.4 50.9h0.9M55.5 35.2h0.9M44.9 49.8h0.9M47.3 36.6h0.9M46.8 37.1h0.9M48.3 42.8h0.9M39.5 43.5h0.9M40.9 47.6h0.9M45.2 38.2h0.9M50.0 37.2h0.9M43.3 44.3h0.9M39.9 45.8h0.9M42.6 50.2h0.9M41.1 45.1h0.9M51.3 37.1h0.9M48.2 36.0h0.9M47.9 35.2h0.9M42.2 45.7h0.9M53.5 35.6h0.9M47.1 47.4h0.9M42.2 46.5h0.9M53.1 32.1h0.9M54.7 33.6h0.9M41.0 50.5h0.9M40.9 41.7h0.9M47.2 41.8h0.9M46.7 43.6h0.9M50.9 51.1h0.9M57.4 37.5h0.9M42.9 42.3h0.9M51.8 44.1h0.9M47.8 43.9h0.9M52.9 39.1h0.9M43.9 49.0h0.9M41.5 51.1h0.9M49.7 37.5h0.9M51.8 44.6h0.9M49.3 43.3h0.9M45.9 51.1h0.9M49.4 33.4h0.9M41.6 39.4h0.9M47.5 43.7h0.9M43.0 40.4h0.9M47.5 37.6h0.9M43.5 40.8h0.9M44.8 47.4h0.9M49.7 29.9h0.9M54.3 31.2h0.9M40.3 47.2h0.9M49.3 39.3h0.9M53.0 35.2h0.9M51.3 45.2h0.9M53.1 36.6h0.9M48.4 39.4h0.9M41.3 49.7h0.9M48.6 36.6h0.9M47.7 45.4h0.9M45.8 41.7h0.9M42.6 38.0h0.9M45.4 49.7h0.9M53.0 39.8h0.9M52.6 33.7h0.9M51.2 44.3h0.9M50.5 33.2h0.9M40.8 46.7h0.9M43.6 35.9h0.9M44.3 42.3h0.9M47.2 43.6h0.9M56.4 39.0h0.9M39.4 39.8h0.9M59.4 41.2h0.9M42.5 46.2h0.9M48.5 42.2h0.9M43.3 45.7h0.9M43.7 41.4h0.9M56.7 30.9h0.9M44.2 39.6h0.9M47.6 47.8h0.9M54.0 35.2h0.9M40.0 46.6h0.9M38.5 52.5h0.9M50.5 37.5h0.9M52.0 38.1h0.9M51.7 45.0h0.9M51.2 36.9h0.9M51.4 45.3h0.9M42.8 41.5h0.9M54.0 32.1h0.9M46.0 47.4h0.9M50.9 42.9h0.9M41.8 42.3h0.9M51.5 41.3h0.9M46.0 37.1h0.9M39.6 46.4h0.9M46.7 40.8h0.9M48.1 34.9h0.9M53.8 37.3h0.9M45.1 45.0h0.9M51.7 39.4h0.9M45.1 45.3h0.9M49.7 32.7h0.9M47.7 35.7h0.9M53.7 37.4h0.9M42.1 47.0h0.9M46.7 36.5h0.9M43.4 39.8h0.9M34.1 48.5h0.9M48.2 38.9h0.9M50.5 42.9h0.9M44.5 38.5h0.9M42.0 38.6h0.9M40.8 46.9h0.9M48.7 37.7h0.9M52.5 35.3h0.9M54.1 39.8h0.9M38.9 52.1h0.9M50.4 37.5h0.9M41.8 44.8h0.9M42.2 45.6h0.9M45.6 39.7h0.9M59.0 37.4h0.9M42.0 40.9h0.9M55.6 34.1h0.9M41.8 42.3h0.9M52.8 35.4h0.9M51.6 36.7h0.9M48.8 37.6h0.9M47.3 39.6h0.9M44.1 43.5h0.9M43.2 35.1h0.9M51.9 35.2h0.9M50.4 35.4h0.9M48.9 46.4h0.9M40.9 42.3h0.9M51.4 39.3h0.9M52.6 33.6h0.9M52.1 44.2h0.9M49.8 34.9h0.9M49.3 43.2h0.9M47.0 37.2h0.9M43.2 46.3h0.9M53.1 32.5h0.9M47.1 41.8h0.9M43.4 40.9h0.9M37.3 47.2h0.9M43.0 50.0h0.9M49.3 40.3h0.9M53.1 37.2h0.9M36.4 44.6h0.9M53.9 32.6h0.9M41.0 44.3h0.9M42.9 40.6h0.9M49.3 46.6h0.9M53.6 29.7h0.9M47.9 30.5h0.9M54.5 31.5h0.9M45.1 39.9h0.9M41.7 40.3h0.9M54.2 33.2h0.9M44.7 39.9h0.9M46.7 39.6h0.9M41.2 40.6h0.9M49.6 44.4h0.9M41.1 45.2h0.9M49.9 45.4h0.9M42.8 43.0h0.9M44.5 43.6h0.9M50.1 38.7h0.9M43.5 46.5h0.9M54.0 31.4h0.9M53.4 39.1h0.9M49.2 35.6h0.9M40.3 45.9h0.9M42.1 49.3h0.9M38.3 41.0h0.9M37.1 40.6h0.9M40.0 46.2h0.9M38.8 41.0h0.9M39.7 45.4h0.9M54.0 40.7h0.9M39.5 45.6h0.9M49.8 36.3h0.9M39.0 41.3h0.9M45.2 41.8h0.9M39.6 52.7h0.9M42.3 43.5h0.9M40.3 35.9h0.9M48.0 39.2h0.9M40.4 44.6h0.9M42.8 41.8h0.9M43.8 47.8h0.9M54.7 42.8h0.9M42.5 43.3h0.9M41.8 45.4h0.9M53.6 39.3h0.9M36.2 46.3h0.9M49.2 44.9h0.9M45.1 43.0h0.9M47.6 36.8h0.9M43.0 42.5h0.9M54.4 35.4h0.9M34.6 47.7h0.9M51.4 44.4h0.9M51.8 40.7h0.9M47.6 35.4h0.9M58.3 37.2h0.9M59.2 34.7h0.9M56.8 35.7h0.9M54.5 40.1h0.9M46.8 34.1h0.9M50.6 40.9h0.9M46.7 38.6h0.9M32.9 45.5h0.9M53.7 38.4h0.9M48.6 41.8h0.9M50.5 42.3h0.9M46.2 36.1h0.9M58.7 34.8h0.9M48.1 38.1h0.9M41.7 47.9h0.9M50.2 40.0h0.9M48.7 34.8h0.9M53.8 39.0h0.9M39.1 47.8h0.9M38.3 44.5h0.9M47.0 36.4h0.9M42.4 45.6h0.9M42.0 46.0h0.9M53.5 37.0h0.9M54.8 38.3h0.9M48.0 43.9h0.9M57.9 32.7h0.9M52.1 36.4h0.9M48.2 46.2h0.9M52.7 34.7h0.9M46.0 45.7h0.9M42.0 45.3h0.9M51.9 38.7h0.9M51.0 35.9h0.9M43.3 37.2h0.9M43.8 34.3h0.9M43.9 39.3h0.9M40.4 44.2h0.9M45.2 43.3h0.9M52.3 45.2h0.9M43.7 46.0h0.9M44.3 39.1h0.9M48.5 35.1h0.9M53.0 37.2h0.9M56.2 32.0h0.9M47.3 47.0h0.9M60.9 29.6h0.9M56.8 34.6h0.9M50.4 34.7h0.9M44.5 42.7h0.9M51.2 43.8h0.9M51.0 37.7h0.9M48.6 36.5h0.9M43.0 46.2h0.9M52.3 39.1h0.9M56.1 37.5h0.9M49.3 35.3h0.9M49.9 36.9h0.9M45.7 41.9h0.9M58.4 31.8h0.9M53.2 40.6h0.9M46.6 43.9h0.9M55.5 33.2h0.9M51.3 36.5h0.9M50.0 34.2h0.9M48.9 38.7h0.9M49.5 37.8h0.9M41.3 44.1h0.9M42.6 50.6h0.9M44.8 38.5h0.9M53.7 33.4h0.9M46.5 43.2h0.9M37.8 48.9h0.9M43.1 38.3h0.9M53.7 42.0h0.9M52.9 36.0h0.9M46.4 43.7h0.9M41.0 50.4h0.9M49.2 38.9h0.9M47.7 32.4h0.9M49.7 42.8h0.9M55.2 43.4h0.9M47.2 48.0h0.9M51.5 38.4h0.9M55.4 39.6h0.9M51.3 41.5h0.9M43.6 44.0h0.9M46.6 37.5h0.9M48.8 40.9h0.9M49.1 38.7h0.9M43.4 43.9h0.9M48.2 47.1h0.9M49.9 37.2h0.9M48.9 38.2h0.9M48.6 35.8h0.9M49.1 41.3h0.9M50.2 35.7h0.9M52.8 37.9h0.9M40.5 49.8h0.9M52.0 32.3h0.9" stroke="#35A3D2"/><path d="M57.5 39.5h0.9M50.3 38.6h0.9M47.9 37.0h0.9M46.3 45.1h0.9M37.7 44.0h0.9M41.1 43.9h0.9M50.1 39.1h0.9M50.0 34.6h0.9M37.1 47.6h0.9M53.0 33.9h0.9M46.2 41.2h0.9M49.7 48.0h0.9M48.3 33.2h0.9M41.2 50.6h0.9M42.1 48.7h0.9M56.2 33.8h0.9M39.7 50.2h0.9M41.1 40.5h0.9M50.6 45.3h0.9M48.5 40.7h0.9M45.3 42.6h0.9M49.1 46.4h0.9M49.1 34.7h0.9M46.8 36.9h0.9M47.4 41.5h0.9M44.6 42.1h0.9M52.4 38.1h0.9M42.0 41.1h0.9M45.2 37.9h0.9M44.3 45.5h0.9M48.6 45.4h0.9M46.3 39.1h0.9M46.5 36.7h0.9M43.5 41.5h0.9M45.1 44.7h0.9M40.9 47.2h0.9M50.4 41.2h0.9M53.5 33.8h0.9M48.4 42.2h0.9M45.3 36.9h0.9M49.0 38.2h0.9M50.3 35.2h0.9M47.2 38.6h0.9M54.0 40.9h0.9M54.8 34.5h0.9M45.6 45.0h0.9M48.1 43.7h0.9M45.8 39.9h0.9M42.9 44.4h0.9M45.2 40.2h0.9M49.7 36.9h0.9M47.1 46.7h0.9M50.1 49.3h0.9M52.1 35.5h0.9M51.3 38.5h0.9M47.1 38.9h0.9M53.5 39.7h0.9M45.2 44.5h0.9M47.8 40.5h0.9M51.7 40.8h0.9M52.5 36.8h0.9M46.5 43.0h0.9M55.5 38.0h0.9M53.0 39.3h0.9M44.9 46.5h0.9M40.3 43.6h0.9M50.0 37.6h0.9M43.4 38.9h0.9M42.8 44.7h0.9M50.5 38.0h0.9M45.5 40.0h0.9M52.6 43.9h0.9M41.3 46.1h0.9M57.1 39.7h0.9M46.4 43.2h0.9M44.1 43.3h0.9M46.8 41.0h0.9M55.0 39.4h0.9M50.4 40.2h0.9M53.3 39.5h0.9M50.7 44.9h0.9M45.6 40.0h0.9M51.4 39.0h0.9M47.2 38.3h0.9M49.8 38.5h0.9M51.2 37.7h0.9M48.6 43.1h0.9M45.5 48.1h0.9M51.2 35.3h0.9M42.8 41.7h0.9M42.1 41.4h0.9M47.6 46.4h0.9M51.1 36.8h0.9M45.5 42.9h0.9M45.8 43.5h0.9M45.7 35.5h0.9M50.5 34.4h0.9M47.4 41.4h0.9M46.0 42.5h0.9M44.8 37.3h0.9M49.2 41.7h0.9M48.7 39.3h0.9M40.6 40.7h0.9M53.0 37.7h0.9M48.7 36.4h0.9M42.9 40.3h0.9M43.5 41.8h0.9M48.4 38.7h0.9M50.1 45.1h0.9M50.5 40.7h0.9M46.7 46.5h0.9M52.2 37.7h0.9M44.5 44.9h0.9M48.0 43.1h0.9M47.1 49.8h0.9M41.9 40.5h0.9M46.1 37.9h0.9M41.0 44.2h0.9M52.6 39.2h0.9M48.9 40.2h0.9M45.1 45.0h0.9M48.5 32.7h0.9M50.0 42.1h0.9M47.4 46.7h0.9M55.6 36.5h0.9M47.6 37.1h0.9M44.5 43.7h0.9M53.3 38.0h0.9M55.3 31.8h0.9M49.2 37.9h0.9M50.6 40.0h0.9M46.0 40.4h0.9M47.0 35.6h0.9M43.2 40.9h0.9M47.5 42.1h0.9M51.3 41.9h0.9M44.9 43.1h0.9M48.0 46.4h0.9M46.8 35.6h0.9M44.4 42.4h0.9M54.1 42.3h0.9M47.0 40.5h0.9M44.6 40.3h0.9M44.2 48.4h0.9M40.0 47.4h0.9M47.9 43.2h0.9M39.6 41.6h0.9M36.4 45.3h0.9M42.5 37.1h0.9M53.6 40.3h0.9M46.8 38.3h0.9M49.3 39.1h0.9M48.3 41.8h0.9M44.5 47.4h0.9M53.8 39.6h0.9M47.2 35.4h0.9M46.5 40.7h0.9M49.2 38.0h0.9M40.4 42.9h0.9M43.3 41.5h0.9M52.1 38.0h0.9M43.0 42.9h0.9M41.7 41.9h0.9M41.5 41.0h0.9M47.3 44.8h0.9M40.6 44.8h0.9M49.0 36.1h0.9M44.8 41.9h0.9M42.8 40.5h0.9M50.4 45.7h0.9M38.8 44.1h0.9M40.8 44.6h0.9M44.7 45.9h0.9M52.7 37.2h0.9M51.1 34.8h0.9M48.2 33.9h0.9M48.3 38.1h0.9M49.5 43.8h0.9M44.7 40.1h0.9M50.0 36.0h0.9M42.8 46.3h0.9M51.1 39.4h0.9M42.4 47.3h0.9M46.4 38.9h0.9M45.9 38.6h0.9M50.6 39.3h0.9M45.3 43.9h0.9M53.8 40.8h0.9M42.7 46.8h0.9M47.9 39.0h0.9M49.2 35.3h0.9M52.4 35.5h0.9M51.1 40.0h0.9M49.3 44.2h0.9M53.6 38.7h0.9M39.1 41.9h0.9M50.1 38.5h0.9M52.5 36.9h0.9M47.0 40.6h0.9M53.6 36.6h0.9M40.6 42.6h0.9M45.3 41.8h0.9M50.5 38.2h0.9M47.2 43.6h0.9M53.0 40.3h0.9M43.4 44.3h0.9M49.3 39.6h0.9M53.9 34.7h0.9M50.7 42.2h0.9M52.2 42.8h0.9M38.8 45.5h0.9M57.7 37.7h0.9M47.4 42.4h0.9M41.9 40.0h0.9M52.5 40.5h0.9M48.5 43.8h0.9M49.5 36.7h0.9M51.7 39.2h0.9M50.3 38.2h0.9M46.3 38.0h0.9M44.1 40.0h0.9M47.0 42.5h0.9M49.4 40.2h0.9M53.3 34.7h0.9M46.5 48.7h0.9M48.9 44.1h0.9M53.0 39.1h0.9M46.4 42.5h0.9M55.8 38.7h0.9M46.7 39.9h0.9M52.1 39.3h0.9M43.7 44.6h0.9M43.7 45.7h0.9M53.2 35.6h0.9M50.4 36.3h0.9M51.0 37.8h0.9M43.2 41.6h0.9M41.9 42.4h0.9M38.6 46.3h0.9M48.0 45.2h0.9M51.0 40.0h0.9M44.6 51.8h0.9M48.7 35.3h0.9M49.3 44.2h0.9" stroke="#45BE62"/><path d="M44.6 43.6h0.9M47.4 46.1h0.9M48.1 40.6h0.9M48.0 41.9h0.9M46.5 45.2h0.9M50.2 39.0h0.9M44.7 35.2h0.9M49.5 40.0h0.9M40.7 47.3h0.9M49.0 39.8h0.9M42.3 41.2h0.9M49.4 39.9h0.9M44.1 43.7h0.9M44.7 40.3h0.9M44.2 38.2h0.9M43.0 44.0h0.9M54.0 34.7h0.9M55.1 36.6h0.9M43.2 40.3h0.9M48.8 42.0h0.9M42.9 43.5h0.9M47.0 42.6h0.9M46.9 45.8h0.9M47.7 41.7h0.9M44.7 47.2h0.9M44.8 43.6h0.9M50.5 41.8h0.9M56.1 38.4h0.9M47.8 40.7h0.9M48.8 35.3h0.9M46.6 40.0h0.9M51.6 39.1h0.9M45.8 44.1h0.9M49.7 41.8h0.9M47.0 46.2h0.9M45.6 43.4h0.9M45.6 45.8h0.9M44.6 42.6h0.9M49.6 39.3h0.9M46.5 46.0h0.9M48.0 38.8h0.9M51.4 39.2h0.9M46.6 36.7h0.9M48.4 38.8h0.9M49.3 43.6h0.9M47.9 42.7h0.9M45.5 42.7h0.9M45.8 41.0h0.9M50.0 39.9h0.9M46.9 42.1h0.9M44.1 43.8h0.9M47.3 44.3h0.9M46.3 46.1h0.9M46.5 40.9h0.9M51.2 36.1h0.9M49.4 40.6h0.9M44.1 37.9h0.9M51.8 36.5h0.9M46.8 41.6h0.9M46.6 37.0h0.9M50.5 38.6h0.9M50.5 38.6h0.9M44.4 41.9h0.9M50.7 40.9h0.9M44.5 39.6h0.9M50.4 34.3h0.9M48.3 42.1h0.9M43.5 36.5h0.9M43.4 40.2h0.9M49.9 39.2h0.9M41.5 42.9h0.9M47.6 35.5h0.9M49.0 43.0h0.9M46.1 44.6h0.9M47.0 39.5h0.9M50.7 41.5h0.9M45.5 37.9h0.9M49.0 39.3h0.9M45.4 39.9h0.9M47.3 41.4h0.9M47.1 44.8h0.9M48.6 39.7h0.9M49.7 38.6h0.9M48.3 38.5h0.9M50.2 41.4h0.9M37.8 47.5h0.9M50.3 36.9h0.9M44.6 41.1h0.9M50.5 44.7h0.9M46.6 42.0h0.9M49.2 40.8h0.9M47.5 42.1h0.9M48.0 44.1h0.9M49.2 40.0h0.9M47.1 46.8h0.9M49.8 39.3h0.9M48.9 39.8h0.9M43.1 42.0h0.9M48.1 41.4h0.9M44.7 42.6h0.9M46.7 44.4h0.9M50.2 36.1h0.9M51.0 39.6h0.9M50.0 36.9h0.9M48.3 41.9h0.9M48.1 37.2h0.9M51.2 36.6h0.9M47.6 42.1h0.9M46.6 39.0h0.9M44.0 42.7h0.9M45.4 38.7h0.9M42.8 47.0h0.9M45.7 41.2h0.9M42.6 36.1h0.9M43.0 45.6h0.9M43.1 40.0h0.9M49.4 39.3h0.9M48.4 41.6h0.9M48.1 40.5h0.9M47.1 39.6h0.9M46.3 41.2h0.9M52.3 37.8h0.9M43.0 40.4h0.9M50.4 36.1h0.9M47.0 42.8h0.9M47.4 41.8h0.9M50.6 39.0h0.9M45.4 40.5h0.9M48.0 37.3h0.9M40.8 41.0h0.9M56.7 37.8h0.9M48.3 41.5h0.9M54.7 38.2h0.9M49.7 38.9h0.9M53.4 37.1h0.9M52.5 38.6h0.9M41.8 43.0h0.9M48.6 42.6h0.9M45.6 43.4h0.9M45.9 47.4h0.9M50.7 42.4h0.9M50.5 37.5h0.9M41.7 41.1h0.9M50.6 35.5h0.9M45.9 41.3h0.9M47.9 41.1h0.9M50.3 40.8h0.9M47.4 40.0h0.9M41.5 43.0h0.9M46.9 42.4h0.9M46.7 38.2h0.9M47.9 35.9h0.9M44.0 46.6h0.9M49.6 43.6h0.9M48.2 39.9h0.9M48.9 38.5h0.9M44.7 43.0h0.9M48.4 38.0h0.9M48.2 47.5h0.9M51.8 37.1h0.9M54.0 36.3h0.9M47.0 40.4h0.9M52.9 38.6h0.9M43.3 42.2h0.9M45.8 41.3h0.9M44.0 36.4h0.9M53.7 38.1h0.9M46.2 48.6h0.9M49.2 45.4h0.9M44.6 42.4h0.9M47.0 39.5h0.9M42.5 43.4h0.9M48.5 39.5h0.9M55.3 38.7h0.9M47.0 43.0h0.9M50.6 41.5h0.9M47.2 39.8h0.9" stroke="#E0482E"/><path d="M50.2 31.5h0.9M56.2 47.8h0.9M57.0 31.3h0.9M41.0 46.9h0.9M36.5 44.9h0.9M40.5 65.7h0.9M53.7 31.4h0.9M40.0 32.5h0.9M56.0 41.4h0.9M39.0 53.9h0.9M49.1 34.7h0.9M45.6 38.4h0.9M46.1 37.7h0.9M56.7 41.7h0.9M51.8 29.8h0.9M39.6 48.8h0.9M60.9 36.1h0.9M58.7 40.5h0.9M53.0 34.4h0.9M59.8 43.5h0.9M43.7 32.5h0.9M54.1 40.7h0.9M58.1 38.4h0.9M58.2 33.8h0.9M44.7 33.4h0.9M39.0 57.2h0.9M58.9 37.6h0.9M50.9 35.2h0.9M54.2 31.4h0.9M56.2 27.9h0.9M58.4 19.1h0.9M52.5 29.0h0.9M43.9 34.3h0.9M50.5 46.2h0.9M49.7 48.9h0.9M46.0 55.0h0.9M54.2 31.1h0.9M55.5 42.8h0.9M53.1 32.9h0.9M60.5 33.2h0.9M50.9 48.4h0.9M62.4 29.0h0.9M58.4 33.4h0.9M62.7 23.2h0.9M53.2 47.8h0.9M42.2 59.9h0.9M51.3 31.3h0.9M54.0 39.3h0.9M34.0 36.8h0.9M47.9 36.5h0.9M46.9 56.3h0.9M57.7 26.2h0.9M38.0 49.0h0.9M58.9 41.0h0.9M40.5 50.1h0.9M43.3 29.2h0.9M45.0 59.1h0.9M37.2 61.3h0.9M41.6 39.6h0.9M61.4 33.5h0.9M38.4 33.7h0.9M41.3 55.1h0.9M32.8 51.8h0.9M41.5 47.6h0.9M48.3 42.8h0.9M63.3 32.5h0.9M55.2 36.2h0.9M49.6 42.4h0.9M54.3 31.0h0.9M49.3 38.1h0.9M45.5 60.7h0.9M51.2 50.3h0.9M47.1 21.8h0.9M48.8 49.7h0.9M40.8 40.5h0.9M48.7 30.7h0.9M58.0 36.6h0.9M68.6 29.2h0.9M28.6 48.7h0.9M54.6 36.6h0.9M42.0 29.9h0.9M47.9 33.2h0.9M56.1 34.1h0.9M54.6 35.1h0.9M32.4 47.9h0.9M55.9 43.9h0.9M44.4 28.0h0.9M48.6 34.0h0.9M43.4 48.5h0.9M43.9 34.7h0.9M63.3 32.8h0.9M65.8 38.9h0.9M47.2 37.8h0.9M36.5 46.0h0.9M51.5 46.8h0.9M33.6 51.6h0.9M39.6 41.7h0.9M37.7 37.3h0.9M47.3 33.7h0.9M63.2 30.6h0.9M42.2 43.8h0.9M39.4 40.9h0.9M68.6 33.1h0.9M56.6 45.8h0.9M47.7 31.6h0.9M40.9 35.8h0.9M52.6 44.9h0.9M43.3 48.2h0.9M40.0 39.1h0.9M45.3 35.8h0.9M42.0 36.1h0.9M31.7 59.1h0.9M58.6 35.3h0.9M39.6 60.3h0.9M59.8 38.4h0.9M43.5 56.4h0.9M57.6 33.9h0.9M58.5 22.9h0.9M59.7 36.8h0.9M51.6 42.8h0.9M42.4 37.5h0.9M60.7 41.0h0.9M51.3 53.2h0.9M62.4 30.2h0.9M60.6 34.6h0.9M65.5 34.4h0.9M44.5 32.7h0.9M31.0 47.6h0.9M37.5 49.0h0.9M43.2 40.5h0.9M56.2 25.5h0.9M60.8 34.3h0.9M41.1 32.2h0.9M39.3 54.4h0.9M40.0 49.2h0.9M40.1 52.2h0.9M41.2 50.8h0.9M26.7 56.8h0.9M53.5 37.7h0.9M50.3 43.1h0.9M42.4 35.3h0.9M35.3 53.5h0.9M36.1 48.2h0.9M44.7 37.1h0.9M59.7 38.6h0.9M38.1 42.5h0.9M58.2 28.6h0.9M44.6 41.0h0.9M49.0 34.8h0.9M51.4 38.7h0.9M54.1 30.1h0.9M35.4 39.7h0.9M47.7 52.9h0.9M53.9 49.0h0.9M53.4 24.9h0.9M56.6 42.6h0.9M47.3 26.9h0.9M43.7 54.9h0.9M53.0 47.0h0.9M44.4 52.1h0.9M52.6 41.9h0.9M54.2 33.7h0.9M43.7 31.1h0.9M52.4 29.1h0.9M63.7 30.3h0.9M41.1 37.6h0.9M61.7 36.3h0.9M65.7 28.7h0.9M46.9 42.0h0.9M59.0 38.4h0.9M62.3 33.7h0.9M61.2 33.8h0.9M36.6 35.7h0.9M49.2 31.9h0.9M42.0 42.3h0.9M53.0 21.0h0.9M41.3 50.5h0.9M46.3 33.4h0.9M42.9 50.7h0.9M61.7 31.4h0.9M32.1 53.8h0.9M36.8 58.0h0.9M60.6 41.6h0.9M61.3 38.3h0.9M44.7 41.6h0.9M40.4 49.2h0.9M61.1 32.9h0.9M51.9 47.0h0.9M37.8 45.9h0.9M47.7 27.4h0.9M58.9 25.4h0.9M53.8 25.7h0.9M59.0 28.0h0.9M34.1 49.1h0.9M38.5 45.7h0.9M48.2 46.5h0.9M28.8 50.6h0.9M63.9 39.1h0.9M31.8 60.7h0.9M47.8 48.7h0.9M35.4 55.3h0.9M38.4 42.3h0.9M59.0 39.9h0.9M57.8 40.6h0.9M60.0 30.4h0.9M48.4 29.1h0.9M64.8 23.5h0.9M57.3 23.3h0.9M41.0 49.9h0.9M40.6 52.0h0.9M64.9 37.5h0.9M57.4 36.5h0.9M42.0 36.7h0.9M46.5 32.3h0.9M32.6 56.2h0.9M36.7 33.7h0.9M44.2 54.8h0.9M41.8 53.8h0.9M40.3 56.6h0.9M47.8 46.6h0.9M46.3 50.0h0.9M42.7 54.7h0.9M43.6 49.6h0.9M67.4 29.3h0.9M52.5 32.7h0.9M33.4 39.3h0.9M45.5 51.3h0.9M53.9 32.8h0.9M44.7 28.0h0.9M44.9 52.5h0.9M51.8 45.4h0.9M40.2 43.8h0.9M48.3 54.0h0.9M52.7 42.0h0.9M56.2 41.9h0.9M49.7 34.8h0.9M38.0 37.9h0.9M61.4 30.8h0.9M45.1 37.9h0.9M61.7 26.2h0.9M66.4 27.5h0.9M61.3 32.4h0.9M65.2 29.8h0.9M64.6 25.6h0.9M67.9 27.5h0.9M71.5 30.6h0.9M77.0 15.3h0.9M68.2 29.5h0.9M72.6 31.1h0.9M61.4 32.5h0.9M75.8 25.5h0.9M59.3 35.4h0.9M75.0 19.5h0.9M56.9 36.1h0.9M69.5 29.0h0.9M64.8 23.0h0.9M62.3 34.3h0.9M67.0 21.1h0.9M69.2 23.8h0.9M70.9 25.5h0.9M73.7 25.7h0.9M72.7 23.1h0.9M58.6 35.8h0.9M66.0 28.3h0.9M71.0 23.6h0.9M63.7 32.4h0.9M64.5 26.1h0.9M68.2 22.1h0.9M73.7 24.0h0.9M87.4 7.1h0.9M84.5 15.0h0.9M81.3 22.4h0.9M82.6 16.6h0.9M88.5 12.2h0.9M81.9 17.9h0.9M90.0 4.3h0.9M88.1 9.8h0.9M82.2 17.8h0.9M79.0 18.9h0.9M81.3 23.3h0.9M86.3 13.8h0.9M72.7 27.3h0.9M74.3 24.3h0.9M78.3 25.8h0.9M78.6 22.0h0.9M85.4 14.5h0.9M80.5 23.2h0.9M78.3 20.8h0.9M76.7 23.9h0.9M73.1 26.4h0.9M83.0 12.4h0.9M75.3 24.4h0.9M89.3 5.4h0.9M79.2 24.1h0.9M85.1 17.0h0.9M75.4 22.1h0.9M84.9 13.9h0.9M80.7 22.9h0.9M88.8 10.6h0.9M84.9 20.1h0.9M84.3 11.7h0.9M82.8 13.9h0.9M82.9 18.1h0.9M87.8 6.5h0.9M74.8 22.2h0.9M78.6 24.3h0.9M86.6 9.5h0.9M76.3 25.1h0.9M80.6 27.3h0.9M81.4 13.0h0.9M83.5 14.1h0.9M88.5 9.5h0.9M86.0 14.7h0.9M90.3 9.9h0.9M79.0 17.8h0.9M80.9 14.3h0.9M77.8 21.9h0.9M87.2 11.3h0.9M88.6 12.1h0.9M88.3 8.2h0.9M77.7 21.9h0.9M81.3 16.5h0.9M84.3 11.8h0.9M87.3 10.3h0.9M87.2 14.7h0.9M78.5 28.0h0.9M89.5 10.4h0.9M78.0 17.0h0.9M89.7 13.8h0.9M78.9 14.4h0.9M90.1 9.0h0.9M79.5 17.7h0.9M84.9 13.9h0.9M84.1 15.1h0.9M81.9 12.3h0.9" stroke="#8E8A93"/></g>
<path d="M97.7 1043.5V1171.6" stroke="#222" stroke-width="1.1" stroke-dasharray="0.9 2.3" fill="none"/>
<line x1="97.7" y1="1171.6" x2="224.7" y2="1171.6" stroke="#222" stroke-width="0.8" />
<line x1="97.7" y1="1043.5" x2="224.7" y2="1043.5" stroke="#222" stroke-width="0.9" />
<line x1="224.7" y1="1043.5" x2="224.7" y2="1171.6" stroke="#222" stroke-width="0.9" />
<rect x="171.4" y="1044.1" width="53.3" height="68.2" fill="none" stroke="#222" stroke-width="0.9" />
<text x="95.5" y="1045.7" font-size="5.2" font-weight="normal" text-anchor="end" fill="#3a3a3a">10<tspan font-size="3.2" dy="-2">3</tspan></text>
<line x1="95.7" y1="1043.5" x2="97.7" y2="1043.5" stroke="#333" stroke-width="0.6" />
<text x="95.5" y="1077.9" font-size="5.2" font-weight="normal" text-anchor="end" fill="#3a3a3a">10<tspan font-size="3.2" dy="-2">2</tspan></text>
<line x1="95.7" y1="1075.7" x2="97.7" y2="1075.7" stroke="#333" stroke-width="0.6" />
<text x="95.5" y="1110.1" font-size="5.2" font-weight="normal" text-anchor="end" fill="#3a3a3a">10<tspan font-size="3.2" dy="-2">1</tspan></text>
<line x1="95.7" y1="1107.9" x2="97.7" y2="1107.9" stroke="#333" stroke-width="0.6" />
<text x="95.5" y="1142.3" font-size="5.2" font-weight="normal" text-anchor="end" fill="#3a3a3a">10<tspan font-size="3.2" dy="-2">0</tspan></text>
<line x1="95.7" y1="1140.1" x2="97.7" y2="1140.1" stroke="#333" stroke-width="0.6" />
<text x="129.2" y="1180.1" font-size="5.2" font-weight="normal" text-anchor="middle" fill="#3a3a3a">10<tspan font-size="3.2" dy="-2">0</tspan></text>
<text x="161" y="1180.1" font-size="5.2" font-weight="normal" text-anchor="middle" fill="#3a3a3a">10<tspan font-size="3.2" dy="-2">1</tspan></text>
<text x="192.8" y="1180.1" font-size="5.2" font-weight="normal" text-anchor="middle" fill="#3a3a3a">10<tspan font-size="3.2" dy="-2">2</tspan></text>
<text x="224.6" y="1180.1" font-size="5.2" font-weight="normal" text-anchor="middle" fill="#3a3a3a">10<tspan font-size="3.2" dy="-2">3</tspan></text>
<path d="M107.3 1171.6v1.3M112.9 1171.6v1.3M116.8 1171.6v1.3M119.9 1171.6v1.3M122.4 1171.6v1.3M124.6 1171.6v1.3M126.4 1171.6v1.3M128.0 1171.6v1.3M129.5 1171.6v2.6M139.1 1171.6v1.3M144.7 1171.6v1.3M148.6 1171.6v1.3M151.7 1171.6v1.3M154.2 1171.6v1.3M156.4 1171.6v1.3M158.2 1171.6v1.3M159.8 1171.6v1.3M161.3 1171.6v2.6M170.9 1171.6v1.3M176.5 1171.6v1.3M180.4 1171.6v1.3M183.5 1171.6v1.3M186.0 1171.6v1.3M188.2 1171.6v1.3M190.0 1171.6v1.3M191.6 1171.6v1.3M193.1 1171.6v2.6M202.7 1171.6v1.3M208.3 1171.6v1.3M212.2 1171.6v1.3M215.3 1171.6v1.3M217.8 1171.6v1.3M220.0 1171.6v1.3M221.8 1171.6v1.3M223.4 1171.6v1.3M224.9 1171.6v2.6" stroke="#222" stroke-width="0.5" fill="none"/>
<text x="161.3" y="1193.2" font-size="7" font-weight="normal" text-anchor="middle" fill="#3a3a3a">CD4</text>
<text transform="translate(82.2 1108) rotate(-90)" font-size="7" font-weight="normal" text-anchor="middle" fill="#3a3a3a">SS INT</text>
<text transform="translate(156.71 1130.8)" font-size="18.3" letter-spacing="0.504" stroke="#000" stroke-width="0.3">10.03%</text>
<line x1="200.3" y1="1059.9" x2="261" y2="1059.9" stroke="#000" stroke-width="2" />
<polygon points="260.2,1054.1 271.8,1060 260.2,1065.9" fill="#000" />
<ellipse cx="331" cy="1092" rx="10" ry="3.2" transform="rotate(-77 331 1092)" fill="#9A5FA8" opacity="0.3"/>
<g transform="translate(276.6 1014.3)" fill="none" stroke-width="0.9"><path d="M102.1 107.5h0.9M39.4 92.5h0.9M49.1 81.0h0.9M59.7 101.1h0.9M112.7 56.6h0.9M36.5 66.1h0.9M74.9 52.8h0.9M19.6 125.4h0.9M62.3 65.8h0.9M5.2 83.0h0.9M48.2 113.2h0.9M85.1 52.4h0.9M85.0 69.7h0.9M96.6 101.4h0.9M98.1 75.8h0.9M82.9 97.0h0.9M43.4 59.8h0.9M53.6 96.9h0.9M65.4 68.5h0.9M46.8 69.5h0.9M70.7 71.7h0.9M96.2 67.3h0.9M61.4 92.3h0.9M90.2 68.4h0.9M68.4 37.4h0.9M44.6 23.1h0.9M104.9 59.9h0.9M32.4 97.2h0.9M21.2 74.6h0.9M80.2 75.7h0.9M39.9 112.2h0.9M52.5 78.9h0.9M52.7 56.7h0.9M50.4 63.2h0.9M65.5 73.1h0.9M83.0 74.0h0.9M76.9 39.0h0.9M88.0 99.3h0.9M50.9 48.4h0.9M43.2 82.9h0.9M59.8 86.6h0.9M78.9 46.6h0.9M55.6 47.9h0.9M18.7 107.3h0.9M103.4 64.1h0.9M53.4 73.9h0.9M63.7 46.5h0.9M115.7 81.0h0.9M58.7 78.2h0.9M73.1 61.9h0.9M66.7 56.9h0.9M24.5 89.6h0.9M55.7 37.3h0.9M97.2 68.2h0.9M63.1 84.5h0.9M59.7 73.7h0.9M68.8 107.1h0.9M89.8 76.9h0.9M33.4 115.4h0.9M66.3 52.9h0.9M28.5 57.8h0.9M46.5 79.8h0.9M82.5 71.4h0.9M89.9 79.1h0.9M18.2 103.6h0.9M28.5 88.1h0.9M102.0 20.9h0.9M58.3 79.4h0.9M76.0 79.5h0.9M85.6 72.8h0.9M70.7 32.4h0.9M39.5 85.8h0.9M59.5 73.4h0.9M44.0 47.2h0.9M49.6 82.0h0.9M50.3 61.8h0.9M82.7 62.0h0.9M64.1 90.3h0.9M91.0 69.0h0.9M36.2 33.8h0.9M88.7 71.1h0.9M5.6 79.3h0.9M22.9 88.0h0.9M57.7 78.2h0.9M26.3 95.8h0.9M44.2 86.9h0.9M59.6 69.6h0.9M72.0 87.9h0.9M67.4 89.5h0.9M74.9 78.2h0.9M38.5 55.7h0.9M56.2 101.8h0.9M73.4 104.2h0.9M66.2 71.6h0.9M106.9 45.2h0.9M106.3 25.9h0.9M69.3 112.8h0.9M45.5 76.3h0.9M53.1 121.6h0.9M45.3 82.7h0.9M18.2 76.6h0.9M87.2 55.0h0.9M84.4 56.9h0.9M8.6 120.4h0.9M41.4 86.2h0.9M29.9 70.7h0.9M55.6 51.5h0.9M67.5 9.8h0.9M71.6 74.5h0.9M21.3 114.9h0.9M42.0 52.0h0.9M57.1 95.1h0.9M53.7 87.9h0.9M105.4 60.6h0.9M92.5 113.0h0.9M57.8 48.9h0.9M100.3 59.1h0.9M51.0 46.6h0.9M86.1 87.7h0.9M62.3 70.3h0.9M61.5 48.2h0.9M35.4 84.0h0.9M77.5 57.1h0.9M17.7 83.0h0.9M48.9 43.5h0.9M42.6 71.5h0.9M23.9 77.9h0.9M31.1 90.7h0.9M51.8 40.2h0.9M81.1 74.8h0.9M67.1 75.3h0.9M50.0 67.3h0.9M83.0 81.4h0.9M46.0 68.7h0.9M30.7 73.1h0.9M93.0 77.2h0.9M64.7 94.6h0.9M94.5 82.7h0.9M108.5 47.5h0.9M65.7 66.7h0.9M59.3 76.5h0.9M5.6 118.0h0.9M84.3 73.7h0.9M80.5 97.2h0.9M66.7 99.3h0.9M68.5 72.7h0.9M44.9 54.3h0.9M65.8 114.4h0.9M45.8 83.8h0.9M92.8 58.7h0.9M87.2 66.8h0.9M40.5 63.2h0.9M104.5 63.6h0.9M73.2 75.6h0.9M27.5 99.5h0.9M54.6 76.6h0.9M44.8 62.6h0.9M54.5 85.2h0.9M43.4 90.6h0.9M79.6 77.5h0.9M42.2 105.2h0.9M61.6 122.3h0.9M69.4 56.4h0.9M53.1 39.1h0.9M122.6 46.2h0.9M95.8 50.6h0.9M50.9 40.3h0.9M109.4 84.6h0.9M27.3 78.1h0.9M77.4 60.1h0.9M75.4 58.8h0.9M88.9 16.3h0.9M102.7 89.6h0.9M79.8 48.5h0.9M57.6 83.8h0.9M64.1 85.4h0.9M59.3 93.5h0.9M76.5 82.1h0.9M30.4 85.1h0.9M33.3 74.6h0.9M50.1 96.3h0.9M86.0 89.7h0.9M107.7 73.9h0.9M76.7 69.2h0.9M29.7 58.9h0.9M59.5 99.9h0.9M38.1 74.7h0.9M55.3 90.4h0.9M72.0 15.0h0.9M67.8 52.0h0.9M49.4 75.5h0.9M70.1 83.2h0.9M57.5 49.3h0.9M112.3 97.2h0.9M96.5 77.7h0.9M80.3 49.5h0.9M79.0 51.8h0.9M62.4 58.0h0.9M53.7 70.3h0.9M80.3 68.4h0.9M85.7 100.5h0.9M33.2 81.9h0.9M69.3 62.6h0.9M97.0 45.7h0.9M62.3 82.3h0.9M112.6 62.1h0.9M34.0 85.4h0.9M105.4 40.5h0.9M36.7 77.6h0.9M109.6 34.1h0.9M72.5 61.2h0.9M86.3 57.1h0.9M93.2 44.4h0.9M73.2 59.6h0.9M61.9 79.0h0.9M80.6 50.7h0.9M45.8 85.3h0.9M51.6 64.9h0.9M68.7 82.3h0.9M60.9 92.7h0.9M88.2 87.1h0.9M70.3 90.4h0.9M56.9 41.0h0.9M75.9 59.2h0.9M55.8 66.3h0.9M72.2 82.3h0.9M27.9 77.9h0.9M70.3 68.0h0.9M74.5 89.7h0.9M95.1 66.2h0.9M74.1 60.1h0.9M84.6 114.2h0.9M115.9 6.6h0.9M59.5 79.9h0.9M62.6 61.5h0.9M23.0 81.4h0.9M55.4 110.6h0.9M42.5 78.4h0.9M38.4 106.0h0.9M46.4 84.8h0.9M18.7 103.0h0.9M68.0 86.6h0.9M84.7 56.9h0.9M29.4 87.4h0.9M111.1 78.7h0.9M85.3 88.1h0.9M21.2 82.1h0.9M47.7 95.0h0.9M45.2 72.5h0.9M75.9 48.9h0.9M85.0 50.3h0.9M58.6 107.5h0.9M65.8 73.6h0.9M75.8 77.8h0.9M64.2 50.4h0.9M60.0 121.2h0.9M82.1 53.2h0.9M49.7 71.4h0.9M67.9 69.5h0.9M70.8 65.7h0.9M87.1 65.9h0.9M79.2 91.6h0.9M88.7 51.2h0.9M58.3 93.4h0.9M34.1 94.8h0.9M25.4 63.0h0.9M51.9 74.1h0.9M48.8 57.9h0.9M70.1 40.6h0.9M60.4 95.4h0.9M71.2 54.9h0.9M55.0 66.1h0.9M42.7 76.5h0.9M76.6 106.6h0.9M46.2 81.5h0.9M71.9 103.3h0.9M74.7 74.1h0.9M50.9 89.0h0.9M112.8 54.0h0.9M68.1 68.9h0.9M55.2 42.8h0.9M57.5 100.2h0.9M95.9 82.8h0.9M67.0 77.8h0.9M104.1 75.6h0.9M77.9 79.7h0.9M29.1 61.6h0.9M100.5 71.9h0.9M69.6 87.8h0.9M78.2 94.6h0.9M50.7 58.3h0.9M89.1 78.6h0.9M82.1 68.5h0.9M82.9 88.9h0.9M74.3 74.1h0.9M50.3 75.4h0.9M112.9 69.3h0.9M87.7 90.5h0.9M20.5 86.3h0.9M74.5 65.0h0.9M38.7 97.1h0.9M51.9 56.8h0.9M80.3 81.9h0.9M81.1 48.8h0.9M82.1 96.1h0.9M100.4 61.6h0.9M85.1 84.1h0.9M52.4 42.4h0.9M90.5 88.9h0.9M67.5 52.5h0.9M40.5 87.8h0.9M36.2 110.1h0.9M63.1 101.6h0.9M41.1 123.7h0.9M56.3 75.4h0.9M21.0 115.8h0.9M89.1 74.5h0.9M85.4 76.6h0.9M102.1 41.9h0.9M43.1 102.9h0.9M52.1 91.3h0.9M99.1 42.7h0.9M73.0 45.6h0.9M78.4 84.0h0.9M40.1 105.6h0.9M14.4 83.0h0.9M33.3 106.0h0.9M41.8 96.4h0.9M41.3 77.2h0.9M22.8 75.3h0.9M6.8 81.4h0.9M23.3 102.6h0.9M33.5 99.7h0.9M22.7 74.4h0.9M40.9 104.0h0.9M35.0 102.4h0.9M47.5 81.8h0.9M3.3 78.0h0.9M24.3 72.0h0.9M23.7 82.0h0.9M8.8 100.3h0.9M15.8 105.7h0.9M26.9 76.7h0.9M4.3 81.0h0.9M53.1 84.7h0.9M21.0 73.8h0.9M33.2 77.3h0.9M8.3 73.2h0.9M1.0 91.1h0.9M3.5 71.4h0.9M45.6 96.9h0.9M16.2 78.7h0.9M52.9 105.6h0.9M9.9 96.1h0.9M9.8 78.4h0.9M19.3 74.4h0.9M21.8 76.5h0.9M53.3 86.5h0.9M10.4 73.3h0.9M32.0 77.5h0.9M39.4 74.7h0.9M5.6 79.7h0.9M42.2 105.7h0.9M48.0 97.9h0.9M40.1 103.7h0.9M47.5 102.9h0.9M9.5 75.6h0.9M35.8 105.8h0.9M10.6 74.4h0.9M29.8 100.4h0.9M24.6 104.6h0.9M31.6 105.2h0.9M45.3 97.5h0.9M41.6 103.2h0.9M4.2 95.0h0.9M38.5 104.4h0.9M46.5 78.3h0.9M48.5 87.0h0.9M35.5 100.7h0.9M47.4 83.7h0.9M48.3 89.0h0.9M8.8 86.6h0.9M30.5 108.4h0.9M16.2 69.5h0.9M21.0 75.2h0.9M34.9 85.1h0.9M8.0 101.0h0.9M14.9 108.6h0.9M4.7 82.6h0.9M21.3 77.7h0.9M44.5 99.1h0.9M14.6 102.8h0.9M1.9 95.4h0.9M50.7 88.3h0.9M21.7 100.1h0.9M39.9 76.6h0.9M36.9 102.7h0.9M17.9 104.0h0.9M52.1 93.5h0.9M48.8 91.0h0.9M21.2 106.0h0.9M28.2 73.9h0.9M21.6 112.6h0.9M23.4 80.5h0.9M15.4 76.2h0.9M1.5 91.9h0.9M52.4 91.6h0.9M3.3 81.3h0.9M2.9 101.6h0.9M40.4 99.4h0.9M42.7 75.2h0.9M59.5 84.0h0.9M40.7 67.1h0.9M33.1 85.6h0.9M58.1 89.5h0.9M37.1 95.2h0.9M37.5 74.3h0.9M61.5 87.0h0.9M52.1 74.3h0.9M50.8 79.7h0.9M35.0 71.3h0.9M40.9 95.5h0.9M35.3 89.9h0.9M34.5 92.9h0.9M50.1 90.0h0.9M26.5 75.5h0.9M25.2 88.7h0.9M48.8 75.4h0.9M43.7 71.5h0.9M57.4 89.7h0.9M35.2 68.5h0.9M27.8 75.7h0.9M34.8 93.2h0.9M50.4 76.1h0.9M54.8 74.4h0.9M30.2 88.3h0.9M52.0 64.7h0.9M50.7 89.4h0.9M50.8 75.4h0.9M32.3 73.7h0.9M31.7 79.2h0.9M55.0 80.3h0.9M33.9 69.4h0.9M31.7 89.4h0.9M50.5 87.2h0.9M58.7 76.1h0.9M42.4 71.5h0.9M41.7 69.9h0.9M48.5 69.4h0.9M30.2 81.8h0.9M32.4 73.3h0.9M42.4 95.1h0.9M29.5 76.0h0.9M58.5 70.1h0.9M31.7 74.5h0.9M50.7 85.9h0.9M35.5 67.1h0.9M42.4 72.7h0.9M48.1 75.7h0.9M52.9 78.5h0.9M26.5 88.8h0.9M35.4 78.9h0.9M46.6 97.0h0.9M23.5 68.6h0.9M32.5 67.8h0.9M33.0 62.2h0.9M33.2 89.5h0.9M44.8 66.7h0.9M48.9 89.0h0.9M47.4 93.9h0.9M44.5 66.4h0.9M44.1 95.8h0.9M56.4 75.2h0.9M41.6 71.6h0.9M41.5 65.4h0.9M61.9 62.6h0.9M30.2 77.8h0.9M57.5 81.9h0.9M48.5 94.5h0.9M47.8 74.6h0.9M54.4 79.5h0.9M46.5 89.9h0.9M46.2 94.4h0.9M54.6 89.0h0.9M33.7 87.6h0.9M47.1 89.6h0.9M38.9 89.7h0.9M50.3 84.3h0.9M43.5 95.1h0.9M39.1 91.9h0.9M33.4 81.9h0.9M49.7 77.8h0.9M32.8 77.9h0.9M50.8 82.9h0.9M49.1 87.0h0.9M47.6 87.4h0.9M39.9 94.9h0.9M44.8 95.4h0.9M50.3 76.3h0.9M55.8 81.9h0.9M29.6 82.6h0.9M37.3 72.5h0.9M46.1 91.3h0.9M33.8 79.1h0.9M33.4 78.1h0.9M43.7 88.9h0.9M29.2 82.9h0.9M44.2 82.7h0.9M59.1 92.4h0.9M58.2 97.9h0.9M60.6 55.3h0.9M49.6 71.4h0.9M52.9 52.6h0.9M46.7 78.5h0.9M63.0 65.4h0.9M49.9 71.8h0.9M61.9 64.5h0.9M63.4 74.6h0.9M45.1 71.5h0.9M65.2 73.8h0.9M59.0 92.8h0.9M59.9 87.0h0.9M50.7 57.8h0.9M48.1 80.8h0.9M42.8 86.5h0.9M43.3 77.9h0.9M57.2 94.5h0.9M47.5 96.4h0.9M64.1 65.2h0.9M51.7 86.9h0.9M45.6 80.9h0.9M53.5 61.9h0.9M61.0 85.0h0.9M52.8 61.9h0.9M62.8 63.4h0.9M58.5 92.4h0.9M61.7 56.2h0.9M54.1 89.2h0.9M49.3 90.8h0.9M48.7 70.7h0.9M51.5 96.2h0.9M57.9 61.5h0.9M56.3 93.9h0.9M51.4 98.5h0.9M59.9 57.8h0.9M50.5 94.6h0.9M62.0 74.6h0.9M61.1 61.7h0.9M43.7 89.0h0.9M64.1 58.9h0.9M64.4 56.9h0.9M61.9 57.7h0.9M44.4 102.2h0.9M63.1 67.6h0.9M56.1 59.4h0.9M66.1 59.2h0.9M49.2 74.1h0.9M63.1 77.7h0.9M63.3 61.8h0.9M59.7 57.2h0.9M64.4 55.8h0.9M43.9 94.1h0.9M52.9 98.6h0.9M59.8 92.2h0.9M46.7 68.2h0.9M64.2 67.0h0.9M62.5 86.7h0.9M42.2 107.4h0.9M50.0 68.6h0.9M62.5 55.2h0.9M44.7 83.2h0.9M46.7 66.8h0.9M62.0 84.5h0.9M43.2 84.8h0.9M61.9 69.9h0.9M65.3 76.5h0.9M44.1 85.2h0.9M46.6 75.0h0.9M65.3 56.5h0.9M47.1 105.8h0.9M44.2 94.4h0.9M49.8 71.3h0.9M49.7 92.8h0.9M56.0 63.7h0.9M62.0 58.6h0.9M63.0 68.3h0.9M65.5 59.5h0.9M45.9 81.7h0.9M51.4 63.2h0.9M43.8 84.5h0.9M61.6 74.7h0.9M48.5 88.9h0.9M58.1 92.2h0.9M45.0 84.9h0.9M46.7 78.8h0.9M47.3 83.4h0.9M54.5 96.3h0.9M52.5 98.8h0.9M60.7 65.4h0.9M55.9 61.6h0.9M46.5 72.2h0.9M48.4 64.0h0.9M48.3 94.4h0.9M63.5 61.1h0.9M49.2 96.1h0.9M50.6 59.2h0.9M62.6 57.6h0.9M61.1 57.3h0.9M64.2 62.7h0.9M52.8 94.5h0.9M60.2 54.3h0.9M44.8 90.1h0.9M58.9 59.3h0.9M45.9 92.7h0.9M62.3 77.3h0.9M46.6 88.4h0.9M45.8 78.9h0.9M58.4 88.4h0.9M56.2 62.6h0.9M61.3 76.9h0.9M73.6 68.1h0.9M73.2 56.3h0.9M58.6 59.5h0.9M64.8 62.3h0.9M50.4 65.8h0.9M78.4 68.2h0.9M73.3 52.9h0.9M59.3 49.8h0.9M59.9 68.4h0.9M69.7 56.3h0.9M67.2 71.3h0.9M61.1 55.6h0.9M64.4 54.8h0.9M76.5 65.4h0.9M65.1 60.9h0.9M82.9 56.5h0.9M78.0 56.2h0.9M57.0 65.7h0.9M77.1 66.0h0.9M59.8 72.7h0.9M74.8 66.0h0.9M59.1 64.6h0.9M59.4 49.4h0.9M62.7 55.2h0.9M55.9 86.3h0.9M77.5 63.4h0.9M63.7 59.6h0.9M58.1 60.4h0.9M71.4 65.2h0.9M59.0 70.1h0.9M80.0 50.3h0.9M60.0 67.0h0.9M58.5 67.7h0.9M54.6 69.8h0.9M71.7 78.2h0.9M69.3 54.5h0.9M52.5 65.2h0.9M80.4 55.0h0.9M85.1 66.4h0.9M71.7 72.8h0.9M79.5 62.5h0.9M63.4 58.8h0.9M81.9 59.8h0.9M54.1 64.9h0.9M65.3 69.3h0.9M70.3 59.2h0.9M77.9 54.8h0.9M63.4 74.8h0.9M62.4 69.2h0.9M76.2 57.6h0.9M62.0 52.1h0.9M70.8 56.1h0.9M79.8 54.0h0.9M78.6 71.0h0.9M52.5 74.4h0.9M64.9 78.0h0.9M82.8 55.0h0.9M79.2 67.4h0.9M75.6 61.4h0.9M61.9 69.2h0.9M71.2 58.5h0.9M76.1 62.1h0.9M72.8 69.2h0.9M69.8 70.0h0.9M67.5 71.5h0.9M72.8 76.3h0.9" stroke="#ADA9B1"/><path d="M23.9 102.4h0.9M18.5 95.7h0.9M24.0 85.9h0.9M8.8 94.6h0.9M32.9 97.4h0.9M38.4 92.8h0.9M22.7 87.3h0.9M35.9 90.3h0.9M30.8 90.8h0.9M31.7 87.0h0.9M16.3 90.1h0.9M30.9 94.3h0.9M25.4 83.5h0.9M33.5 87.4h0.9M19.1 88.8h0.9M11.1 90.1h0.9M25.1 96.7h0.9M19.7 90.0h0.9M25.6 98.5h0.9M2.8 95.0h0.9M22.8 101.0h0.9M19.6 94.9h0.9M21.5 96.7h0.9M12.5 94.2h0.9M40.4 91.5h0.9M18.3 96.1h0.9M23.2 92.3h0.9M39.2 94.3h0.9M21.9 93.8h0.9M25.8 93.6h0.9M29.0 85.0h0.9M7.1 90.7h0.9M25.6 92.9h0.9M32.2 96.1h0.9M20.1 91.7h0.9M12.2 85.7h0.9M23.0 93.8h0.9M22.0 98.9h0.9M23.5 90.6h0.9M19.7 95.5h0.9M20.1 93.6h0.9M30.1 82.5h0.9M23.1 81.2h0.9M28.3 99.2h0.9M20.0 86.2h0.9M17.8 95.3h0.9M14.5 83.1h0.9M4.9 89.3h0.9M10.2 96.5h0.9M18.5 87.7h0.9M24.5 81.8h0.9M38.8 93.4h0.9M20.6 91.9h0.9M20.0 86.4h0.9M25.1 93.3h0.9M27.6 95.3h0.9M33.4 94.8h0.9M36.9 90.1h0.9M15.6 83.8h0.9M21.7 93.5h0.9M40.3 95.1h0.9M15.0 89.8h0.9M19.6 95.5h0.9M27.7 97.3h0.9M24.1 90.0h0.9M22.7 94.0h0.9M5.9 91.4h0.9M26.9 91.5h0.9M29.1 88.1h0.9M21.7 81.0h0.9M36.3 89.4h0.9M7.9 84.6h0.9M23.5 79.7h0.9M16.1 90.6h0.9M17.1 92.4h0.9M21.8 92.8h0.9M23.1 102.5h0.9M18.8 92.1h0.9M23.7 91.1h0.9M31.4 97.3h0.9M25.8 91.9h0.9M17.1 86.4h0.9M36.7 88.1h0.9M15.6 81.7h0.9M28.9 83.7h0.9M13.8 89.8h0.9M32.6 90.4h0.9M28.8 96.3h0.9M10.9 84.2h0.9M26.8 97.1h0.9M21.7 88.5h0.9M9.0 85.7h0.9M16.4 92.3h0.9M17.2 87.5h0.9M18.4 87.6h0.9M20.8 90.8h0.9M36.1 91.5h0.9M35.2 96.6h0.9M14.1 87.8h0.9M13.4 79.9h0.9M13.6 89.6h0.9M32.9 99.3h0.9M26.0 97.9h0.9M25.6 100.0h0.9M11.6 95.5h0.9M22.8 90.4h0.9M33.9 86.9h0.9M26.6 82.1h0.9M16.6 91.5h0.9M34.1 81.4h0.9M16.8 90.0h0.9M15.3 91.1h0.9M23.0 81.5h0.9M16.8 84.2h0.9M20.1 89.5h0.9M35.4 97.2h0.9M25.5 94.7h0.9M35.4 91.4h0.9M31.9 92.3h0.9M18.7 90.1h0.9M35.5 89.7h0.9M35.6 89.9h0.9M34.5 96.7h0.9M30.1 84.2h0.9M26.4 85.2h0.9M15.4 96.5h0.9M32.1 97.0h0.9M35.3 86.7h0.9M5.5 80.2h0.9M16.4 86.2h0.9M16.2 95.4h0.9M10.7 88.4h0.9M25.7 92.6h0.9M40.8 89.9h0.9M26.0 101.2h0.9M35.2 90.9h0.9M32.4 93.8h0.9M28.6 92.3h0.9M18.0 96.9h0.9M15.2 97.9h0.9M21.3 80.6h0.9M28.3 92.9h0.9M19.8 88.1h0.9M12.4 88.0h0.9M42.1 90.7h0.9M24.1 88.6h0.9M28.5 93.9h0.9M23.9 80.3h0.9M41.3 83.9h0.9M22.3 98.6h0.9M26.4 86.5h0.9M37.0 80.7h0.9M14.8 81.3h0.9M25.1 91.9h0.9M15.2 89.5h0.9M16.6 99.6h0.9M18.5 89.9h0.9M26.6 92.8h0.9M11.2 86.8h0.9M20.3 84.8h0.9M31.7 94.0h0.9M6.6 82.1h0.9M34.4 92.1h0.9M22.8 94.4h0.9M30.6 91.1h0.9M18.0 81.4h0.9M19.8 91.3h0.9M28.8 94.4h0.9M9.8 88.3h0.9M13.4 89.7h0.9M21.0 95.4h0.9M26.3 82.5h0.9M30.3 91.8h0.9M28.5 84.3h0.9M24.8 95.1h0.9M14.3 90.0h0.9M36.2 90.2h0.9M34.3 85.8h0.9M24.8 94.5h0.9M16.1 92.8h0.9M43.4 89.0h0.9M16.9 93.9h0.9M36.0 93.2h0.9M29.3 88.0h0.9M27.2 96.0h0.9M14.2 93.5h0.9M25.6 91.5h0.9M23.1 86.4h0.9M17.1 90.3h0.9M22.4 88.6h0.9M24.9 93.1h0.9M35.1 85.6h0.9M35.3 86.2h0.9M18.6 101.8h0.9M19.0 94.4h0.9M14.9 102.2h0.9M13.9 86.3h0.9M17.0 91.1h0.9M28.7 93.2h0.9M21.6 96.1h0.9M33.0 93.0h0.9M18.7 89.7h0.9M24.5 87.7h0.9M17.1 95.3h0.9M21.1 95.3h0.9M13.2 87.2h0.9M22.9 90.6h0.9M43.1 92.1h0.9M41.4 94.3h0.9M36.7 90.4h0.9M26.8 78.6h0.9M30.4 83.2h0.9M5.5 89.9h0.9M39.2 94.6h0.9M35.9 89.3h0.9M19.5 93.2h0.9M6.3 88.5h0.9M32.9 95.4h0.9M42.1 89.7h0.9M15.9 94.6h0.9M23.1 83.7h0.9M38.3 86.4h0.9M14.3 82.1h0.9M23.6 85.5h0.9M16.4 85.4h0.9M28.0 91.4h0.9M28.2 92.8h0.9M26.1 87.7h0.9M7.5 91.4h0.9M9.0 93.0h0.9M18.8 95.0h0.9M19.8 88.2h0.9M34.9 95.4h0.9M29.6 95.6h0.9M37.7 96.6h0.9M8.1 90.2h0.9M27.0 88.4h0.9M12.7 90.8h0.9M7.6 92.1h0.9M22.5 87.3h0.9M18.9 93.7h0.9M25.4 90.4h0.9M19.0 89.3h0.9M25.7 84.9h0.9M26.5 86.8h0.9M36.1 99.1h0.9M7.4 86.4h0.9M42.4 92.9h0.9M14.0 84.9h0.9M14.8 88.3h0.9M22.8 85.2h0.9M31.8 96.4h0.9M20.3 81.2h0.9M20.4 98.3h0.9M19.7 89.8h0.9M17.5 87.2h0.9M19.3 96.2h0.9M37.6 93.2h0.9M13.0 94.6h0.9M20.6 91.7h0.9M20.7 83.0h0.9M12.8 85.1h0.9M16.3 85.4h0.9M5.2 85.5h0.9M19.7 101.0h0.9M35.7 94.9h0.9M23.9 87.3h0.9M25.5 93.2h0.9M9.9 91.0h0.9M28.8 83.4h0.9M22.7 78.9h0.9M15.1 92.0h0.9M18.6 83.7h0.9M29.5 94.0h0.9M26.6 78.4h0.9M33.9 88.4h0.9M23.3 92.0h0.9M18.4 94.3h0.9M23.4 92.1h0.9M35.6 88.8h0.9M31.6 94.4h0.9M18.2 98.2h0.9M13.2 89.1h0.9M18.4 96.0h0.9M4.7 98.2h0.9M38.3 86.6h0.9M25.2 92.3h0.9M21.5 83.1h0.9M24.0 89.9h0.9M21.3 93.6h0.9M18.4 98.8h0.9M23.5 90.4h0.9M16.5 92.0h0.9M13.4 88.6h0.9M16.1 79.3h0.9M33.4 89.4h0.9M24.9 94.8h0.9M24.3 93.9h0.9M11.3 88.6h0.9M28.2 86.1h0.9M40.4 91.3h0.9M14.5 86.5h0.9M17.0 94.7h0.9M20.5 86.0h0.9M17.3 86.7h0.9M22.9 89.6h0.9M38.2 80.7h0.9M49.5 77.7h0.9M38.7 75.6h0.9M45.0 75.2h0.9M45.7 90.7h0.9M35.8 84.8h0.9M32.7 77.6h0.9M32.8 82.6h0.9M40.9 87.1h0.9M40.6 86.0h0.9M43.9 76.6h0.9M41.4 85.6h0.9M34.6 85.2h0.9M35.6 76.0h0.9M41.4 82.1h0.9M41.2 77.5h0.9M36.4 86.7h0.9M31.0 79.8h0.9M47.2 89.2h0.9M45.8 73.2h0.9M37.5 84.6h0.9M33.0 84.0h0.9M45.9 74.3h0.9M47.4 81.0h0.9M49.6 81.7h0.9M40.1 73.1h0.9M45.6 84.2h0.9M45.4 76.8h0.9M35.2 82.4h0.9M36.5 80.4h0.9M41.1 81.2h0.9M42.4 77.4h0.9M36.4 79.6h0.9M44.7 79.1h0.9M31.9 86.3h0.9M40.3 79.8h0.9M46.7 80.9h0.9M37.5 78.1h0.9M49.1 77.9h0.9M49.5 75.8h0.9M48.2 89.7h0.9M34.7 77.9h0.9M45.2 74.4h0.9M44.6 77.9h0.9M36.1 84.1h0.9M39.8 88.4h0.9M39.1 88.7h0.9M37.2 81.5h0.9M40.2 70.4h0.9M34.0 78.9h0.9M38.9 80.7h0.9M40.1 79.5h0.9M39.2 77.7h0.9M35.5 72.2h0.9M39.1 78.7h0.9M44.4 86.2h0.9M49.3 76.8h0.9M40.9 82.4h0.9M38.6 84.5h0.9M43.3 75.9h0.9M41.1 89.9h0.9M49.4 78.7h0.9M34.9 82.2h0.9M42.3 87.2h0.9M37.3 82.0h0.9M51.4 87.9h0.9M38.4 86.6h0.9M38.4 87.6h0.9M37.1 91.6h0.9M36.3 85.0h0.9M45.1 78.5h0.9M47.3 81.6h0.9M38.5 87.0h0.9M45.1 77.8h0.9M48.0 79.4h0.9M51.7 79.9h0.9M41.1 86.3h0.9M47.0 86.8h0.9M40.2 85.1h0.9M40.3 91.8h0.9M43.0 81.3h0.9M38.6 79.3h0.9M41.9 76.3h0.9M33.2 80.9h0.9M40.6 69.0h0.9M37.0 73.9h0.9M63.1 70.2h0.9M46.9 87.3h0.9M51.3 86.1h0.9M47.1 90.5h0.9M48.7 91.5h0.9M51.5 95.3h0.9M53.0 87.5h0.9M55.4 91.1h0.9M51.3 69.3h0.9M55.5 57.4h0.9M59.5 63.8h0.9M61.0 66.1h0.9M49.4 86.0h0.9M57.3 94.0h0.9M57.2 72.5h0.9M54.9 88.8h0.9M53.3 80.2h0.9M57.9 81.1h0.9M50.8 90.3h0.9M59.5 66.2h0.9M48.3 78.6h0.9M59.1 83.5h0.9M53.7 83.5h0.9M52.4 93.7h0.9M63.4 56.5h0.9M54.1 93.5h0.9M56.8 59.0h0.9M47.7 73.2h0.9M57.3 86.6h0.9M51.5 71.0h0.9M57.4 55.7h0.9M56.3 79.7h0.9M53.1 66.6h0.9M47.8 90.9h0.9M56.4 70.3h0.9M48.1 87.0h0.9M52.9 59.5h0.9M49.0 87.4h0.9M56.5 87.0h0.9M52.2 91.3h0.9M53.9 84.1h0.9M59.8 75.0h0.9M61.5 60.0h0.9M47.0 85.5h0.9M61.3 76.5h0.9M48.6 91.8h0.9M60.0 66.8h0.9M48.1 73.7h0.9M54.3 73.9h0.9M44.9 80.4h0.9M49.7 67.7h0.9M57.5 60.0h0.9M56.2 76.6h0.9M47.5 82.7h0.9M58.2 84.1h0.9M49.6 99.0h0.9M50.9 85.0h0.9M53.2 87.2h0.9M58.7 69.6h0.9M55.6 65.8h0.9M52.1 80.0h0.9M60.3 79.7h0.9M55.9 55.9h0.9M62.9 63.0h0.9M59.3 61.2h0.9M64.8 68.9h0.9M56.2 76.2h0.9M52.5 82.3h0.9M58.3 64.4h0.9M51.2 72.9h0.9M56.8 64.6h0.9M51.7 72.1h0.9M55.2 64.0h0.9M48.8 89.7h0.9M58.7 86.1h0.9M53.2 67.2h0.9M57.5 66.5h0.9M55.6 75.9h0.9M53.6 62.1h0.9M52.8 69.2h0.9M47.3 84.7h0.9M61.3 84.7h0.9M53.9 71.7h0.9M49.3 94.1h0.9M61.0 80.3h0.9M59.2 57.7h0.9M55.5 68.5h0.9M46.6 86.4h0.9M58.7 81.2h0.9M56.6 90.5h0.9M60.1 68.7h0.9M51.4 84.5h0.9M58.1 88.2h0.9M49.0 81.1h0.9M49.8 95.2h0.9M53.0 88.5h0.9M50.3 77.3h0.9M48.1 83.2h0.9M57.9 66.4h0.9M51.3 73.0h0.9M51.6 93.8h0.9M58.9 73.8h0.9M52.2 80.9h0.9M61.8 81.1h0.9M46.7 91.5h0.9M48.2 84.6h0.9M45.2 78.3h0.9M50.4 78.1h0.9M61.2 64.3h0.9M57.2 63.6h0.9M59.7 71.7h0.9M49.6 87.2h0.9M57.2 74.5h0.9M56.0 59.7h0.9M54.6 89.2h0.9M49.6 71.8h0.9M52.6 97.2h0.9M54.4 86.8h0.9M49.7 81.0h0.9M56.6 75.5h0.9M58.5 68.9h0.9M51.5 86.4h0.9M47.1 87.2h0.9M49.2 67.5h0.9M54.9 86.1h0.9M62.1 70.5h0.9M59.8 71.0h0.9M49.4 86.8h0.9M53.1 94.8h0.9M48.3 73.6h0.9M59.0 76.4h0.9M58.7 88.1h0.9M47.5 76.5h0.9M61.5 82.5h0.9M50.5 82.2h0.9M47.1 88.1h0.9M52.4 87.2h0.9M58.1 65.6h0.9M46.2 84.2h0.9M54.6 82.0h0.9M55.5 64.0h0.9M59.5 67.9h0.9M57.1 64.9h0.9M57.1 86.0h0.9M45.0 88.9h0.9M55.0 91.2h0.9M57.4 92.9h0.9M54.1 73.2h0.9M63.3 70.3h0.9M51.9 88.5h0.9M57.0 78.7h0.9M48.7 84.2h0.9M52.5 70.7h0.9M54.2 90.2h0.9M63.9 78.8h0.9M46.6 91.4h0.9M56.1 92.8h0.9M55.0 69.6h0.9M49.6 91.8h0.9M58.4 79.2h0.9M60.4 66.3h0.9M62.2 60.1h0.9M48.8 89.2h0.9M51.9 71.6h0.9M61.0 65.8h0.9M61.2 79.1h0.9M47.8 94.2h0.9M51.6 72.0h0.9M59.6 73.0h0.9M57.0 72.5h0.9M60.2 71.8h0.9M49.0 83.6h0.9M53.9 89.3h0.9M48.8 86.4h0.9M51.3 85.9h0.9M54.1 79.4h0.9M49.6 89.6h0.9M50.9 83.1h0.9M46.0 89.1h0.9M58.6 83.1h0.9M52.8 75.2h0.9M47.2 94.0h0.9M54.5 74.0h0.9M60.1 62.9h0.9M63.6 62.3h0.9M51.5 83.1h0.9M54.5 82.5h0.9M52.5 81.5h0.9M52.6 69.8h0.9M61.3 73.1h0.9M49.4 87.6h0.9M53.5 70.0h0.9M54.7 69.2h0.9M60.1 66.3h0.9M52.4 71.9h0.9M53.0 94.1h0.9M57.8 61.9h0.9M47.5 79.1h0.9M62.7 72.1h0.9M51.7 81.3h0.9M58.0 65.6h0.9M53.0 78.0h0.9M52.6 65.5h0.9M57.0 60.1h0.9M56.3 90.0h0.9M56.8 62.1h0.9M50.3 67.9h0.9M61.8 74.8h0.9M53.6 65.4h0.9M48.6 92.1h0.9M62.5 74.8h0.9M58.4 67.7h0.9M55.3 77.0h0.9M62.7 58.3h0.9M47.6 84.2h0.9M49.1 75.3h0.9M52.4 88.4h0.9M48.8 63.3h0.9M51.9 78.7h0.9M51.4 88.9h0.9M59.2 59.2h0.9M49.1 95.7h0.9M59.4 74.2h0.9M46.2 78.0h0.9M73.3 66.0h0.9M63.7 72.5h0.9M72.2 59.8h0.9M66.3 67.7h0.9M69.7 61.3h0.9M63.8 66.0h0.9M71.1 61.6h0.9M69.6 64.3h0.9M69.6 58.1h0.9M66.8 59.0h0.9M72.7 61.3h0.9M74.7 59.8h0.9M59.5 68.3h0.9M66.7 67.1h0.9M69.7 63.3h0.9M66.9 64.1h0.9M71.1 70.7h0.9M73.0 61.3h0.9M61.9 68.6h0.9M65.9 68.4h0.9M65.9 66.4h0.9M76.1 61.0h0.9M71.5 59.7h0.9M66.9 64.9h0.9M74.0 62.9h0.9M69.9 66.6h0.9M64.7 58.1h0.9M65.8 64.5h0.9M68.4 58.8h0.9M64.8 59.6h0.9M65.1 68.3h0.9M66.0 62.7h0.9M68.4 69.5h0.9M70.3 67.2h0.9M68.0 65.6h0.9M62.5 68.3h0.9M67.7 66.1h0.9M59.6 68.1h0.9M70.9 64.2h0.9M69.7 54.2h0.9M65.6 71.5h0.9M66.8 62.9h0.9M71.5 59.6h0.9M70.9 62.8h0.9M71.3 62.5h0.9M63.4 65.8h0.9M66.2 61.5h0.9M64.0 60.6h0.9M67.2 66.9h0.9M60.4 72.0h0.9" stroke="#B283B6"/><path d="M32.5 97.8h0.9M38.0 101.8h0.9M43.0 90.1h0.9M22.3 80.7h0.9M40.9 95.2h0.9M44.3 101.7h0.9M25.4 78.2h0.9M38.1 84.3h0.9M13.2 83.0h0.9M18.1 83.4h0.9M7.2 81.0h0.9M5.8 86.6h0.9M41.8 86.2h0.9M38.5 90.1h0.9M18.3 98.9h0.9M16.2 80.6h0.9M27.9 79.8h0.9M9.5 89.6h0.9M11.4 84.3h0.9M16.2 99.4h0.9M38.6 87.6h0.9M26.6 79.3h0.9M34.4 95.7h0.9M31.9 79.6h0.9M40.5 98.3h0.9M42.0 88.2h0.9M45.5 90.8h0.9M13.0 84.2h0.9M4.2 95.2h0.9M29.5 79.7h0.9M11.6 92.0h0.9M40.6 83.5h0.9M33.4 98.6h0.9M12.6 98.4h0.9M36.4 93.7h0.9M24.8 79.5h0.9M3.2 89.1h0.9M29.2 79.2h0.9M15.0 94.7h0.9M3.7 89.7h0.9M21.5 82.1h0.9M36.3 98.0h0.9M17.2 98.5h0.9M20.8 104.0h0.9M1.6 89.2h0.9M16.0 103.3h0.9M14.4 100.6h0.9M34.6 81.8h0.9M10.8 85.7h0.9M29.0 81.4h0.9M6.6 86.6h0.9M51.8 89.5h0.9M56.0 65.0h0.9M56.9 74.8h0.9M51.8 84.6h0.9M55.4 81.6h0.9M51.9 72.9h0.9M59.1 61.9h0.9M50.5 90.0h0.9M56.4 70.2h0.9M49.2 79.8h0.9M59.6 70.9h0.9M59.5 65.6h0.9M58.0 79.7h0.9M60.7 63.6h0.9M49.4 88.1h0.9M55.2 86.3h0.9M61.7 67.2h0.9M49.0 86.1h0.9M56.7 64.8h0.9M49.4 88.7h0.9M53.5 66.1h0.9M52.1 92.4h0.9M50.3 89.5h0.9M61.6 68.2h0.9M56.0 75.1h0.9M56.9 66.0h0.9M54.8 64.1h0.9M50.7 90.4h0.9M55.0 78.0h0.9M58.1 73.2h0.9M57.8 77.7h0.9M56.3 82.5h0.9M60.1 68.6h0.9M53.2 84.3h0.9M51.5 73.5h0.9M49.2 80.3h0.9M50.2 74.4h0.9M58.7 68.6h0.9M53.3 72.5h0.9M49.2 81.8h0.9M51.4 66.7h0.9M57.6 71.6h0.9M59.0 71.5h0.9M54.8 87.9h0.9M56.4 70.3h0.9M59.0 78.3h0.9M51.4 80.1h0.9M50.7 72.7h0.9M60.4 82.2h0.9M52.1 82.6h0.9M56.0 64.1h0.9M54.5 85.5h0.9M57.9 72.1h0.9M49.9 73.1h0.9M57.5 72.6h0.9M56.8 66.3h0.9M49.3 79.5h0.9M54.0 88.9h0.9M58.5 78.1h0.9M52.7 70.1h0.9M56.7 79.1h0.9M53.4 86.6h0.9M49.6 76.4h0.9M50.4 71.4h0.9M51.5 80.6h0.9M58.5 66.5h0.9M50.5 85.9h0.9M51.5 89.3h0.9M59.7 69.2h0.9M60.4 86.2h0.9M54.5 82.6h0.9M56.8 59.9h0.9M60.0 75.7h0.9M58.6 64.7h0.9M54.2 62.6h0.9M51.7 77.8h0.9M56.8 62.9h0.9M55.8 60.9h0.9M51.2 69.5h0.9M61.2 69.7h0.9M56.8 76.0h0.9M47.0 94.1h0.9M48.5 83.2h0.9M51.7 78.2h0.9M59.0 68.0h0.9M54.8 71.2h0.9M55.5 70.2h0.9M54.0 88.9h0.9M58.5 67.6h0.9M50.1 85.2h0.9M49.7 88.8h0.9M53.5 88.7h0.9M56.6 84.6h0.9M49.5 90.2h0.9M53.2 70.0h0.9M51.7 69.6h0.9M56.5 75.0h0.9M49.1 87.1h0.9M47.9 84.9h0.9M48.9 78.7h0.9M61.0 84.3h0.9M58.8 68.8h0.9M48.5 82.0h0.9M57.5 64.6h0.9M51.9 89.5h0.9M52.9 67.7h0.9M56.0 84.4h0.9M53.3 85.4h0.9M50.6 85.6h0.9M48.0 83.8h0.9M56.1 78.6h0.9M54.9 86.8h0.9M50.1 86.0h0.9M50.4 85.4h0.9M59.4 69.5h0.9M60.1 75.6h0.9M56.3 67.8h0.9M52.0 85.0h0.9M53.0 72.8h0.9M47.2 78.0h0.9M54.0 86.5h0.9M55.3 88.2h0.9M56.1 89.3h0.9M54.8 87.3h0.9M47.4 92.3h0.9M59.7 66.8h0.9M59.2 60.1h0.9M53.6 89.8h0.9M52.5 84.3h0.9M57.4 78.3h0.9M57.6 66.3h0.9M52.2 65.7h0.9M50.1 85.8h0.9M52.1 79.3h0.9M55.4 58.0h0.9M57.6 84.6h0.9M55.0 75.5h0.9M55.5 88.1h0.9M53.7 82.0h0.9M55.9 82.7h0.9M47.9 71.8h0.9M53.8 74.5h0.9M55.9 73.5h0.9M54.7 67.7h0.9M54.8 86.4h0.9M58.6 78.3h0.9M51.2 85.5h0.9M60.9 64.3h0.9M57.5 85.6h0.9M49.6 92.3h0.9M55.5 80.5h0.9M55.9 83.6h0.9M55.5 84.2h0.9M57.9 73.6h0.9M57.2 83.6h0.9M56.9 68.7h0.9M51.0 81.5h0.9M49.3 78.6h0.9M51.1 79.7h0.9M51.2 72.2h0.9M51.1 72.7h0.9M62.5 75.6h0.9M49.3 72.7h0.9M50.3 83.8h0.9M52.1 69.7h0.9M59.2 63.5h0.9M57.8 83.3h0.9M54.5 76.7h0.9M53.9 84.4h0.9M51.3 67.0h0.9M47.7 78.3h0.9M50.6 75.1h0.9M54.1 82.6h0.9M50.3 90.8h0.9M51.6 73.2h0.9M60.5 74.3h0.9M54.8 80.4h0.9M51.6 67.9h0.9M58.2 75.2h0.9M57.2 71.3h0.9M53.5 90.2h0.9M59.5 76.7h0.9M57.4 78.9h0.9M50.7 86.7h0.9M54.4 67.5h0.9M48.2 80.3h0.9M58.1 74.4h0.9M52.8 82.5h0.9M59.4 83.7h0.9M56.1 67.6h0.9M56.5 86.4h0.9M59.8 77.7h0.9M54.3 62.2h0.9M50.8 73.3h0.9M54.4 69.4h0.9M57.7 71.5h0.9M57.6 80.0h0.9M51.6 66.1h0.9M55.2 72.3h0.9M49.7 85.0h0.9M48.2 88.1h0.9M57.6 65.4h0.9M53.4 90.5h0.9M50.6 76.5h0.9M54.4 70.7h0.9M48.8 76.5h0.9M54.7 90.0h0.9M54.7 69.1h0.9M57.1 82.9h0.9M50.1 70.4h0.9M54.6 69.9h0.9M54.5 67.0h0.9M55.9 84.1h0.9M58.8 84.9h0.9M56.1 61.9h0.9M47.2 77.6h0.9M55.2 86.3h0.9M53.2 70.3h0.9M60.2 66.6h0.9M57.5 81.7h0.9M49.1 80.5h0.9M58.2 67.2h0.9M54.5 86.0h0.9M52.1 78.4h0.9M56.0 78.3h0.9M58.3 89.4h0.9M51.1 74.2h0.9M55.8 68.9h0.9M60.1 63.8h0.9M51.6 71.5h0.9M59.9 80.0h0.9M54.7 82.6h0.9M51.5 72.9h0.9M55.2 69.6h0.9M56.2 74.7h0.9M58.1 72.5h0.9M59.4 75.4h0.9M51.8 76.7h0.9M57.9 63.7h0.9M52.7 70.3h0.9M48.2 78.7h0.9M50.2 79.4h0.9M50.6 89.2h0.9M57.6 65.3h0.9M58.1 82.9h0.9M55.1 71.9h0.9M59.9 71.5h0.9M48.7 98.1h0.9M47.4 74.4h0.9M53.7 90.4h0.9M55.5 95.6h0.9M50.9 75.5h0.9M49.3 76.2h0.9M50.9 84.4h0.9M57.8 72.2h0.9M54.5 66.1h0.9M62.3 72.1h0.9M53.0 74.5h0.9M55.7 76.6h0.9M57.3 84.3h0.9M57.4 84.9h0.9M57.6 84.0h0.9M58.2 62.8h0.9M48.5 91.2h0.9M57.4 68.5h0.9M57.1 72.0h0.9M59.3 65.9h0.9M59.2 72.5h0.9M53.7 80.3h0.9M55.9 68.8h0.9M50.2 84.9h0.9M51.1 66.1h0.9M49.2 85.0h0.9M55.9 76.3h0.9M49.2 77.2h0.9M47.6 88.0h0.9M53.0 90.4h0.9M62.6 70.2h0.9M52.0 88.4h0.9M50.0 92.1h0.9M59.3 66.2h0.9M56.8 67.2h0.9M58.5 72.8h0.9M59.1 66.7h0.9M49.6 96.1h0.9M57.3 78.9h0.9M58.7 59.5h0.9M51.7 71.5h0.9M58.9 65.3h0.9M55.8 69.9h0.9M52.9 82.9h0.9M52.7 71.3h0.9M57.3 78.2h0.9M53.2 84.5h0.9M58.4 69.0h0.9M54.5 71.7h0.9M48.9 89.7h0.9M47.9 94.7h0.9M49.8 77.8h0.9M59.0 70.5h0.9M50.7 88.0h0.9M60.8 86.3h0.9M57.6 81.1h0.9M50.2 83.2h0.9M55.8 68.2h0.9M52.7 86.4h0.9M50.5 87.6h0.9M59.3 74.5h0.9M57.2 73.5h0.9M59.6 78.1h0.9M50.4 86.5h0.9M56.2 79.4h0.9M49.2 81.8h0.9M55.4 73.6h0.9M49.1 86.4h0.9M51.9 87.0h0.9M47.4 86.6h0.9M56.2 84.5h0.9M59.2 85.3h0.9M57.5 65.7h0.9M53.7 67.3h0.9M52.2 69.6h0.9M59.5 62.7h0.9M49.4 67.4h0.9M55.7 81.4h0.9M50.6 88.8h0.9M52.9 88.4h0.9M48.7 83.3h0.9M51.4 80.2h0.9M55.5 82.1h0.9M56.3 89.7h0.9M53.5 71.5h0.9M60.1 70.3h0.9M48.2 90.1h0.9M54.9 66.4h0.9M53.1 65.9h0.9M60.8 80.3h0.9M47.0 87.2h0.9M59.6 65.1h0.9M51.9 89.4h0.9M56.9 68.6h0.9M60.2 73.6h0.9M52.5 84.8h0.9M58.9 61.9h0.9M57.8 64.1h0.9M58.4 82.9h0.9M48.0 77.6h0.9M55.3 91.7h0.9M50.7 90.0h0.9M49.9 83.1h0.9M55.1 81.6h0.9M51.9 87.1h0.9M53.4 64.3h0.9M62.0 64.1h0.9M53.7 89.6h0.9M58.8 78.9h0.9M60.3 69.4h0.9M52.9 84.1h0.9M51.4 92.7h0.9M59.6 78.9h0.9M49.7 78.7h0.9M58.4 61.2h0.9M53.6 71.4h0.9M58.9 79.6h0.9M56.7 63.2h0.9M57.1 75.1h0.9M61.4 73.5h0.9M49.8 73.9h0.9M50.7 96.3h0.9M50.6 78.7h0.9M50.2 77.9h0.9M53.4 87.6h0.9M51.9 88.3h0.9M52.6 72.1h0.9M49.9 79.9h0.9M59.6 73.9h0.9M59.5 66.8h0.9M55.5 81.0h0.9M50.9 78.8h0.9M60.1 76.4h0.9M54.0 74.4h0.9M51.6 80.6h0.9M53.0 86.5h0.9M55.9 75.4h0.9M55.5 83.5h0.9M59.9 77.7h0.9M57.5 59.8h0.9M58.7 72.4h0.9M51.4 70.9h0.9M53.1 92.4h0.9M60.0 80.5h0.9M57.5 80.8h0.9M50.4 75.3h0.9M52.7 71.5h0.9M49.3 83.4h0.9M61.2 71.3h0.9M49.3 89.6h0.9M58.2 66.4h0.9M58.0 92.1h0.9M56.7 71.6h0.9M59.9 71.0h0.9M63.1 61.1h0.9M49.4 88.3h0.9M48.0 78.4h0.9M51.5 92.2h0.9M56.8 66.0h0.9M57.3 73.1h0.9M51.0 71.3h0.9M53.0 77.9h0.9M53.5 72.7h0.9M55.6 83.5h0.9M53.0 86.7h0.9M53.1 63.5h0.9M50.3 81.3h0.9M54.6 71.2h0.9M49.5 87.4h0.9M51.8 63.9h0.9M54.1 96.1h0.9M58.1 70.7h0.9M54.9 70.4h0.9M48.6 84.1h0.9M46.0 86.7h0.9M50.5 87.5h0.9M53.3 64.5h0.9M46.3 81.9h0.9M54.1 71.8h0.9M49.5 77.0h0.9M50.8 81.3h0.9M52.9 72.3h0.9M52.0 74.4h0.9M50.1 90.7h0.9M52.7 70.5h0.9M59.1 65.9h0.9M46.7 84.3h0.9M51.2 86.3h0.9M55.4 62.2h0.9M59.2 66.7h0.9M47.4 87.5h0.9M57.0 74.6h0.9M53.8 70.6h0.9M53.0 84.7h0.9M47.7 87.9h0.9M54.4 90.7h0.9M54.4 67.2h0.9M57.2 71.9h0.9M56.1 86.5h0.9M59.6 80.8h0.9M53.9 69.5h0.9M54.2 65.2h0.9M49.5 79.1h0.9M46.6 84.4h0.9M59.1 67.9h0.9M53.5 83.6h0.9M56.7 83.9h0.9M59.9 74.7h0.9M50.1 78.9h0.9M51.5 81.7h0.9M51.3 79.9h0.9M60.3 79.5h0.9M57.8 76.6h0.9M52.4 71.4h0.9M50.7 78.2h0.9M58.4 68.9h0.9M54.5 67.4h0.9M59.2 83.1h0.9M59.0 79.5h0.9M57.1 76.2h0.9M60.0 74.0h0.9M58.5 74.0h0.9M56.6 62.5h0.9M55.7 77.1h0.9M57.0 86.4h0.9M48.1 76.2h0.9M48.4 84.1h0.9M49.3 74.2h0.9M55.3 86.2h0.9M46.7 81.5h0.9M59.0 72.9h0.9M56.3 63.6h0.9M51.7 89.5h0.9M47.6 76.9h0.9M48.8 71.9h0.9M56.7 67.4h0.9M47.6 84.6h0.9M53.3 89.4h0.9M56.3 67.1h0.9M54.5 84.2h0.9M58.1 70.3h0.9M54.3 87.7h0.9M57.4 83.1h0.9M59.9 72.1h0.9M58.3 66.1h0.9M59.9 76.9h0.9M55.7 84.6h0.9M57.5 72.7h0.9M59.9 64.0h0.9M58.8 66.3h0.9M55.7 81.5h0.9M58.4 73.8h0.9M53.3 70.8h0.9M55.0 69.1h0.9M58.0 73.7h0.9M55.6 84.0h0.9M51.9 88.5h0.9M60.5 63.3h0.9M54.4 67.9h0.9M56.5 68.5h0.9M52.7 93.2h0.9M57.7 78.6h0.9M57.2 82.2h0.9M55.5 69.0h0.9M51.5 85.2h0.9M60.0 79.2h0.9M59.3 65.6h0.9" stroke="#9C4FA3"/><path d="M25.5 89.4h0.9M28.5 89.2h0.9M28.0 89.9h0.9M26.7 87.9h0.9M27.0 93.8h0.9M24.7 90.5h0.9M22.5 89.1h0.9M25.6 87.9h0.9M23.6 90.4h0.9M22.3 91.3h0.9M23.4 89.8h0.9M25.0 89.9h0.9M17.0 91.1h0.9M24.0 90.6h0.9M23.5 90.7h0.9M18.5 87.0h0.9M20.1 87.8h0.9M25.7 90.8h0.9M26.9 91.2h0.9M21.0 87.8h0.9M21.5 89.8h0.9M52.8 78.7h0.9M55.2 73.1h0.9M55.8 74.0h0.9M50.9 78.9h0.9M56.1 77.7h0.9M59.7 73.8h0.9M53.6 74.8h0.9M50.5 78.2h0.9M51.9 79.6h0.9M51.6 82.7h0.9M54.4 71.9h0.9M51.9 88.2h0.9M51.7 78.1h0.9M54.4 83.7h0.9M53.1 85.1h0.9M53.1 82.9h0.9M58.2 79.1h0.9M55.7 82.1h0.9M52.6 74.9h0.9M55.8 72.8h0.9M53.2 75.2h0.9M57.1 72.4h0.9M52.6 79.0h0.9M56.6 72.4h0.9M53.7 79.0h0.9M55.3 82.1h0.9M52.4 76.3h0.9M51.8 82.5h0.9M53.8 71.6h0.9M49.9 76.4h0.9M51.4 79.7h0.9M57.4 70.7h0.9M53.2 74.1h0.9M57.0 80.3h0.9M57.7 78.1h0.9M53.1 71.9h0.9M55.1 74.5h0.9M55.5 76.8h0.9M55.7 82.2h0.9M56.8 73.2h0.9M53.8 78.7h0.9M57.4 79.3h0.9M56.8 68.5h0.9M54.1 79.6h0.9M50.1 90.9h0.9M54.5 72.3h0.9M56.9 76.5h0.9M53.0 76.4h0.9M51.7 82.8h0.9M53.3 79.4h0.9M52.3 81.3h0.9M52.5 85.9h0.9M57.3 76.4h0.9M51.4 73.9h0.9M52.5 76.4h0.9M54.3 81.9h0.9M60.1 68.8h0.9M54.4 82.3h0.9M50.0 79.4h0.9M56.9 78.5h0.9M53.8 74.5h0.9M50.2 79.8h0.9M58.9 73.4h0.9M53.9 79.5h0.9M56.7 70.5h0.9M52.7 74.2h0.9M55.6 79.9h0.9M53.1 82.3h0.9M56.3 74.9h0.9M52.6 85.7h0.9M55.7 69.7h0.9M53.4 83.6h0.9M52.6 87.1h0.9M53.6 83.8h0.9M53.1 80.5h0.9M53.2 83.2h0.9M53.7 81.0h0.9M55.5 81.8h0.9M58.9 70.9h0.9M55.4 81.7h0.9M52.5 81.0h0.9M53.9 78.6h0.9M57.6 71.7h0.9M56.9 77.7h0.9M53.3 72.7h0.9M58.1 67.4h0.9M53.0 75.6h0.9M50.5 84.3h0.9M56.3 77.4h0.9M57.9 79.5h0.9M55.8 76.5h0.9M54.4 88.4h0.9M54.2 80.0h0.9M54.8 71.5h0.9M55.1 77.7h0.9M55.5 76.5h0.9M54.0 83.9h0.9M52.6 82.3h0.9M51.8 82.9h0.9M53.7 77.1h0.9M57.9 72.0h0.9M55.0 85.8h0.9M54.2 87.1h0.9M56.9 74.6h0.9M57.8 65.8h0.9M51.9 72.2h0.9M57.2 78.4h0.9M58.9 73.3h0.9M53.2 76.8h0.9M53.8 80.4h0.9M56.3 85.4h0.9M50.4 80.5h0.9M53.4 73.9h0.9M52.3 75.1h0.9M57.3 79.0h0.9M54.9 66.1h0.9M52.4 81.2h0.9M51.9 73.4h0.9M57.3 79.5h0.9M53.8 70.5h0.9M55.4 65.3h0.9M55.4 68.5h0.9M55.0 69.8h0.9M55.2 69.9h0.9M57.4 74.4h0.9M51.5 86.0h0.9M55.6 69.8h0.9M52.2 83.8h0.9M53.4 78.9h0.9M54.5 69.0h0.9M52.0 90.6h0.9M55.0 81.3h0.9M57.5 71.2h0.9M58.9 72.9h0.9M56.1 67.8h0.9M54.3 72.6h0.9M57.1 74.3h0.9M54.5 70.1h0.9M59.4 72.5h0.9M50.1 84.7h0.9M51.8 76.0h0.9M50.9 77.5h0.9M52.0 81.8h0.9M52.3 84.2h0.9M53.4 81.6h0.9M53.5 76.1h0.9M53.8 81.8h0.9M51.7 81.9h0.9M57.5 80.2h0.9M51.4 80.1h0.9M48.8 90.4h0.9M52.7 80.0h0.9M53.4 76.7h0.9M59.6 73.6h0.9M48.2 89.5h0.9M53.9 83.7h0.9M55.3 73.8h0.9M54.3 70.1h0.9M53.7 80.6h0.9M54.8 72.5h0.9M55.7 86.1h0.9M51.6 78.3h0.9M54.6 73.5h0.9M53.2 74.3h0.9M49.5 85.8h0.9M57.0 74.7h0.9M55.2 69.1h0.9M53.6 81.3h0.9M53.4 73.7h0.9M52.6 83.2h0.9M51.8 82.2h0.9M52.4 73.6h0.9M52.4 78.6h0.9M50.9 80.3h0.9M56.1 74.3h0.9M55.2 74.9h0.9M54.9 85.0h0.9M53.4 78.1h0.9M55.2 73.9h0.9M52.7 84.1h0.9" stroke="#5F68C6"/><path d="M54.8 85.0h0.9M52.1 66.9h0.9M54.3 77.4h0.9M54.5 76.7h0.9M54.1 79.7h0.9M52.5 78.0h0.9M55.6 77.2h0.9M54.4 84.1h0.9M57.6 74.2h0.9M53.8 74.9h0.9M53.8 81.7h0.9M55.7 76.3h0.9M54.1 78.5h0.9M53.1 84.5h0.9M55.5 71.5h0.9M53.7 78.2h0.9M53.8 82.3h0.9M55.5 75.7h0.9M55.3 73.3h0.9M54.1 78.8h0.9M54.4 74.6h0.9M54.9 73.0h0.9M54.2 76.3h0.9M53.5 77.3h0.9M54.1 76.4h0.9M54.8 70.1h0.9M54.1 80.1h0.9M53.8 79.0h0.9M53.0 82.1h0.9M54.6 79.9h0.9M54.6 78.2h0.9M53.9 78.4h0.9M53.9 76.6h0.9M58.8 68.4h0.9M58.3 73.3h0.9M49.5 84.2h0.9M53.6 80.0h0.9M55.0 78.2h0.9M53.3 74.5h0.9M53.8 73.4h0.9M54.1 76.9h0.9M53.9 80.7h0.9M55.6 71.2h0.9M54.3 77.2h0.9M56.3 75.0h0.9M55.3 79.9h0.9M56.5 78.6h0.9M55.8 72.4h0.9M50.7 85.1h0.9M56.1 75.3h0.9M50.5 78.2h0.9M55.0 75.4h0.9M55.4 77.3h0.9M55.5 76.9h0.9M54.2 73.8h0.9M54.8 73.8h0.9M51.5 81.0h0.9M55.6 81.8h0.9M56.5 77.6h0.9M53.8 78.5h0.9M53.6 81.0h0.9M53.8 76.0h0.9M53.9 78.8h0.9M54.4 77.6h0.9M59.7 76.0h0.9M55.4 84.0h0.9M54.6 80.0h0.9M50.1 77.8h0.9M54.8 78.6h0.9M54.1 80.3h0.9M54.0 77.5h0.9M54.9 75.5h0.9M53.3 77.7h0.9M53.0 79.2h0.9M53.1 77.4h0.9M52.5 77.5h0.9M55.0 70.1h0.9M57.0 79.1h0.9M55.8 76.9h0.9M53.4 71.9h0.9M58.0 72.1h0.9M54.9 75.4h0.9M54.5 75.8h0.9M54.1 75.3h0.9M52.3 76.4h0.9M53.7 81.7h0.9M53.3 78.8h0.9M52.9 78.8h0.9M55.9 77.8h0.9M52.7 74.0h0.9M53.3 72.7h0.9M52.1 82.1h0.9M54.5 81.4h0.9M55.3 74.7h0.9M56.3 74.5h0.9M53.6 75.2h0.9M54.4 76.2h0.9M54.6 73.0h0.9M52.4 80.2h0.9M52.6 78.0h0.9M54.6 77.7h0.9M51.5 75.9h0.9M52.9 80.3h0.9M51.7 83.2h0.9M55.0 78.5h0.9M51.6 77.7h0.9M52.8 84.7h0.9M54.6 86.3h0.9M51.3 78.1h0.9M53.8 78.2h0.9M53.6 76.7h0.9M53.9 74.7h0.9M51.9 77.1h0.9M51.9 86.2h0.9M55.2 80.6h0.9M57.8 74.6h0.9M56.9 78.3h0.9M54.3 74.9h0.9M58.0 82.2h0.9M54.1 75.0h0.9M54.2 80.7h0.9M58.7 77.1h0.9M53.7 83.3h0.9M54.6 79.9h0.9M56.1 73.6h0.9M53.8 69.8h0.9M52.4 76.8h0.9M56.0 73.8h0.9M54.8 70.9h0.9M57.5 77.4h0.9M51.6 78.6h0.9M53.5 80.4h0.9M53.6 79.3h0.9M53.9 81.6h0.9M53.7 80.5h0.9M54.1 80.7h0.9M55.6 82.6h0.9M55.2 77.1h0.9M53.7 81.1h0.9M53.8 77.5h0.9M54.9 73.5h0.9M52.6 78.3h0.9M54.9 80.0h0.9M53.7 76.8h0.9M55.1 74.9h0.9M53.0 74.6h0.9M55.1 73.3h0.9M55.2 74.9h0.9M55.5 70.2h0.9M54.9 70.4h0.9M53.2 87.3h0.9M57.2 67.6h0.9M51.6 82.8h0.9" stroke="#35A3D2"/><path d="M32.8 88.5h0.9M35.7 85.7h0.9M44.2 94.3h0.9M24.3 91.9h0.9M10.0 87.3h0.9M7.4 96.7h0.9M36.3 93.6h0.9M17.9 89.8h0.9M8.5 77.9h0.9M16.3 85.4h0.9M25.5 81.7h0.9M19.8 93.7h0.9M33.2 96.0h0.9M22.9 100.9h0.9M33.6 98.8h0.9M20.3 86.4h0.9M25.5 86.2h0.9M18.4 88.7h0.9M31.6 80.2h0.9M38.6 81.6h0.9M28.3 100.0h0.9M31.3 97.8h0.9M39.1 83.3h0.9M16.1 104.6h0.9M28.3 82.2h0.9M42.1 88.9h0.9M13.2 89.2h0.9M31.1 90.2h0.9M18.8 86.2h0.9M33.4 87.6h0.9M29.2 88.0h0.9M31.8 90.5h0.9M27.4 89.1h0.9M34.3 80.6h0.9M39.2 93.8h0.9M35.2 93.4h0.9M34.2 90.3h0.9M29.8 92.7h0.9M23.8 95.0h0.9M34.7 93.5h0.9M29.5 92.2h0.9M11.0 84.8h0.9M41.7 89.9h0.9M30.5 93.6h0.9M22.5 87.6h0.9M35.3 90.1h0.9M20.5 87.1h0.9M34.8 96.2h0.9M25.7 96.3h0.9M39.1 92.1h0.9M17.6 86.6h0.9M14.6 89.6h0.9M37.6 86.7h0.9M14.3 78.9h0.9M21.2 94.7h0.9M24.1 90.0h0.9M19.4 91.2h0.9M12.2 89.2h0.9M28.6 86.9h0.9M22.5 97.4h0.9M11.3 91.9h0.9M17.7 90.0h0.9M16.7 89.3h0.9M10.4 93.7h0.9M28.7 81.6h0.9M18.7 87.7h0.9M9.7 86.9h0.9M27.2 88.4h0.9M37.4 89.8h0.9M5.7 81.9h0.9M16.8 98.2h0.9M36.0 98.0h0.9M24.0 97.2h0.9M23.9 85.9h0.9M41.9 87.2h0.9M8.0 94.0h0.9M23.6 91.5h0.9M21.8 93.3h0.9M22.1 89.6h0.9M10.2 81.6h0.9M26.6 85.4h0.9M13.4 93.9h0.9M24.2 80.9h0.9M14.8 92.1h0.9M15.7 96.5h0.9M33.3 83.7h0.9M42.6 88.9h0.9M15.6 78.7h0.9M18.6 82.7h0.9M42.9 81.0h0.9M41.1 87.9h0.9M45.2 82.6h0.9M37.2 79.8h0.9M41.1 85.3h0.9M36.8 75.6h0.9M42.0 89.4h0.9M35.4 84.2h0.9M40.1 88.7h0.9M36.9 81.9h0.9M42.2 76.5h0.9M43.7 80.6h0.9M41.9 81.3h0.9M43.8 77.3h0.9M39.7 82.3h0.9M36.3 85.5h0.9M46.2 89.6h0.9M48.9 79.2h0.9M53.2 92.9h0.9M53.1 72.8h0.9M57.5 87.4h0.9M53.6 75.3h0.9M56.9 79.4h0.9M56.4 83.3h0.9M58.1 92.1h0.9M54.3 81.6h0.9M52.7 96.0h0.9M53.1 70.7h0.9M45.8 88.9h0.9M55.3 69.4h0.9M56.6 80.2h0.9M57.4 80.0h0.9M50.5 70.5h0.9M50.3 79.2h0.9M55.6 77.4h0.9M53.8 91.9h0.9M55.7 78.2h0.9M54.0 72.8h0.9M48.5 83.9h0.9M54.1 83.8h0.9M49.9 84.7h0.9M55.5 73.7h0.9M48.8 88.2h0.9M50.0 84.7h0.9M56.2 68.0h0.9M54.8 72.4h0.9M51.3 80.7h0.9M55.7 77.9h0.9M49.2 77.6h0.9M56.0 63.0h0.9M47.5 89.4h0.9M57.7 82.4h0.9M51.4 83.5h0.9M61.0 68.0h0.9M51.3 84.9h0.9M60.6 77.6h0.9M53.0 73.6h0.9M56.3 82.4h0.9M49.1 76.3h0.9M49.1 81.9h0.9M49.7 90.5h0.9M56.1 86.6h0.9M56.4 74.3h0.9M51.3 76.9h0.9M50.1 75.0h0.9M56.5 75.0h0.9M50.5 82.9h0.9M60.5 76.5h0.9M50.4 78.8h0.9M57.5 78.9h0.9M54.0 76.9h0.9M54.1 73.4h0.9M61.5 62.6h0.9M61.4 58.9h0.9M55.2 65.7h0.9M60.4 72.7h0.9M50.2 76.1h0.9M48.8 83.0h0.9M58.3 83.4h0.9M53.1 67.1h0.9M55.6 58.7h0.9M52.5 75.1h0.9M49.0 80.0h0.9M49.3 87.3h0.9M59.7 72.2h0.9M55.7 76.4h0.9M58.3 85.1h0.9M51.4 69.6h0.9M54.5 71.7h0.9M58.7 81.7h0.9M57.2 79.1h0.9M51.9 92.7h0.9M54.8 82.9h0.9M62.1 70.0h0.9M58.3 84.4h0.9M50.4 71.9h0.9M57.2 62.8h0.9M48.9 91.8h0.9M46.7 82.6h0.9M60.1 67.5h0.9M52.4 60.1h0.9M52.8 81.5h0.9M50.6 90.7h0.9M58.5 87.5h0.9M55.7 89.4h0.9M61.8 75.5h0.9M54.9 75.7h0.9M53.2 77.1h0.9M51.3 82.1h0.9M55.5 66.8h0.9M51.7 84.9h0.9M59.1 60.9h0.9M60.7 59.6h0.9M52.5 93.4h0.9M49.5 78.0h0.9M53.3 72.9h0.9M53.6 85.5h0.9M53.0 79.6h0.9M51.2 76.4h0.9M56.6 78.8h0.9M60.0 64.6h0.9M52.0 81.1h0.9M52.4 70.2h0.9M53.5 85.6h0.9M48.7 75.7h0.9M49.8 85.9h0.9M54.7 75.9h0.9M58.5 53.0h0.9M52.7 76.4h0.9M56.3 90.2h0.9M50.4 83.6h0.9M50.1 84.9h0.9M51.1 67.6h0.9M48.5 77.4h0.9M57.9 73.9h0.9M53.9 82.7h0.9M67.1 58.3h0.9M68.0 57.6h0.9" stroke="#8E8A93"/></g>
<line x1="407.6" y1="1014.3" x2="407.6" y2="1145.3" stroke="#9a9a9a" stroke-width="0.7" />
<line x1="276.6" y1="1014.3" x2="407.6" y2="1014.3" stroke="#9a9a9a" stroke-width="0.7" />
<line x1="276.6" y1="1014.3" x2="276.6" y2="1145.7" stroke="#1a1a1a" stroke-width="0.9" />
<line x1="276.6" y1="1145.3" x2="407.6" y2="1145.3" stroke="#1a1a1a" stroke-width="0.9" />
<line x1="341.4" y1="1051" x2="341.4" y2="1145.3" stroke="#444" stroke-width="0.6" />
<path d="M276.6 1093V1118" stroke="#3aa0d0" stroke-width="0.8" fill="none"/>
<text x="274.4" y="1016.5" font-size="5.2" font-weight="normal" text-anchor="end" fill="#3a3a3a">10<tspan font-size="3.2" dy="-2">3</tspan></text>
<line x1="274.6" y1="1014.3" x2="276.6" y2="1014.3" stroke="#333" stroke-width="0.6" />
<text x="274.4" y="1049.5" font-size="5.2" font-weight="normal" text-anchor="end" fill="#3a3a3a">10<tspan font-size="3.2" dy="-2">2</tspan></text>
<line x1="274.6" y1="1047.3" x2="276.6" y2="1047.3" stroke="#333" stroke-width="0.6" />
<text x="274.4" y="1082.5" font-size="5.2" font-weight="normal" text-anchor="end" fill="#3a3a3a">10<tspan font-size="3.2" dy="-2">1</tspan></text>
<line x1="274.6" y1="1080.3" x2="276.6" y2="1080.3" stroke="#333" stroke-width="0.6" />
<text x="274.4" y="1115.5" font-size="5.2" font-weight="normal" text-anchor="end" fill="#3a3a3a">10<tspan font-size="3.2" dy="-2">0</tspan></text>
<line x1="274.6" y1="1113.3" x2="276.6" y2="1113.3" stroke="#333" stroke-width="0.6" />
<text x="309.2" y="1153.8" font-size="5.2" font-weight="normal" text-anchor="middle" fill="#3a3a3a">10<tspan font-size="3.2" dy="-2">0</tspan></text>
<text x="342.1" y="1153.8" font-size="5.2" font-weight="normal" text-anchor="middle" fill="#3a3a3a">10<tspan font-size="3.2" dy="-2">1</tspan></text>
<text x="375" y="1153.8" font-size="5.2" font-weight="normal" text-anchor="middle" fill="#3a3a3a">10<tspan font-size="3.2" dy="-2">2</tspan></text>
<text x="407.9" y="1153.8" font-size="5.2" font-weight="normal" text-anchor="middle" fill="#3a3a3a">10<tspan font-size="3.2" dy="-2">3</tspan></text>
<path d="M286.5 1145.3v1.3M292.3 1145.3v1.3M296.4 1145.3v1.3M299.6 1145.3v1.3M302.2 1145.3v1.3M304.4 1145.3v1.3M306.3 1145.3v1.3M308.0 1145.3v1.3M309.5 1145.3v2.6M319.4 1145.3v1.3M325.2 1145.3v1.3M329.3 1145.3v1.3M332.5 1145.3v1.3M335.1 1145.3v1.3M337.3 1145.3v1.3M339.2 1145.3v1.3M340.9 1145.3v1.3M342.4 1145.3v2.6M352.3 1145.3v1.3M358.1 1145.3v1.3M362.2 1145.3v1.3M365.4 1145.3v1.3M368.0 1145.3v1.3M370.2 1145.3v1.3M372.1 1145.3v1.3M373.8 1145.3v1.3M375.3 1145.3v2.6M385.2 1145.3v1.3M391.0 1145.3v1.3M395.1 1145.3v1.3M398.3 1145.3v1.3M400.9 1145.3v1.3M403.1 1145.3v1.3M405.0 1145.3v1.3M406.7 1145.3v1.3" stroke="#222" stroke-width="0.5" fill="none"/>
<text x="342" y="1167.8" font-size="7" font-weight="normal" text-anchor="middle" fill="#3a3a3a">CD25</text>
<text transform="translate(259.7 1079.8) rotate(-90)" font-size="7" font-weight="normal" text-anchor="middle" fill="#3a3a3a">Foxp3</text>
<text transform="translate(347.03 1033.9)" font-size="18.3" letter-spacing="0.463" stroke="#000" stroke-width="0.3">4.35%</text>
<text transform="translate(242.72 1195.7)" font-size="29.5" letter-spacing="0.604" stroke="#000" stroke-width="0.3">Control group</text>
<ellipse cx="331.3" cy="1289" rx="10" ry="3.2" transform="rotate(-78 331.3 1289)" fill="#9A5FA8" opacity="0.3"/>
<g transform="translate(277.6 1208.8)" fill="none" stroke-width="0.9"><path d="M78.6 60.5h0.9M108.6 55.3h0.9M72.2 85.3h0.9M57.5 61.9h0.9M76.4 70.6h0.9M16.4 47.8h0.9M45.2 74.3h0.9M72.9 64.8h0.9M83.8 61.0h0.9M53.0 72.3h0.9M16.4 114.2h0.9M90.5 109.1h0.9M78.8 75.5h0.9M12.9 70.0h0.9M97.3 61.0h0.9M98.5 80.8h0.9M27.4 96.1h0.9M82.2 44.9h0.9M83.1 56.0h0.9M55.2 79.0h0.9M81.4 78.3h0.9M96.2 114.1h0.9M64.8 93.4h0.9M82.6 102.8h0.9M51.7 106.5h0.9M95.5 40.3h0.9M40.2 74.9h0.9M72.5 66.7h0.9M83.0 46.2h0.9M43.2 62.1h0.9M64.2 86.4h0.9M57.9 58.9h0.9M101.8 92.9h0.9M45.0 101.9h0.9M95.6 75.7h0.9M52.0 75.0h0.9M29.9 49.8h0.9M41.3 74.8h0.9M44.3 98.9h0.9M67.7 79.3h0.9M48.2 109.5h0.9M32.7 64.1h0.9M14.6 117.1h0.9M98.1 61.4h0.9M34.4 84.5h0.9M81.4 55.4h0.9M101.6 35.9h0.9M79.6 56.7h0.9M79.2 9.2h0.9M53.0 101.0h0.9M26.1 87.9h0.9M30.5 48.4h0.9M94.3 90.0h0.9M104.4 40.6h0.9M24.6 90.9h0.9M37.0 85.8h0.9M43.0 113.1h0.9M69.2 60.0h0.9M77.8 93.3h0.9M40.9 56.6h0.9M58.8 57.7h0.9M98.2 68.1h0.9M113.4 78.5h0.9M38.9 71.8h0.9M74.4 72.0h0.9M42.6 78.7h0.9M33.9 88.3h0.9M41.7 76.2h0.9M85.3 85.5h0.9M87.8 70.4h0.9M36.9 70.7h0.9M49.1 84.3h0.9M47.4 97.6h0.9M58.6 53.0h0.9M59.4 61.0h0.9M91.6 86.8h0.9M28.7 81.6h0.9M83.0 57.8h0.9M48.6 51.6h0.9M49.7 108.5h0.9M51.0 113.8h0.9M85.8 62.9h0.9M92.4 58.6h0.9M65.2 61.7h0.9M43.9 80.4h0.9M64.2 88.3h0.9M70.2 88.6h0.9M32.5 91.9h0.9M55.9 90.7h0.9M89.1 74.0h0.9M106.6 71.4h0.9M69.8 65.0h0.9M64.5 90.7h0.9M92.1 65.0h0.9M33.0 76.8h0.9M74.0 50.0h0.9M39.3 97.5h0.9M92.3 23.0h0.9M41.7 63.3h0.9M78.8 58.6h0.9M84.1 77.3h0.9M3.1 107.7h0.9M75.2 95.4h0.9M97.5 88.0h0.9M74.6 37.8h0.9M51.5 67.2h0.9M43.1 77.4h0.9M23.6 43.7h0.9M31.8 60.5h0.9M72.6 61.5h0.9M3.1 126.8h0.9M58.5 24.3h0.9M53.2 52.3h0.9M72.7 57.9h0.9M57.5 107.8h0.9M20.5 58.5h0.9M87.3 45.0h0.9M24.9 112.7h0.9M52.8 54.3h0.9M65.4 83.0h0.9M81.5 67.7h0.9M76.9 71.0h0.9M60.8 62.2h0.9M81.3 63.0h0.9M67.9 64.3h0.9M88.7 73.4h0.9M69.1 80.3h0.9M69.9 100.2h0.9M37.2 69.3h0.9M24.9 129.5h0.9M117.2 58.6h0.9M43.2 103.3h0.9M77.9 72.0h0.9M28.4 103.7h0.9M89.9 65.1h0.9M41.0 74.6h0.9M4.5 57.0h0.9M30.3 99.2h0.9M90.5 73.7h0.9M18.7 84.5h0.9M92.9 45.5h0.9M67.0 102.8h0.9M15.9 85.4h0.9M91.4 69.6h0.9M70.2 78.9h0.9M86.3 58.2h0.9M73.9 54.8h0.9M63.2 74.3h0.9M68.6 74.3h0.9M38.4 87.0h0.9M40.1 129.1h0.9M35.7 105.6h0.9M71.9 68.0h0.9M57.7 44.5h0.9M91.4 73.2h0.9M74.1 90.3h0.9M6.1 92.6h0.9M64.8 109.3h0.9M72.1 44.1h0.9M32.5 84.5h0.9M56.7 66.4h0.9M14.3 84.1h0.9M107.7 93.8h0.9M34.5 65.2h0.9M42.8 74.8h0.9M64.0 83.7h0.9M67.1 62.2h0.9M30.4 75.7h0.9M54.2 65.0h0.9M64.1 89.8h0.9M58.2 68.9h0.9M57.4 125.5h0.9M73.0 74.0h0.9M16.9 80.2h0.9M60.6 88.6h0.9M27.8 66.5h0.9M28.4 66.2h0.9M53.6 88.8h0.9M37.1 120.5h0.9M46.1 45.9h0.9M69.0 64.9h0.9M100.5 46.0h0.9M67.8 73.4h0.9M108.6 67.6h0.9M33.5 100.9h0.9M32.1 120.6h0.9M10.6 54.9h0.9M82.8 91.1h0.9M76.5 83.4h0.9M57.7 71.7h0.9M79.4 30.5h0.9M49.1 46.3h0.9M62.6 54.4h0.9M49.6 79.5h0.9M63.0 90.0h0.9M39.9 93.8h0.9M80.3 66.8h0.9M79.4 46.7h0.9M34.6 103.4h0.9M36.9 98.3h0.9M58.6 33.1h0.9M96.7 101.9h0.9M107.1 51.3h0.9M24.5 119.2h0.9M78.1 92.4h0.9M67.2 76.1h0.9M48.2 79.9h0.9M92.5 55.3h0.9M66.3 50.9h0.9M60.1 66.5h0.9M31.3 54.4h0.9M83.7 85.3h0.9M61.9 77.9h0.9M81.7 60.4h0.9M56.9 69.3h0.9M73.7 93.7h0.9M36.3 73.5h0.9M101.5 62.7h0.9M69.2 46.0h0.9M76.2 71.8h0.9M56.5 94.1h0.9M36.8 84.2h0.9M73.9 72.9h0.9M82.5 40.4h0.9M36.8 82.3h0.9M74.1 85.3h0.9M28.3 50.4h0.9M18.6 69.7h0.9M103.3 37.7h0.9M77.1 64.7h0.9M106.7 46.4h0.9M66.8 67.6h0.9M43.0 69.0h0.9M47.5 95.6h0.9M14.5 93.9h0.9M60.0 114.6h0.9M68.8 94.2h0.9M63.4 80.9h0.9M80.7 37.8h0.9M18.6 91.0h0.9M39.0 98.4h0.9M50.2 111.4h0.9M40.4 25.4h0.9M60.5 70.0h0.9M55.0 77.0h0.9M55.9 75.3h0.9M34.3 65.8h0.9M43.3 77.5h0.9M66.1 108.3h0.9M60.0 71.4h0.9M45.2 93.8h0.9M48.7 70.1h0.9M23.1 82.7h0.9M9.2 81.9h0.9M83.1 40.7h0.9M75.9 67.7h0.9M54.2 99.1h0.9M25.9 93.2h0.9M30.6 70.1h0.9M53.5 52.0h0.9M64.7 95.1h0.9M31.1 75.0h0.9M53.7 88.3h0.9M94.0 32.3h0.9M42.4 72.3h0.9M36.6 68.3h0.9M55.7 68.8h0.9M85.9 87.3h0.9M71.1 91.3h0.9M77.2 54.7h0.9M82.5 31.2h0.9M92.6 58.2h0.9M75.8 42.9h0.9M69.9 71.0h0.9M62.3 62.7h0.9M97.0 21.8h0.9M29.8 40.5h0.9M114.8 32.6h0.9M101.6 60.1h0.9M87.6 20.6h0.9M41.4 94.3h0.9M73.5 76.4h0.9M97.9 54.0h0.9M96.7 60.7h0.9M7.0 128.7h0.9M54.4 40.7h0.9M60.9 52.4h0.9M59.7 75.2h0.9M80.1 89.1h0.9M76.5 104.2h0.9M51.5 78.5h0.9M53.8 69.2h0.9M73.8 57.6h0.9M38.3 64.8h0.9M47.6 62.4h0.9M73.7 83.1h0.9M61.7 41.0h0.9M79.6 51.2h0.9M8.8 66.3h0.9M114.0 54.8h0.9M69.1 65.9h0.9M49.5 78.5h0.9M81.4 64.7h0.9M66.6 76.5h0.9M68.9 98.4h0.9M86.1 91.7h0.9M115.1 64.2h0.9M39.7 96.3h0.9M24.6 100.8h0.9M69.2 78.2h0.9M99.4 43.5h0.9M19.1 93.7h0.9M78.5 77.0h0.9M62.5 62.2h0.9M34.9 84.1h0.9M82.2 54.7h0.9M42.8 116.8h0.9M88.5 58.4h0.9M51.1 64.3h0.9M99.7 101.1h0.9M48.0 62.3h0.9M20.4 76.3h0.9M45.2 76.4h0.9M70.2 74.9h0.9M60.0 64.4h0.9M29.9 72.9h0.9M12.5 79.8h0.9M6.3 100.4h0.9M18.4 103.3h0.9M42.6 82.7h0.9M40.5 82.7h0.9M7.7 81.9h0.9M23.9 77.2h0.9M1.3 83.6h0.9M4.1 84.0h0.9M4.0 99.3h0.9M44.0 89.9h0.9M22.1 81.4h0.9M3.3 101.5h0.9M25.2 74.0h0.9M44.3 89.3h0.9M13.2 104.1h0.9M41.5 91.3h0.9M26.1 74.4h0.9M7.5 102.3h0.9M7.9 71.3h0.9M.6 82.3h0.9M40.0 86.2h0.9M16.6 102.6h0.9M13.1 102.6h0.9M53.3 104.4h0.9M31.9 105.3h0.9M43.9 109.6h0.9M41.4 93.7h0.9M56.4 83.0h0.9M2.3 96.6h0.9M22.0 104.6h0.9M13.9 76.2h0.9M18.4 73.3h0.9M28.3 106.1h0.9M7.1 76.7h0.9M34.8 78.2h0.9M22.5 103.7h0.9M2.6 77.6h0.9M25.2 103.2h0.9M16.4 77.8h0.9M32.8 76.6h0.9M16.8 104.2h0.9M17.8 70.1h0.9M3.7 96.0h0.9M42.5 75.4h0.9M43.1 78.3h0.9M4.8 76.4h0.9M52.4 88.7h0.9M40.6 82.2h0.9M34.3 107.2h0.9M21.4 103.3h0.9M16.8 75.6h0.9M13.3 78.7h0.9M19.5 76.2h0.9M7.2 76.1h0.9M32.3 100.2h0.9M56.4 87.2h0.9M46.4 82.7h0.9M46.1 99.1h0.9M41.2 100.2h0.9M19.5 99.0h0.9M20.9 75.9h0.9M42.8 83.8h0.9M3.2 96.8h0.9M11.7 77.0h0.9M15.0 73.0h0.9M8.6 100.7h0.9M25.9 78.1h0.9M12.1 75.2h0.9M8.4 108.3h0.9M29.8 72.9h0.9M38.7 79.2h0.9M35.1 75.2h0.9M43.4 112.6h0.9M41.1 83.8h0.9M20.2 103.9h0.9M39.5 77.7h0.9M42.1 58.8h0.9M45.5 89.8h0.9M30.5 87.6h0.9M36.2 92.7h0.9M24.5 82.5h0.9M35.3 94.2h0.9M34.1 93.2h0.9M46.0 67.6h0.9M36.9 90.6h0.9M22.4 78.1h0.9M49.0 79.4h0.9M54.2 81.0h0.9M36.5 93.1h0.9M40.0 65.2h0.9M42.1 67.2h0.9M46.1 70.6h0.9M53.5 93.2h0.9M49.6 87.6h0.9M39.3 93.6h0.9M39.8 93.9h0.9M35.3 77.5h0.9M44.3 95.6h0.9M40.1 63.7h0.9M29.2 89.4h0.9M31.2 75.1h0.9M42.4 74.7h0.9M38.6 97.4h0.9M57.1 79.0h0.9M44.5 74.4h0.9M24.7 74.9h0.9M45.8 68.7h0.9M50.0 69.4h0.9M29.7 85.8h0.9M57.5 85.3h0.9M50.7 91.9h0.9M36.4 71.3h0.9M28.0 77.6h0.9M31.8 89.9h0.9M48.6 88.8h0.9M28.4 90.9h0.9M54.3 83.7h0.9M35.9 94.6h0.9M33.4 93.2h0.9M31.2 87.1h0.9M50.7 89.8h0.9M39.5 92.0h0.9M19.2 82.1h0.9M52.2 74.7h0.9M42.2 64.2h0.9M40.1 72.0h0.9M51.5 77.8h0.9M24.0 70.2h0.9M36.2 92.1h0.9M47.6 74.4h0.9M50.2 76.2h0.9M44.0 93.0h0.9M55.5 82.8h0.9M27.3 82.5h0.9M32.3 93.9h0.9M27.7 76.4h0.9M54.3 82.6h0.9M30.2 88.1h0.9M42.2 71.5h0.9M27.4 74.7h0.9M30.7 89.9h0.9M48.2 83.6h0.9M40.9 73.5h0.9M35.1 89.1h0.9M31.9 76.4h0.9M35.2 86.2h0.9M51.2 73.2h0.9M38.4 71.4h0.9M24.1 87.4h0.9M34.1 68.2h0.9M49.1 71.6h0.9M34.2 93.8h0.9M53.1 80.8h0.9M33.8 68.6h0.9M44.2 89.3h0.9M41.1 66.6h0.9M31.2 84.3h0.9M52.9 76.4h0.9M43.4 70.6h0.9M51.5 72.3h0.9M60.1 63.1h0.9M36.8 62.5h0.9M37.8 56.7h0.9M45.8 50.5h0.9M56.6 47.4h0.9M43.0 52.3h0.9M38.6 65.8h0.9M71.4 54.8h0.9M67.3 63.8h0.9M62.5 68.9h0.9M74.1 58.1h0.9M66.0 67.0h0.9M54.6 70.2h0.9M71.6 56.0h0.9M25.5 60.8h0.9M46.5 46.6h0.9M58.3 49.8h0.9M36.6 69.6h0.9M47.5 46.2h0.9M27.4 57.7h0.9M69.4 57.0h0.9M51.1 52.9h0.9M65.5 64.4h0.9M52.4 49.3h0.9M59.1 72.6h0.9M55.0 67.3h0.9M53.4 49.8h0.9M29.9 67.7h0.9M41.1 68.3h0.9M69.6 59.4h0.9M38.1 44.3h0.9M38.9 54.6h0.9M36.5 55.8h0.9M64.1 65.9h0.9M37.8 65.7h0.9M50.5 68.1h0.9M51.7 69.2h0.9M45.1 67.6h0.9M68.7 51.9h0.9M41.5 67.1h0.9M64.9 67.7h0.9M39.2 66.3h0.9M72.2 56.1h0.9M59.6 43.1h0.9M66.8 65.8h0.9M61.6 64.2h0.9M47.8 49.8h0.9M41.8 69.1h0.9M59.2 50.9h0.9M52.2 50.1h0.9M54.5 67.0h0.9M63.2 68.0h0.9M40.8 62.8h0.9M69.3 52.8h0.9M40.9 70.3h0.9M46.7 95.2h0.9M59.3 71.9h0.9M63.5 62.4h0.9M44.1 76.8h0.9M46.2 88.5h0.9M54.8 53.8h0.9M51.8 66.4h0.9M53.5 97.5h0.9M61.4 62.0h0.9M43.8 69.0h0.9M55.1 90.7h0.9M53.7 101.3h0.9M59.8 87.0h0.9M46.1 84.6h0.9M44.2 79.8h0.9M49.5 98.8h0.9M51.4 66.6h0.9M42.9 87.2h0.9M44.9 93.6h0.9M48.4 67.6h0.9M66.5 75.1h0.9M50.3 64.1h0.9M46.1 81.2h0.9M61.9 80.8h0.9M44.2 70.3h0.9M53.6 58.9h0.9M48.4 93.9h0.9M54.0 58.0h0.9M61.9 69.2h0.9M59.4 100.5h0.9M59.9 59.0h0.9M46.0 95.8h0.9M51.2 104.4h0.9M60.2 75.1h0.9M66.2 82.5h0.9M55.9 106.5h0.9M62.0 64.1h0.9M55.0 99.5h0.9M47.0 92.4h0.9M46.5 104.2h0.9M57.7 86.4h0.9M43.5 100.0h0.9M45.3 83.9h0.9M45.9 93.8h0.9M47.8 79.2h0.9M63.0 57.0h0.9M58.1 88.0h0.9M56.9 57.0h0.9M50.3 67.0h0.9M44.0 72.2h0.9M63.0 58.8h0.9M55.8 93.6h0.9M50.9 68.7h0.9M54.1 64.9h0.9M55.9 99.9h0.9M45.5 93.7h0.9M62.0 68.0h0.9M54.2 54.1h0.9M49.7 98.4h0.9M51.1 108.8h0.9M58.2 64.7h0.9M41.1 73.0h0.9M58.9 87.8h0.9M67.3 78.1h0.9M47.3 78.3h0.9M52.7 60.0h0.9M62.4 65.1h0.9M45.1 90.6h0.9M54.1 60.5h0.9M62.6 60.0h0.9M44.8 91.9h0.9M62.3 64.0h0.9M47.3 74.5h0.9M47.3 105.6h0.9M57.4 84.3h0.9M40.1 95.1h0.9M56.1 60.8h0.9M44.7 103.4h0.9M48.8 71.7h0.9M52.2 96.4h0.9M49.0 65.4h0.9M66.2 75.0h0.9M43.0 66.7h0.9M43.7 73.3h0.9M44.9 98.0h0.9M50.6 59.6h0.9M62.6 62.7h0.9M47.6 98.3h0.9M50.6 109.1h0.9M50.9 102.0h0.9M62.9 77.2h0.9M48.2 73.0h0.9M59.9 84.6h0.9M64.6 68.7h0.9M42.5 91.7h0.9M64.9 75.6h0.9M49.8 64.6h0.9M50.1 68.4h0.9M53.8 97.7h0.9M52.4 102.9h0.9M49.1 62.4h0.9M42.5 118.6h0.9M47.0 104.9h0.9M55.8 93.7h0.9M49.5 60.9h0.9M42.5 95.9h0.9M57.1 61.5h0.9M44.1 97.3h0.9M66.1 51.0h0.9M47.7 79.6h0.9M59.6 91.3h0.9M46.3 63.8h0.9M61.4 87.0h0.9M42.9 91.3h0.9M45.5 96.8h0.9M44.8 82.2h0.9M58.6 59.6h0.9M59.7 65.0h0.9M53.7 57.6h0.9M53.5 60.2h0.9M58.1 88.0h0.9M46.0 89.8h0.9M60.3 60.2h0.9M47.3 67.1h0.9M46.5 76.6h0.9M54.6 98.6h0.9M64.1 72.0h0.9M46.9 67.2h0.9M45.1 81.7h0.9M52.1 99.7h0.9M39.7 87.4h0.9M61.4 77.3h0.9M62.2 66.3h0.9M74.2 49.0h0.9M84.3 39.0h0.9M79.0 56.8h0.9M80.2 60.5h0.9M72.5 62.0h0.9M58.2 58.4h0.9M81.4 47.7h0.9M61.3 65.9h0.9M70.8 69.8h0.9M72.8 61.5h0.9M80.6 35.7h0.9M62.6 45.4h0.9M71.4 50.4h0.9M67.9 62.5h0.9M77.5 62.3h0.9M76.9 39.0h0.9M79.6 58.2h0.9M75.1 47.4h0.9M56.0 55.9h0.9M61.5 52.1h0.9M57.0 51.0h0.9M58.5 73.5h0.9M68.6 48.5h0.9M57.0 61.0h0.9M54.9 63.0h0.9M75.5 59.2h0.9M73.3 50.2h0.9M63.4 67.9h0.9M74.5 54.1h0.9M72.5 47.1h0.9M81.4 65.2h0.9M52.8 56.0h0.9M76.5 42.2h0.9M81.8 54.0h0.9M62.7 70.7h0.9M74.8 66.2h0.9M80.6 40.8h0.9M57.8 62.5h0.9M63.8 69.7h0.9M51.2 71.8h0.9M53.6 61.5h0.9M79.1 54.3h0.9M65.7 48.3h0.9M71.1 40.5h0.9M88.1 41.3h0.9M63.0 44.2h0.9M57.1 66.1h0.9M63.3 68.9h0.9M46.0 66.2h0.9M56.5 64.8h0.9M57.1 75.9h0.9M53.6 64.3h0.9M76.7 57.4h0.9M51.4 54.6h0.9M74.8 47.4h0.9M67.7 51.8h0.9M79.7 46.0h0.9M74.8 70.7h0.9M53.3 56.4h0.9M70.3 64.8h0.9M58.9 47.7h0.9M74.4 33.5h0.9M57.8 52.2h0.9M58.9 68.8h0.9M79.1 57.2h0.9M62.6 68.5h0.9M75.8 62.4h0.9M79.1 42.8h0.9M83.0 52.2h0.9M64.6 51.0h0.9M52.8 62.4h0.9M81.0 60.1h0.9M60.9 48.1h0.9M55.9 69.0h0.9M57.2 55.6h0.9M68.0 65.6h0.9M59.0 48.2h0.9M78.6 48.4h0.9M52.3 63.0h0.9M78.5 56.3h0.9M79.8 58.8h0.9M78.9 60.5h0.9M70.1 66.9h0.9M79.5 50.7h0.9M71.7 44.9h0.9M84.5 57.5h0.9M73.0 45.7h0.9M64.8 69.5h0.9M51.0 54.1h0.9M76.0 55.9h0.9M68.6 46.7h0.9M65.5 47.9h0.9M71.1 41.8h0.9M62.7 54.2h0.9M62.5 76.3h0.9M74.0 60.1h0.9M68.6 65.5h0.9M70.9 63.6h0.9M54.2 54.6h0.9M51.4 62.8h0.9M75.8 60.3h0.9M50.2 63.4h0.9M76.4 43.4h0.9M83.8 48.3h0.9M52.3 63.0h0.9M85.9 39.1h0.9M58.4 81.0h0.9M61.8 71.7h0.9M54.0 62.4h0.9M69.6 65.2h0.9M78.9 69.7h0.9M59.2 66.1h0.9" stroke="#ADA9B1"/><path d="M19.5 85.5h0.9M21.5 91.7h0.9M17.2 87.3h0.9M12.8 83.7h0.9M38.0 89.6h0.9M17.7 86.2h0.9M5.9 81.6h0.9M15.0 91.4h0.9M35.5 85.3h0.9M27.0 89.9h0.9M28.2 94.6h0.9M29.0 79.3h0.9M18.9 92.2h0.9M19.4 98.8h0.9M26.0 90.7h0.9M16.4 97.2h0.9M17.5 94.2h0.9M21.3 83.4h0.9M11.7 88.3h0.9M26.3 87.1h0.9M11.4 86.0h0.9M13.9 87.1h0.9M23.8 85.2h0.9M10.5 79.9h0.9M19.6 89.5h0.9M10.1 95.1h0.9M29.5 92.3h0.9M26.5 86.7h0.9M14.4 83.7h0.9M4.5 91.0h0.9M27.7 87.5h0.9M26.1 84.5h0.9M23.8 96.1h0.9M16.3 89.7h0.9M30.6 89.0h0.9M19.8 86.5h0.9M28.4 97.7h0.9M7.3 90.0h0.9M22.8 87.7h0.9M22.2 96.9h0.9M13.4 90.9h0.9M32.7 78.9h0.9M14.0 98.3h0.9M11.3 87.4h0.9M17.6 94.7h0.9M34.7 87.6h0.9M2.8 93.1h0.9M19.4 96.7h0.9M22.5 82.3h0.9M37.6 87.6h0.9M4.8 89.4h0.9M16.4 88.0h0.9M20.6 97.1h0.9M7.1 93.9h0.9M27.6 87.4h0.9M26.0 94.0h0.9M31.8 94.4h0.9M14.7 88.5h0.9M26.9 98.9h0.9M14.4 84.6h0.9M37.2 94.4h0.9M23.5 89.3h0.9M21.5 91.4h0.9M13.5 82.5h0.9M3.7 88.6h0.9M16.7 89.8h0.9M24.0 94.4h0.9M9.9 96.8h0.9M25.4 93.7h0.9M11.9 86.9h0.9M18.5 92.3h0.9M5.5 94.8h0.9M17.3 83.5h0.9M17.9 87.5h0.9M24.0 87.3h0.9M1.1 88.0h0.9M26.0 95.4h0.9M17.8 101.0h0.9M22.1 85.7h0.9M23.5 82.4h0.9M23.5 95.1h0.9M24.8 95.4h0.9M24.0 91.2h0.9M9.7 99.7h0.9M32.7 93.3h0.9M11.0 84.2h0.9M24.7 83.9h0.9M19.2 85.9h0.9M25.0 97.3h0.9M25.9 95.2h0.9M36.8 79.6h0.9M22.7 93.0h0.9M30.1 80.1h0.9M20.4 86.3h0.9M17.5 85.9h0.9M38.8 92.6h0.9M27.4 88.7h0.9M5.6 88.8h0.9M1.4 85.3h0.9M13.6 92.4h0.9M6.3 86.4h0.9M34.6 97.1h0.9M30.0 92.1h0.9M27.6 92.7h0.9M21.1 96.3h0.9M33.5 86.5h0.9M15.6 89.8h0.9M30.7 88.6h0.9M38.2 93.3h0.9M22.4 95.3h0.9M5.5 91.9h0.9M23.6 81.4h0.9M21.0 97.1h0.9M10.9 93.1h0.9M4.1 87.6h0.9M19.6 81.8h0.9M9.7 88.7h0.9M17.1 88.4h0.9M24.7 90.8h0.9M22.0 85.2h0.9M4.7 85.7h0.9M14.8 98.0h0.9M32.5 84.3h0.9M19.3 87.1h0.9M14.8 90.1h0.9M14.3 85.7h0.9M4.5 89.5h0.9M28.6 86.4h0.9M12.7 89.8h0.9M22.4 91.8h0.9M19.0 85.1h0.9M9.7 81.4h0.9M5.7 85.5h0.9M22.3 97.2h0.9M16.9 94.6h0.9M29.1 96.7h0.9M23.6 79.3h0.9M13.9 89.3h0.9M25.5 83.5h0.9M24.1 81.0h0.9M21.6 86.1h0.9M33.2 95.2h0.9M18.5 94.5h0.9M25.6 78.0h0.9M3.2 82.6h0.9M19.5 92.7h0.9M17.8 81.1h0.9M21.9 80.2h0.9M30.2 89.7h0.9M13.6 85.0h0.9M9.9 81.7h0.9M33.0 97.6h0.9M20.4 83.0h0.9M6.7 89.5h0.9M12.6 85.2h0.9M22.3 98.7h0.9M30.6 95.0h0.9M12.6 85.6h0.9M17.7 88.7h0.9M35.0 95.3h0.9M25.7 98.7h0.9M20.4 92.4h0.9M21.3 94.3h0.9M29.7 93.8h0.9M11.2 89.1h0.9M16.7 91.9h0.9M14.4 90.1h0.9M30.3 86.8h0.9M14.9 88.9h0.9M18.2 91.6h0.9M24.0 94.0h0.9M14.6 92.5h0.9M14.4 88.0h0.9M22.3 86.6h0.9M22.0 83.1h0.9M26.1 90.7h0.9M19.1 88.5h0.9M22.4 87.3h0.9M20.5 89.0h0.9M13.2 93.6h0.9M27.7 96.6h0.9M19.2 88.3h0.9M33.6 90.6h0.9M13.8 84.9h0.9M9.4 86.7h0.9M19.4 77.3h0.9M35.2 84.7h0.9M28.7 92.0h0.9M4.0 84.1h0.9M19.7 95.0h0.9M26.0 93.4h0.9M7.9 82.2h0.9M15.2 89.6h0.9M26.1 88.0h0.9M12.4 81.7h0.9M12.5 82.7h0.9M17.4 97.0h0.9M18.4 96.2h0.9M12.3 86.1h0.9M9.1 96.3h0.9M13.8 89.7h0.9M15.9 88.6h0.9M23.5 94.6h0.9M21.5 84.8h0.9M16.0 85.4h0.9M10.8 91.0h0.9M22.8 91.4h0.9M22.3 87.0h0.9M21.0 97.4h0.9M7.7 90.6h0.9M25.0 94.8h0.9M10.3 88.5h0.9M35.8 88.9h0.9M37.2 92.9h0.9M13.0 93.7h0.9M19.9 93.3h0.9M10.1 94.0h0.9M12.6 80.2h0.9M20.5 76.5h0.9M6.6 96.5h0.9M28.5 85.5h0.9M9.4 95.1h0.9M38.4 91.5h0.9M21.9 96.2h0.9M35.6 95.0h0.9M31.4 88.4h0.9M31.6 96.9h0.9M20.7 84.0h0.9M34.8 83.4h0.9M13.5 89.2h0.9M21.6 86.2h0.9M13.0 92.3h0.9M20.7 98.6h0.9M15.8 86.2h0.9M8.1 87.9h0.9M7.9 84.0h0.9M36.3 94.8h0.9M14.0 87.6h0.9M15.4 83.7h0.9M14.1 90.7h0.9M24.6 86.5h0.9M17.3 85.2h0.9M14.8 88.6h0.9M26.1 98.6h0.9M29.9 81.9h0.9M11.0 79.4h0.9M21.5 87.4h0.9M7.1 91.4h0.9M12.7 88.7h0.9M22.5 94.6h0.9M11.8 85.3h0.9M24.1 90.5h0.9M23.5 82.9h0.9M17.2 97.4h0.9M12.8 87.0h0.9M7.9 90.9h0.9M9.3 86.8h0.9M6.4 85.9h0.9M14.8 98.4h0.9M7.4 84.3h0.9M24.5 87.7h0.9M17.1 97.9h0.9M19.8 87.2h0.9M15.3 87.3h0.9M15.0 83.7h0.9M15.3 92.0h0.9M13.6 82.9h0.9M27.5 92.6h0.9M29.8 93.2h0.9M23.4 85.1h0.9M19.1 87.1h0.9M24.9 89.7h0.9M35.3 87.2h0.9M13.4 84.2h0.9M6.9 83.6h0.9M19.1 98.6h0.9M11.6 90.2h0.9M11.0 90.1h0.9M18.7 83.9h0.9M18.4 91.8h0.9M18.1 91.8h0.9M25.1 83.8h0.9M45.3 79.5h0.9M35.4 86.4h0.9M39.0 89.3h0.9M46.3 83.3h0.9M41.9 82.6h0.9M47.0 79.8h0.9M34.5 85.6h0.9M40.6 86.5h0.9M31.7 83.7h0.9M35.5 80.7h0.9M37.2 80.1h0.9M40.9 79.0h0.9M46.1 88.1h0.9M45.7 88.7h0.9M41.1 80.9h0.9M44.3 82.9h0.9M33.7 87.0h0.9M42.5 81.0h0.9M40.2 80.5h0.9M40.7 84.2h0.9M49.6 74.0h0.9M41.9 86.8h0.9M44.5 85.2h0.9M45.2 75.2h0.9M38.0 79.0h0.9M48.1 84.5h0.9M35.4 86.9h0.9M44.7 79.1h0.9M37.2 84.9h0.9M45.4 74.9h0.9M36.8 92.3h0.9M33.1 76.6h0.9M48.4 80.8h0.9M40.6 83.5h0.9M37.0 80.8h0.9M28.6 82.4h0.9M36.1 86.3h0.9M46.1 78.9h0.9M37.1 83.7h0.9M34.1 84.2h0.9M46.8 88.0h0.9M36.9 87.0h0.9M36.5 75.9h0.9M38.3 77.8h0.9M37.8 78.3h0.9M36.3 85.0h0.9M41.4 74.7h0.9M48.3 73.8h0.9M45.4 81.2h0.9M33.1 75.3h0.9M45.9 88.7h0.9M44.0 85.7h0.9M39.3 85.3h0.9M34.1 82.2h0.9M41.6 75.1h0.9M32.9 84.3h0.9M41.4 71.9h0.9M40.3 84.4h0.9M39.3 79.5h0.9M38.4 76.9h0.9M38.0 80.4h0.9M35.9 82.0h0.9M43.7 87.0h0.9M34.7 84.2h0.9M36.8 81.5h0.9M42.6 79.5h0.9M37.2 81.3h0.9M39.0 90.0h0.9M43.3 89.3h0.9M32.7 77.8h0.9M48.1 78.7h0.9M35.0 72.0h0.9M39.3 82.2h0.9M41.7 84.3h0.9M32.0 84.6h0.9M42.7 85.3h0.9M40.0 91.1h0.9M45.6 80.7h0.9M41.5 86.4h0.9M41.9 90.1h0.9M41.7 83.8h0.9M37.9 82.1h0.9M43.3 82.8h0.9M49.2 83.9h0.9M41.4 82.6h0.9M42.9 70.6h0.9M44.3 89.7h0.9M42.9 84.9h0.9M37.9 87.0h0.9M44.2 61.7h0.9M63.5 49.5h0.9M57.6 52.4h0.9M43.7 61.7h0.9M57.2 53.7h0.9M50.3 52.9h0.9M67.0 51.8h0.9M57.4 58.5h0.9M43.7 57.7h0.9M44.1 60.4h0.9M42.8 62.2h0.9M50.8 55.5h0.9M41.4 59.4h0.9M60.4 57.9h0.9M46.8 53.6h0.9M48.3 56.3h0.9M50.4 50.8h0.9M59.3 51.7h0.9M61.1 58.4h0.9M58.7 59.8h0.9M44.1 54.0h0.9M45.7 62.6h0.9M51.3 50.3h0.9M44.7 57.7h0.9M63.2 51.6h0.9M54.9 67.0h0.9M52.6 64.2h0.9M55.7 57.2h0.9M61.0 58.6h0.9M40.8 60.3h0.9M39.6 63.5h0.9M52.7 60.7h0.9M40.2 60.0h0.9M43.1 66.6h0.9M64.0 61.6h0.9M64.9 60.1h0.9M51.3 61.2h0.9M53.8 51.5h0.9M47.4 53.1h0.9M45.7 61.7h0.9M47.9 60.5h0.9M56.8 47.0h0.9M62.0 61.9h0.9M54.5 52.9h0.9M62.8 62.6h0.9M48.4 57.8h0.9M52.6 65.3h0.9M57.1 50.8h0.9M56.0 64.3h0.9M51.7 66.1h0.9M49.8 51.5h0.9M52.9 50.6h0.9M40.6 61.4h0.9M57.6 63.4h0.9M52.5 61.6h0.9M65.6 60.8h0.9M50.0 55.4h0.9M65.4 58.3h0.9M59.6 59.0h0.9M51.2 62.5h0.9M62.2 58.3h0.9M54.6 56.2h0.9M42.5 62.7h0.9M44.5 55.6h0.9M56.8 63.8h0.9M50.8 60.9h0.9M56.3 51.5h0.9M47.7 51.6h0.9M58.2 61.6h0.9M57.1 54.4h0.9M61.2 53.0h0.9M43.4 63.5h0.9M57.2 62.5h0.9M49.7 64.4h0.9M55.0 52.4h0.9M48.1 67.4h0.9M59.7 56.0h0.9M55.6 57.6h0.9M56.6 58.1h0.9M55.9 52.6h0.9M64.9 51.0h0.9M44.3 64.2h0.9M47.0 60.7h0.9M52.5 52.0h0.9M62.5 54.5h0.9M57.7 64.5h0.9M60.3 77.7h0.9M50.5 96.9h0.9M56.6 89.6h0.9M56.5 65.3h0.9M57.1 84.4h0.9M63.9 58.3h0.9M46.4 80.5h0.9M56.8 84.3h0.9M54.4 96.3h0.9M60.4 77.7h0.9M47.8 86.6h0.9M50.1 98.7h0.9M44.9 82.8h0.9M48.3 72.9h0.9M55.8 72.9h0.9M48.1 79.0h0.9M60.3 63.4h0.9M45.2 74.3h0.9M50.6 90.4h0.9M60.3 73.0h0.9M54.6 94.8h0.9M50.7 91.9h0.9M52.8 83.9h0.9M62.7 69.0h0.9M57.5 84.6h0.9M48.9 87.0h0.9M62.7 69.8h0.9M52.6 65.6h0.9M49.8 79.3h0.9M41.9 89.0h0.9M52.9 89.1h0.9M52.2 85.1h0.9M51.4 68.6h0.9M58.6 64.4h0.9M55.1 70.9h0.9M45.6 75.3h0.9M48.8 94.9h0.9M58.9 72.3h0.9M54.7 93.9h0.9M53.7 69.2h0.9M51.5 79.4h0.9M52.7 92.7h0.9M49.1 79.2h0.9M58.2 70.4h0.9M51.5 98.9h0.9M53.9 90.2h0.9M46.5 77.7h0.9M53.9 82.8h0.9M48.3 89.4h0.9M55.7 79.0h0.9M48.4 78.5h0.9M53.2 93.0h0.9M47.5 77.1h0.9M54.8 92.4h0.9M48.5 88.6h0.9M56.2 70.2h0.9M52.5 79.4h0.9M45.1 79.7h0.9M43.8 86.5h0.9M54.2 63.9h0.9M51.3 90.6h0.9M52.5 90.2h0.9M60.0 66.6h0.9M48.2 67.6h0.9M59.1 63.0h0.9M52.5 81.6h0.9M52.3 59.9h0.9M58.1 73.8h0.9M45.9 88.6h0.9M45.6 82.9h0.9M55.5 63.8h0.9M54.8 84.3h0.9M58.3 70.7h0.9M52.2 93.9h0.9M56.4 87.3h0.9M43.4 89.4h0.9M45.7 82.7h0.9M52.6 72.9h0.9M61.4 71.1h0.9M58.4 85.2h0.9M46.7 93.3h0.9M54.6 87.3h0.9M49.6 84.7h0.9M57.3 82.9h0.9M49.1 91.9h0.9M51.8 88.1h0.9M55.1 87.8h0.9M57.9 90.7h0.9M58.0 66.3h0.9M51.6 83.0h0.9M59.5 56.4h0.9M56.9 90.4h0.9M61.6 69.5h0.9M48.1 78.8h0.9M48.2 76.3h0.9M61.2 86.3h0.9M59.0 86.3h0.9M54.8 62.2h0.9M51.3 83.8h0.9M54.7 87.4h0.9M51.3 95.7h0.9M57.4 96.2h0.9M50.3 73.8h0.9M51.7 97.4h0.9M46.7 78.9h0.9M49.2 87.2h0.9M59.3 58.3h0.9M52.2 75.5h0.9M52.6 75.4h0.9M57.2 72.9h0.9M51.9 93.1h0.9M52.5 69.5h0.9M56.4 58.2h0.9M50.3 97.5h0.9M54.5 84.7h0.9M52.1 85.3h0.9M50.1 71.3h0.9M48.7 73.3h0.9M59.5 75.4h0.9M61.5 59.7h0.9M56.0 79.2h0.9M55.6 84.8h0.9M55.2 84.3h0.9M48.0 85.0h0.9M48.5 72.1h0.9M55.6 86.1h0.9M54.5 72.0h0.9M48.0 74.7h0.9M58.6 83.2h0.9M62.0 59.6h0.9M59.3 75.7h0.9M60.0 61.9h0.9M52.2 78.6h0.9M55.7 76.0h0.9M50.4 91.0h0.9M54.0 91.2h0.9M57.5 69.4h0.9M48.3 81.8h0.9M60.9 65.3h0.9M56.3 73.4h0.9M58.3 76.7h0.9M54.1 82.2h0.9M58.8 69.9h0.9M58.5 81.6h0.9M60.6 77.5h0.9M48.8 81.1h0.9M51.8 89.6h0.9M53.7 96.4h0.9M59.1 68.4h0.9M48.1 101.5h0.9M57.1 75.6h0.9M47.0 98.4h0.9M59.6 59.4h0.9M58.4 65.6h0.9M51.8 91.5h0.9M51.5 62.8h0.9M53.3 86.8h0.9M49.4 93.1h0.9M50.5 64.4h0.9M57.6 78.4h0.9M46.1 83.5h0.9M53.6 68.9h0.9M57.0 74.2h0.9M59.4 72.0h0.9M48.3 79.5h0.9M46.6 83.9h0.9M55.9 76.0h0.9M58.5 74.5h0.9M47.6 84.9h0.9M57.4 57.8h0.9M55.8 59.0h0.9M59.0 65.5h0.9M48.1 77.6h0.9M50.0 80.9h0.9M53.3 95.8h0.9M48.7 91.9h0.9M52.3 70.7h0.9M53.4 97.2h0.9M55.6 65.4h0.9M62.7 57.1h0.9M61.0 80.7h0.9M57.3 75.6h0.9M56.8 70.1h0.9M62.4 62.1h0.9M47.8 77.8h0.9M54.6 63.2h0.9M56.5 69.4h0.9M58.6 84.1h0.9M62.6 72.9h0.9M57.8 72.6h0.9M52.1 74.4h0.9M54.7 81.6h0.9M51.3 71.2h0.9M45.2 78.8h0.9M46.6 85.0h0.9M52.0 89.1h0.9M46.0 74.3h0.9M52.3 65.0h0.9M50.6 78.9h0.9M52.5 88.5h0.9M55.2 79.2h0.9M52.3 88.4h0.9M52.7 73.0h0.9M59.1 65.6h0.9M57.3 54.0h0.9M46.5 86.1h0.9M68.1 62.7h0.9M70.2 52.6h0.9M71.0 56.4h0.9M65.4 62.0h0.9M67.5 63.3h0.9M56.2 61.8h0.9M66.1 64.5h0.9M66.8 62.5h0.9M66.0 57.2h0.9M60.2 59.7h0.9M59.1 59.8h0.9M74.1 61.3h0.9M56.2 67.2h0.9M65.2 65.2h0.9M72.2 60.1h0.9M66.2 50.6h0.9M63.8 62.0h0.9M64.2 62.5h0.9M75.0 57.2h0.9M71.5 65.4h0.9M63.2 52.1h0.9M61.5 56.9h0.9M61.1 61.9h0.9M70.6 52.7h0.9M72.9 54.2h0.9M70.1 53.7h0.9M56.8 59.3h0.9M69.4 54.0h0.9M68.0 61.6h0.9M69.9 62.6h0.9M73.7 56.0h0.9M70.7 52.3h0.9M74.8 61.8h0.9M77.0 53.6h0.9M64.7 64.3h0.9M70.2 60.7h0.9M62.6 59.1h0.9M70.4 54.1h0.9M65.8 55.4h0.9M68.4 57.2h0.9M58.3 56.0h0.9M63.4 59.1h0.9M67.6 59.9h0.9M68.4 54.5h0.9M73.9 56.5h0.9M70.7 51.8h0.9M69.0 59.2h0.9M63.3 54.5h0.9M71.4 56.8h0.9M63.1 63.8h0.9M66.4 55.1h0.9M68.9 55.3h0.9M67.7 65.3h0.9M67.1 66.6h0.9M72.2 56.1h0.9M70.8 48.8h0.9M78.8 48.6h0.9M59.8 59.1h0.9M63.4 59.0h0.9M75.7 58.8h0.9M67.6 51.3h0.9M72.7 50.7h0.9M64.6 63.2h0.9M70.9 47.4h0.9M67.0 51.8h0.9M66.4 56.2h0.9M70.5 46.3h0.9M69.9 53.9h0.9M70.5 62.2h0.9M64.4 54.0h0.9M67.0 55.8h0.9M62.1 54.4h0.9M65.0 58.9h0.9M59.8 55.8h0.9M59.0 66.0h0.9M77.6 57.2h0.9M66.8 63.9h0.9M71.8 57.2h0.9M73.4 64.8h0.9M64.5 57.3h0.9M62.4 61.6h0.9" stroke="#B283B6"/><path d="M2.6 94.6h0.9M32.6 98.5h0.9M24.6 101.3h0.9M9.4 96.0h0.9M34.1 83.5h0.9M10.8 79.4h0.9M32.0 81.3h0.9M17.2 100.1h0.9M6.0 93.0h0.9M8.0 76.0h0.9M6.0 91.3h0.9M35.6 95.0h0.9M27.7 77.1h0.9M15.1 81.5h0.9M25.9 80.3h0.9M7.5 79.3h0.9M37.4 90.2h0.9M36.3 87.3h0.9M37.2 99.8h0.9M16.6 99.8h0.9M3.0 90.7h0.9M3.6 97.1h0.9M10.1 80.9h0.9M33.4 80.9h0.9M3.6 89.3h0.9M1.1 96.2h0.9M9.9 78.4h0.9M32.8 93.8h0.9M21.0 75.5h0.9M37.8 94.0h0.9M3.8 95.2h0.9M11.5 97.1h0.9M34.7 100.0h0.9M2.6 86.5h0.9M11.0 97.8h0.9M28.7 82.8h0.9M8.3 94.6h0.9M16.3 98.9h0.9M23.4 76.6h0.9M35.1 85.4h0.9M10.7 94.8h0.9M21.2 103.4h0.9M33.7 97.0h0.9M4.6 97.0h0.9M13.2 98.9h0.9M20.9 100.9h0.9M56.7 59.1h0.9M52.9 60.9h0.9M59.6 57.0h0.9M51.0 55.8h0.9M45.8 61.3h0.9M49.3 55.4h0.9M52.1 61.1h0.9M51.3 61.9h0.9M48.2 64.4h0.9M47.1 59.6h0.9M56.0 59.2h0.9M51.3 63.5h0.9M57.1 54.0h0.9M44.0 64.8h0.9M48.8 63.6h0.9M60.7 59.2h0.9M55.6 66.0h0.9M58.9 61.8h0.9M50.9 56.3h0.9M54.1 55.5h0.9M53.2 54.4h0.9M53.2 59.4h0.9M51.1 67.0h0.9M51.2 57.7h0.9M62.6 53.4h0.9M51.0 56.8h0.9M46.6 61.0h0.9M56.5 59.3h0.9M61.4 58.3h0.9M48.3 57.8h0.9M50.3 62.8h0.9M49.3 58.1h0.9M51.0 63.1h0.9M51.3 65.2h0.9M54.3 64.5h0.9M62.9 58.9h0.9M51.1 64.6h0.9M55.9 54.8h0.9M54.0 57.9h0.9M45.8 65.2h0.9M50.6 56.3h0.9M40.9 58.2h0.9M55.4 57.4h0.9M48.6 54.6h0.9M44.2 58.8h0.9M47.2 61.6h0.9M52.9 57.7h0.9M55.8 59.0h0.9M53.8 62.7h0.9M53.9 56.0h0.9M43.3 64.9h0.9M54.9 58.1h0.9M47.7 59.2h0.9M47.1 63.0h0.9M51.1 54.0h0.9M50.4 63.0h0.9M51.7 57.1h0.9M52.2 51.8h0.9M53.5 61.6h0.9M50.9 55.9h0.9M49.2 62.5h0.9M50.2 64.0h0.9M56.4 59.5h0.9M44.2 58.9h0.9M63.5 55.4h0.9M53.8 61.7h0.9M54.2 55.1h0.9M51.0 53.4h0.9M42.8 60.8h0.9M61.0 61.7h0.9M52.1 58.6h0.9M49.4 59.5h0.9M56.8 55.1h0.9M53.5 60.1h0.9M55.8 58.7h0.9M54.9 62.5h0.9M52.4 56.5h0.9M62.6 64.6h0.9M55.3 74.0h0.9M52.4 86.4h0.9M55.0 64.3h0.9M50.1 70.1h0.9M53.4 91.5h0.9M61.8 67.3h0.9M50.7 77.7h0.9M49.0 88.7h0.9M57.4 86.5h0.9M52.4 91.0h0.9M56.5 68.8h0.9M56.5 61.0h0.9M56.1 80.4h0.9M50.2 73.4h0.9M48.8 72.7h0.9M56.1 68.5h0.9M48.1 76.1h0.9M54.6 92.0h0.9M54.5 63.9h0.9M58.0 68.5h0.9M58.8 71.9h0.9M49.2 82.9h0.9M51.9 68.9h0.9M52.1 82.8h0.9M55.9 68.7h0.9M51.9 77.9h0.9M52.6 96.9h0.9M54.7 64.3h0.9M45.3 90.0h0.9M51.0 71.8h0.9M47.7 90.5h0.9M49.4 87.2h0.9M47.6 74.5h0.9M58.4 78.4h0.9M49.5 81.0h0.9M49.8 88.0h0.9M56.0 70.3h0.9M53.9 87.5h0.9M51.4 83.5h0.9M52.4 84.6h0.9M57.9 79.0h0.9M57.3 74.1h0.9M57.2 76.6h0.9M53.3 94.8h0.9M51.3 74.2h0.9M50.7 67.5h0.9M55.2 73.2h0.9M55.9 91.5h0.9M57.2 78.5h0.9M53.9 69.1h0.9M51.9 69.3h0.9M56.6 67.2h0.9M56.4 84.5h0.9M57.2 71.5h0.9M59.9 68.7h0.9M49.3 96.3h0.9M55.0 90.0h0.9M54.2 69.0h0.9M50.2 74.7h0.9M56.4 81.9h0.9M50.0 89.5h0.9M49.0 79.6h0.9M48.6 78.2h0.9M56.8 75.6h0.9M54.3 87.2h0.9M54.1 85.0h0.9M51.9 87.2h0.9M59.2 78.5h0.9M49.1 82.4h0.9M54.7 69.0h0.9M54.6 90.7h0.9M56.5 73.5h0.9M50.7 79.0h0.9M53.7 72.2h0.9M52.7 74.3h0.9M52.6 95.9h0.9M55.8 86.5h0.9M58.4 70.7h0.9M54.8 85.2h0.9M55.2 87.7h0.9M51.6 66.2h0.9M53.3 88.7h0.9M51.1 88.9h0.9M51.4 92.7h0.9M59.2 76.3h0.9M56.9 79.9h0.9M48.8 81.0h0.9M49.2 79.6h0.9M55.3 71.0h0.9M49.9 85.1h0.9M48.6 85.0h0.9M56.5 67.6h0.9M58.0 65.3h0.9M59.0 69.2h0.9M47.4 74.8h0.9M50.0 77.5h0.9M54.2 96.0h0.9M54.5 68.6h0.9M49.9 85.3h0.9M54.8 85.8h0.9M49.9 91.0h0.9M61.1 70.4h0.9M51.2 78.1h0.9M59.5 74.4h0.9M53.0 70.8h0.9M61.9 69.7h0.9M57.5 84.9h0.9M48.7 86.1h0.9M50.5 95.4h0.9M59.2 77.8h0.9M53.5 81.4h0.9M57.4 88.8h0.9M52.2 69.1h0.9M49.2 104.2h0.9M61.8 64.7h0.9M57.7 67.1h0.9M53.9 88.9h0.9M55.2 82.1h0.9M50.8 85.2h0.9M52.8 93.8h0.9M57.2 71.9h0.9M58.4 81.7h0.9M49.3 76.2h0.9M56.8 78.6h0.9M53.4 88.2h0.9M48.1 91.8h0.9M52.2 70.7h0.9M57.8 84.2h0.9M50.9 100.3h0.9M58.7 67.4h0.9M53.5 71.2h0.9M51.2 82.8h0.9M59.2 67.6h0.9M54.7 66.3h0.9M50.4 76.5h0.9M50.7 73.0h0.9M48.4 86.1h0.9M55.1 70.9h0.9M46.1 92.1h0.9M53.2 70.5h0.9M56.1 84.5h0.9M57.0 67.4h0.9M57.0 71.7h0.9M53.8 77.0h0.9M58.5 78.5h0.9M53.9 87.3h0.9M48.5 67.7h0.9M58.5 80.8h0.9M53.7 70.1h0.9M55.6 88.9h0.9M50.2 78.2h0.9M50.2 76.7h0.9M50.0 84.6h0.9M49.5 90.2h0.9M51.5 86.1h0.9M52.0 69.6h0.9M58.8 85.6h0.9M58.1 65.4h0.9M56.9 70.3h0.9M48.4 76.5h0.9M54.4 69.8h0.9M46.3 90.6h0.9M54.6 74.2h0.9M53.2 90.4h0.9M46.9 87.9h0.9M58.3 77.9h0.9M52.7 68.3h0.9M48.3 92.6h0.9M53.0 69.9h0.9M54.3 72.3h0.9M44.7 89.4h0.9M54.5 64.8h0.9M50.0 77.0h0.9M45.5 83.7h0.9M52.5 94.3h0.9M51.8 71.3h0.9M60.0 70.3h0.9M55.5 79.2h0.9M53.4 70.2h0.9M51.2 69.1h0.9M58.1 69.1h0.9M56.3 68.7h0.9M60.9 67.5h0.9M51.1 80.3h0.9M56.2 66.7h0.9M60.4 84.8h0.9M49.4 74.6h0.9M47.6 86.7h0.9M58.2 75.5h0.9M52.7 91.0h0.9M49.0 77.4h0.9M55.9 72.7h0.9M58.4 78.3h0.9M46.3 93.5h0.9M54.5 89.8h0.9M54.2 83.9h0.9M47.3 95.3h0.9M46.0 86.4h0.9M49.0 74.2h0.9M58.6 76.8h0.9M51.9 68.6h0.9M58.6 69.1h0.9M56.3 58.4h0.9M55.6 68.1h0.9M50.2 79.7h0.9M56.9 86.2h0.9M47.7 93.1h0.9M55.3 94.7h0.9M59.0 78.1h0.9M48.3 79.2h0.9M51.4 80.6h0.9M59.1 79.1h0.9M56.3 84.2h0.9M56.3 66.3h0.9M55.7 68.1h0.9M57.3 90.8h0.9M57.5 77.4h0.9M52.3 87.7h0.9M59.0 76.1h0.9M55.7 84.4h0.9M53.7 70.9h0.9M57.4 73.4h0.9M50.6 76.0h0.9M56.5 81.8h0.9M57.6 66.2h0.9M58.2 79.7h0.9M50.1 81.5h0.9M48.6 92.1h0.9M46.5 78.2h0.9M54.1 87.5h0.9M50.0 89.3h0.9M55.4 61.8h0.9M53.2 88.2h0.9M60.2 76.3h0.9M58.3 86.0h0.9M52.7 63.6h0.9M45.7 88.8h0.9M58.7 66.1h0.9M46.9 90.7h0.9M49.6 89.6h0.9M49.5 80.8h0.9M57.2 85.8h0.9M47.4 78.9h0.9M60.9 72.0h0.9M61.4 64.3h0.9M49.8 78.3h0.9M56.8 78.8h0.9M58.5 68.4h0.9M52.1 62.4h0.9M52.5 77.8h0.9M50.7 90.6h0.9M54.6 71.2h0.9M52.1 73.6h0.9M48.4 77.0h0.9M47.2 85.1h0.9M54.2 82.7h0.9M52.4 74.4h0.9M49.5 87.5h0.9M57.3 78.2h0.9M53.6 83.0h0.9M58.4 81.2h0.9M54.7 92.3h0.9M48.4 84.5h0.9M57.8 74.7h0.9M57.9 68.3h0.9M59.5 67.0h0.9M55.3 74.3h0.9M46.8 94.9h0.9M50.8 75.1h0.9M51.3 81.5h0.9M52.0 87.0h0.9M53.7 67.7h0.9M56.5 72.7h0.9M51.0 87.0h0.9M56.4 67.2h0.9M54.5 72.3h0.9M60.3 68.3h0.9M56.9 81.0h0.9M59.4 70.4h0.9M49.6 89.5h0.9M56.6 66.2h0.9M49.1 91.6h0.9M50.1 72.7h0.9M54.5 86.5h0.9M57.7 74.6h0.9M48.5 80.8h0.9M57.8 66.5h0.9M50.9 88.8h0.9M50.8 85.7h0.9M48.8 75.3h0.9M51.2 65.8h0.9M54.3 75.7h0.9M52.9 75.5h0.9M49.5 76.5h0.9M55.0 87.9h0.9M55.6 73.0h0.9M56.6 90.8h0.9M48.4 87.6h0.9M55.3 73.1h0.9M52.3 62.6h0.9M57.4 77.9h0.9M49.3 83.3h0.9M52.0 87.1h0.9M59.4 82.8h0.9M57.9 67.3h0.9M58.0 70.8h0.9M49.9 85.5h0.9M51.4 74.7h0.9M57.3 66.9h0.9M58.6 87.5h0.9M51.2 78.9h0.9M60.6 73.7h0.9M55.6 83.5h0.9M52.2 87.5h0.9M58.9 68.7h0.9M58.8 73.4h0.9M52.2 85.5h0.9M59.7 68.9h0.9M52.8 62.8h0.9M54.8 85.5h0.9M50.6 70.2h0.9M51.7 67.6h0.9M59.7 79.4h0.9M58.8 85.8h0.9M53.5 65.1h0.9M48.4 95.1h0.9M53.8 69.1h0.9M51.1 85.5h0.9M51.7 72.7h0.9M48.9 78.0h0.9M59.0 77.8h0.9M56.3 83.4h0.9M49.5 90.4h0.9M52.3 73.0h0.9M61.5 64.1h0.9M59.0 67.4h0.9M53.9 70.0h0.9M52.8 68.4h0.9M49.6 86.3h0.9M49.5 87.2h0.9M50.8 82.4h0.9M47.1 80.2h0.9M53.3 66.2h0.9M54.7 93.7h0.9M48.5 82.5h0.9M57.3 67.7h0.9M54.7 87.0h0.9M61.4 66.5h0.9M57.4 82.1h0.9M56.0 87.6h0.9M56.7 82.5h0.9M59.1 70.7h0.9M50.2 89.0h0.9M51.8 90.1h0.9M46.1 86.3h0.9M59.2 70.8h0.9M51.4 84.7h0.9M59.5 67.9h0.9M51.3 69.3h0.9M50.3 68.9h0.9M52.6 80.0h0.9M47.3 90.9h0.9M53.0 84.1h0.9M58.1 74.8h0.9M57.6 73.3h0.9M58.9 68.9h0.9M56.9 85.4h0.9M55.8 76.8h0.9M59.5 62.9h0.9M57.4 67.7h0.9M51.3 89.6h0.9M51.2 66.9h0.9M56.2 87.5h0.9M48.0 72.8h0.9M48.1 96.0h0.9M54.4 87.3h0.9M56.2 72.2h0.9M47.1 82.8h0.9M51.1 80.2h0.9M48.5 94.6h0.9M54.1 69.7h0.9M59.5 74.0h0.9M51.9 79.3h0.9M58.0 68.6h0.9M48.4 89.8h0.9M52.1 80.6h0.9M50.7 80.1h0.9M56.6 85.0h0.9M51.6 74.0h0.9M56.8 83.6h0.9M52.7 89.1h0.9M56.5 79.1h0.9M59.0 87.6h0.9M49.0 82.8h0.9M54.0 66.7h0.9M47.4 86.3h0.9M56.5 91.5h0.9M51.2 70.8h0.9M57.0 74.9h0.9M51.0 89.6h0.9M48.2 78.5h0.9M51.5 75.4h0.9M47.7 74.7h0.9M55.2 67.6h0.9M56.7 83.4h0.9M59.0 79.8h0.9M48.5 87.8h0.9M51.9 91.0h0.9M49.8 91.0h0.9M54.5 67.2h0.9M55.5 87.3h0.9M58.0 86.0h0.9M51.7 91.4h0.9M56.3 92.4h0.9M47.9 95.7h0.9M57.8 70.9h0.9M51.0 87.6h0.9M57.3 66.1h0.9M48.2 74.2h0.9M55.9 73.1h0.9M48.6 73.6h0.9M53.3 65.3h0.9M55.7 82.0h0.9M56.7 92.1h0.9M56.4 70.2h0.9M55.8 82.3h0.9M49.4 103.6h0.9M57.1 70.9h0.9M56.1 62.9h0.9M54.7 84.1h0.9M56.1 87.4h0.9M54.4 83.7h0.9M50.1 83.8h0.9M56.4 79.7h0.9M56.6 87.3h0.9M59.0 66.7h0.9M45.7 82.2h0.9M52.5 87.1h0.9M48.0 77.8h0.9M53.6 75.7h0.9M57.9 73.4h0.9M48.3 71.8h0.9M56.0 83.9h0.9M54.8 88.0h0.9M56.2 76.4h0.9M50.2 80.8h0.9M52.4 74.0h0.9M56.3 83.4h0.9M52.4 75.6h0.9M53.4 92.4h0.9M50.0 77.3h0.9M57.6 87.4h0.9M48.2 83.8h0.9M55.7 84.8h0.9M57.7 77.8h0.9M53.6 88.9h0.9M57.3 62.8h0.9M59.2 63.8h0.9M53.7 88.1h0.9M49.6 96.8h0.9M48.4 94.8h0.9M59.3 69.0h0.9M61.3 79.5h0.9M54.3 78.4h0.9M52.5 64.3h0.9M48.6 74.7h0.9M52.0 69.9h0.9M60.7 69.0h0.9M50.8 68.9h0.9M53.4 70.6h0.9M57.9 67.6h0.9M58.7 80.6h0.9M47.7 97.7h0.9M46.6 90.7h0.9M50.1 81.2h0.9M57.7 77.0h0.9M47.1 87.7h0.9M58.1 69.9h0.9M51.2 77.5h0.9M54.1 92.7h0.9M47.9 80.7h0.9M58.5 70.5h0.9M54.1 92.1h0.9M57.5 63.6h0.9M50.4 79.0h0.9M48.3 84.3h0.9M48.5 81.7h0.9M55.6 82.4h0.9M59.0 82.7h0.9M47.1 91.3h0.9M53.5 96.4h0.9M52.4 69.1h0.9M56.2 72.3h0.9M57.4 66.8h0.9M50.4 82.6h0.9M59.3 71.3h0.9M53.5 84.9h0.9M57.2 74.0h0.9" stroke="#9C4FA3"/><path d="M21.9 92.3h0.9M22.6 91.1h0.9M24.2 86.8h0.9M15.2 91.3h0.9M30.1 91.7h0.9M19.0 88.8h0.9M15.1 88.9h0.9M19.3 90.0h0.9M16.7 90.3h0.9M21.1 94.1h0.9M18.8 92.8h0.9M22.0 93.6h0.9M14.0 87.8h0.9M19.1 88.2h0.9M24.8 91.8h0.9M22.7 90.8h0.9M21.7 89.6h0.9M27.6 91.4h0.9M16.9 93.5h0.9M21.7 91.5h0.9M19.0 90.8h0.9M56.5 79.6h0.9M55.2 83.0h0.9M53.5 73.4h0.9M53.0 71.7h0.9M53.1 89.7h0.9M53.9 83.3h0.9M54.8 80.6h0.9M56.6 71.4h0.9M50.4 82.3h0.9M54.0 78.2h0.9M52.2 78.7h0.9M50.5 82.9h0.9M57.2 68.8h0.9M51.6 76.2h0.9M51.5 78.7h0.9M53.9 73.3h0.9M50.2 83.5h0.9M52.3 77.9h0.9M51.2 82.4h0.9M50.9 90.9h0.9M50.9 83.1h0.9M52.8 82.0h0.9M55.5 74.6h0.9M53.9 76.7h0.9M55.2 83.6h0.9M50.5 76.9h0.9M51.2 85.0h0.9M53.5 76.1h0.9M55.5 79.3h0.9M55.4 78.6h0.9M55.4 71.0h0.9M53.5 82.2h0.9M49.3 93.3h0.9M56.4 83.7h0.9M53.8 76.1h0.9M54.2 78.3h0.9M49.7 92.0h0.9M51.5 74.8h0.9M54.7 79.8h0.9M57.9 77.2h0.9M50.9 85.5h0.9M51.8 77.5h0.9M49.7 91.7h0.9M56.3 73.0h0.9M55.8 83.4h0.9M55.5 83.5h0.9M52.9 92.9h0.9M51.8 76.7h0.9M49.9 88.2h0.9M53.8 75.2h0.9M50.3 81.9h0.9M51.9 88.0h0.9M53.8 73.4h0.9M53.7 69.8h0.9M54.5 80.9h0.9M50.5 81.9h0.9M49.9 77.5h0.9M51.7 79.8h0.9M53.1 77.5h0.9M48.9 87.6h0.9M54.9 74.0h0.9M51.4 86.1h0.9M53.2 83.7h0.9M58.5 79.1h0.9M57.6 70.1h0.9M55.8 73.7h0.9M51.7 79.6h0.9M52.8 75.1h0.9M49.6 83.5h0.9M55.3 82.2h0.9M52.5 78.8h0.9M55.2 80.0h0.9M56.2 79.7h0.9M55.5 78.5h0.9M50.4 80.1h0.9M49.1 81.7h0.9M51.5 80.0h0.9M52.5 87.3h0.9M53.7 77.1h0.9M49.0 81.7h0.9M59.1 74.3h0.9M54.2 77.3h0.9M49.5 84.1h0.9M53.9 84.4h0.9M54.3 74.6h0.9M50.4 78.9h0.9M56.3 68.9h0.9M55.3 86.4h0.9M51.7 80.9h0.9M55.6 77.8h0.9M50.6 84.1h0.9M53.5 81.9h0.9M53.5 75.9h0.9M52.8 80.5h0.9M55.1 83.6h0.9M55.4 70.2h0.9M54.5 73.8h0.9M53.6 80.0h0.9M51.3 73.8h0.9M53.3 91.2h0.9M53.6 83.9h0.9M54.8 90.3h0.9M50.7 84.0h0.9M49.7 78.1h0.9M60.0 72.4h0.9M48.8 92.0h0.9M52.3 84.6h0.9M53.0 75.4h0.9M52.5 81.1h0.9M53.8 78.3h0.9M57.0 77.9h0.9M51.8 79.5h0.9M52.9 72.0h0.9M49.3 80.0h0.9M54.3 82.0h0.9M49.9 77.2h0.9M49.4 83.9h0.9M56.8 79.7h0.9M52.0 87.9h0.9M55.3 68.6h0.9M55.3 83.0h0.9M52.6 88.8h0.9M55.7 79.9h0.9M54.1 80.4h0.9M52.0 90.6h0.9M54.4 89.2h0.9M53.8 84.2h0.9M55.4 84.6h0.9M55.0 73.8h0.9M52.5 74.8h0.9M55.1 75.0h0.9M52.3 72.6h0.9M55.4 82.1h0.9M52.5 81.0h0.9M57.6 77.8h0.9M52.0 84.6h0.9M52.4 75.3h0.9M55.8 78.6h0.9M53.0 72.7h0.9M54.3 85.4h0.9M51.5 83.3h0.9M52.8 76.5h0.9M53.3 83.6h0.9M55.0 77.7h0.9M58.7 70.9h0.9M52.5 90.7h0.9M54.6 77.5h0.9M57.1 79.6h0.9M51.9 79.1h0.9M56.8 78.3h0.9M54.1 72.9h0.9M54.7 87.0h0.9M54.2 80.2h0.9M54.6 76.9h0.9M46.6 87.2h0.9M56.8 86.4h0.9M49.4 87.2h0.9M59.6 72.9h0.9M54.9 75.0h0.9M52.3 84.2h0.9M55.1 79.4h0.9M52.4 88.6h0.9M51.4 74.7h0.9M54.8 72.1h0.9M53.1 76.4h0.9M56.7 83.1h0.9M53.4 74.3h0.9M53.3 87.9h0.9M57.1 79.0h0.9M51.7 70.7h0.9M51.3 91.2h0.9M54.3 73.6h0.9M49.9 78.2h0.9M52.1 80.1h0.9M52.6 77.6h0.9M55.7 79.0h0.9M54.3 86.7h0.9M54.7 74.6h0.9M52.9 80.5h0.9M55.8 78.5h0.9M55.6 74.1h0.9M49.7 83.4h0.9M57.1 77.8h0.9M51.4 79.7h0.9M55.5 78.8h0.9M49.9 75.4h0.9M54.7 72.8h0.9M52.3 85.9h0.9M54.1 76.0h0.9M53.6 80.2h0.9M53.3 82.7h0.9M51.3 74.1h0.9" stroke="#5F68C6"/><path d="M54.0 79.2h0.9M52.8 73.2h0.9M55.6 78.7h0.9M52.1 79.3h0.9M51.9 85.5h0.9M54.5 84.3h0.9M53.3 75.2h0.9M53.0 83.4h0.9M55.9 73.9h0.9M54.0 85.5h0.9M52.8 83.4h0.9M54.4 79.9h0.9M53.4 80.5h0.9M54.4 74.6h0.9M52.6 83.2h0.9M54.3 82.9h0.9M54.7 81.9h0.9M52.3 80.5h0.9M52.4 84.6h0.9M53.0 84.8h0.9M54.1 77.3h0.9M54.9 82.4h0.9M52.1 72.8h0.9M54.9 81.8h0.9M51.9 76.4h0.9M54.6 77.0h0.9M53.6 82.7h0.9M54.8 78.2h0.9M55.1 79.3h0.9M48.6 80.9h0.9M56.9 77.2h0.9M52.9 84.6h0.9M55.3 80.4h0.9M55.2 77.2h0.9M53.6 74.1h0.9M53.1 80.3h0.9M51.8 83.0h0.9M56.1 78.2h0.9M50.4 82.2h0.9M53.6 80.2h0.9M54.4 79.1h0.9M55.3 80.2h0.9M50.9 77.4h0.9M56.8 74.7h0.9M53.9 74.4h0.9M52.9 80.4h0.9M53.8 82.6h0.9M53.6 80.8h0.9M56.6 80.7h0.9M53.2 84.0h0.9M51.3 88.1h0.9M51.9 83.4h0.9M55.1 81.1h0.9M54.9 72.6h0.9M51.7 78.8h0.9M56.6 77.4h0.9M53.9 80.7h0.9M53.1 79.9h0.9M51.3 76.6h0.9M53.8 78.0h0.9M54.0 76.9h0.9M55.2 77.0h0.9M52.7 77.6h0.9M51.2 76.6h0.9M54.0 79.1h0.9M55.9 73.0h0.9M53.8 79.0h0.9M52.3 77.6h0.9M53.2 77.8h0.9M51.6 85.0h0.9M51.3 80.9h0.9M50.1 82.8h0.9M55.2 78.7h0.9M54.4 82.2h0.9M51.8 82.5h0.9M57.0 81.5h0.9M54.2 75.1h0.9M59.1 76.2h0.9M52.9 79.4h0.9M53.7 82.0h0.9M51.2 72.5h0.9M55.4 75.1h0.9M55.1 83.0h0.9M55.0 81.4h0.9M54.1 79.5h0.9M56.5 76.8h0.9M53.3 78.4h0.9M52.9 77.5h0.9M53.6 76.8h0.9M54.0 74.9h0.9M52.4 74.2h0.9M56.1 72.2h0.9M54.3 76.7h0.9M53.3 81.4h0.9M53.5 76.7h0.9M53.7 83.7h0.9M55.9 73.7h0.9M53.8 77.2h0.9M57.2 83.6h0.9M51.8 81.7h0.9M53.7 84.9h0.9M55.1 82.1h0.9M51.8 74.7h0.9M52.8 85.0h0.9M56.0 73.3h0.9M52.9 80.0h0.9M53.7 78.8h0.9M56.3 80.0h0.9M55.1 71.1h0.9M52.9 75.0h0.9M53.1 76.2h0.9M54.3 82.8h0.9M53.9 80.1h0.9M53.2 77.8h0.9M53.0 77.1h0.9M51.8 82.2h0.9M50.6 80.7h0.9M51.3 76.4h0.9M53.5 82.8h0.9M51.7 76.8h0.9M52.1 80.8h0.9M48.9 79.6h0.9M54.8 81.7h0.9M55.0 82.5h0.9M55.2 76.9h0.9M53.0 78.9h0.9M55.1 73.8h0.9M55.9 76.9h0.9M51.1 75.9h0.9M50.8 80.0h0.9M54.8 77.1h0.9M55.2 77.7h0.9M53.4 79.6h0.9M54.1 77.6h0.9M52.6 82.1h0.9M55.0 74.1h0.9M52.2 78.2h0.9M57.0 75.3h0.9M54.2 74.8h0.9M55.5 76.7h0.9M53.7 81.4h0.9M56.6 75.2h0.9M53.5 78.6h0.9M53.7 78.2h0.9M55.6 76.8h0.9M53.5 76.6h0.9M53.3 85.8h0.9M53.3 73.8h0.9M52.8 83.5h0.9M51.1 79.6h0.9M55.2 76.6h0.9M51.1 76.1h0.9M56.1 74.0h0.9M52.9 73.6h0.9M51.7 83.4h0.9M54.4 79.0h0.9M51.1 82.3h0.9M52.9 81.9h0.9M55.9 75.9h0.9M53.7 73.3h0.9M54.3 77.3h0.9M51.0 80.7h0.9M53.4 85.2h0.9M56.9 82.9h0.9M54.5 80.5h0.9M50.6 81.5h0.9M51.5 82.0h0.9M52.2 80.2h0.9M56.9 80.4h0.9M56.6 73.9h0.9M49.5 84.6h0.9M52.0 83.3h0.9" stroke="#35A3D2"/><path d="M30.9 90.2h0.9M8.2 92.9h0.9M37.3 89.9h0.9M12.9 103.4h0.9M16.0 89.1h0.9M14.9 91.1h0.9M36.7 100.9h0.9M24.0 88.3h0.9M23.8 85.6h0.9M16.8 97.4h0.9M27.4 94.7h0.9M23.0 96.3h0.9M14.2 96.2h0.9M14.5 94.1h0.9M17.0 93.4h0.9M26.6 94.9h0.9M33.3 85.9h0.9M22.5 88.8h0.9M13.1 90.8h0.9M19.4 86.3h0.9M13.5 90.7h0.9M30.4 91.4h0.9M17.5 101.2h0.9M19.1 88.2h0.9M8.2 85.1h0.9M20.8 92.6h0.9M19.9 100.0h0.9M15.5 95.6h0.9M14.3 80.7h0.9M14.6 84.7h0.9M38.3 90.5h0.9M15.7 98.5h0.9M6.8 90.8h0.9M20.9 75.8h0.9M9.3 88.4h0.9M23.5 83.6h0.9M14.4 93.0h0.9M19.1 86.7h0.9M9.2 89.9h0.9M21.4 96.4h0.9M3.9 82.5h0.9M3.0 89.8h0.9M40.6 85.2h0.9M13.0 95.4h0.9M16.3 88.4h0.9M33.5 93.6h0.9M3.7 85.4h0.9M26.2 89.5h0.9M20.8 90.3h0.9M21.7 92.3h0.9M14.5 91.0h0.9M22.1 85.0h0.9M41.8 91.8h0.9M19.4 83.2h0.9M19.6 96.8h0.9M23.5 78.4h0.9M22.8 86.9h0.9M29.2 84.7h0.9M6.8 97.6h0.9M13.7 89.0h0.9M28.7 95.4h0.9M10.1 85.2h0.9M35.4 93.1h0.9M29.0 81.2h0.9M36.6 90.1h0.9M18.5 91.3h0.9M1.7 95.3h0.9M16.4 83.7h0.9M6.7 87.6h0.9M34.8 98.3h0.9M34.5 82.1h0.9M38.8 87.9h0.9M37.0 75.2h0.9M34.6 74.9h0.9M41.4 84.1h0.9M31.8 85.0h0.9M40.7 79.6h0.9M45.2 83.9h0.9M46.7 81.6h0.9M48.1 76.8h0.9M37.1 81.5h0.9M37.7 80.6h0.9M40.1 79.9h0.9M48.8 85.4h0.9M35.2 75.2h0.9M39.2 87.1h0.9M44.4 85.8h0.9M49.8 79.2h0.9M48.2 78.8h0.9M33.4 76.5h0.9M40.8 81.4h0.9M48.5 78.6h0.9M38.6 83.7h0.9M40.7 84.0h0.9M48.8 79.5h0.9M47.3 86.5h0.9M45.8 80.4h0.9M59.5 51.9h0.9M58.7 59.6h0.9M54.1 57.4h0.9M40.4 65.6h0.9M45.7 59.5h0.9M64.1 53.5h0.9M47.4 63.5h0.9M61.8 60.9h0.9M46.2 52.9h0.9M52.6 61.7h0.9M61.1 49.9h0.9M61.3 55.5h0.9M43.8 65.6h0.9M63.7 57.7h0.9M56.5 60.2h0.9M52.9 59.1h0.9M50.5 54.7h0.9M54.9 61.5h0.9M48.7 56.6h0.9M51.0 61.9h0.9M52.9 60.1h0.9M59.7 59.2h0.9M55.5 64.1h0.9M54.7 57.7h0.9M52.4 66.1h0.9M48.1 56.0h0.9M45.7 57.7h0.9M50.3 67.1h0.9M53.6 60.4h0.9M50.6 57.6h0.9M52.4 52.8h0.9M57.3 52.6h0.9M42.1 60.4h0.9M52.3 51.3h0.9M44.8 66.3h0.9M54.4 56.6h0.9M45.7 59.2h0.9M47.2 52.2h0.9M50.3 55.8h0.9M50.0 60.0h0.9M55.2 55.5h0.9M53.0 61.5h0.9M51.9 88.1h0.9M55.7 77.2h0.9M55.7 77.5h0.9M55.0 73.2h0.9M55.8 82.7h0.9M56.2 74.8h0.9M53.9 86.1h0.9M51.8 82.2h0.9M51.3 84.5h0.9M54.3 79.7h0.9M45.4 87.0h0.9M52.8 81.0h0.9M57.1 89.5h0.9M52.9 84.1h0.9M55.6 80.7h0.9M59.7 59.6h0.9M55.2 69.3h0.9M57.6 84.7h0.9M53.1 73.8h0.9M48.4 93.0h0.9M53.7 70.7h0.9M52.1 96.3h0.9M49.2 99.1h0.9M47.3 84.3h0.9M48.8 80.0h0.9M57.6 84.5h0.9M50.8 80.9h0.9M48.9 89.1h0.9M53.8 89.1h0.9M53.3 62.4h0.9M51.8 90.0h0.9M55.0 60.0h0.9M50.5 79.5h0.9M56.6 75.5h0.9M47.7 94.6h0.9M57.8 76.6h0.9M59.6 71.9h0.9M50.2 79.5h0.9M53.6 73.9h0.9M52.4 74.7h0.9M58.2 77.0h0.9M54.4 80.9h0.9M50.8 79.2h0.9M56.5 73.5h0.9M57.4 81.0h0.9M58.6 63.1h0.9M55.4 71.8h0.9M54.4 71.3h0.9M52.2 79.0h0.9M56.3 84.2h0.9M47.4 88.4h0.9M48.2 79.5h0.9M49.7 77.9h0.9M49.3 78.6h0.9M58.7 83.9h0.9M50.7 80.6h0.9M52.0 71.7h0.9M57.8 72.9h0.9M59.5 72.6h0.9M50.0 82.3h0.9M48.3 78.6h0.9M48.0 77.3h0.9M56.3 79.1h0.9M58.6 63.8h0.9M48.1 87.8h0.9M54.4 69.1h0.9M56.2 82.8h0.9M50.8 72.8h0.9M55.6 88.4h0.9M50.4 77.0h0.9M48.7 97.0h0.9M58.2 82.2h0.9M54.4 77.5h0.9M54.7 87.1h0.9M54.4 84.1h0.9M55.2 70.7h0.9M58.6 82.9h0.9M52.4 73.3h0.9M54.0 93.6h0.9M57.0 77.1h0.9M51.2 87.9h0.9M49.6 74.7h0.9M44.5 84.0h0.9M60.5 69.4h0.9M62.2 63.0h0.9M52.2 75.5h0.9M52.7 76.1h0.9M52.6 79.0h0.9M57.1 78.5h0.9M49.1 93.3h0.9M50.9 75.2h0.9M47.2 72.7h0.9M53.4 85.6h0.9M53.2 92.4h0.9M57.7 80.0h0.9M52.5 84.1h0.9M53.3 72.7h0.9M51.0 83.6h0.9M59.4 86.6h0.9M73.5 58.2h0.9M63.6 59.6h0.9M68.8 54.9h0.9M74.3 58.3h0.9M63.4 64.6h0.9M64.5 64.4h0.9" stroke="#8E8A93"/></g>
<line x1="408.5" y1="1208.8" x2="408.5" y2="1340" stroke="#333" stroke-width="0.8" />
<line x1="277.6" y1="1208.8" x2="408.5" y2="1208.8" stroke="#333" stroke-width="0.8" />
<line x1="277.6" y1="1208.8" x2="277.6" y2="1340.4" stroke="#1a1a1a" stroke-width="0.9" />
<line x1="277.6" y1="1340" x2="408.5" y2="1340" stroke="#1a1a1a" stroke-width="0.9" />
<line x1="341.8" y1="1208.8" x2="341.8" y2="1340" stroke="#333" stroke-width="0.7" />
<line x1="277.6" y1="1273.3" x2="408.5" y2="1273.3" stroke="#333" stroke-width="0.7" />
<path d="M277.6 1287V1312" stroke="#3aa0d0" stroke-width="0.8" fill="none"/>
<text x="275.4" y="1211" font-size="5.2" font-weight="normal" text-anchor="end" fill="#3a3a3a">10<tspan font-size="3.2" dy="-2">3</tspan></text>
<line x1="275.6" y1="1208.8" x2="277.6" y2="1208.8" stroke="#333" stroke-width="0.6" />
<text x="275.4" y="1244" font-size="5.2" font-weight="normal" text-anchor="end" fill="#3a3a3a">10<tspan font-size="3.2" dy="-2">2</tspan></text>
<line x1="275.6" y1="1241.8" x2="277.6" y2="1241.8" stroke="#333" stroke-width="0.6" />
<text x="275.4" y="1277" font-size="5.2" font-weight="normal" text-anchor="end" fill="#3a3a3a">10<tspan font-size="3.2" dy="-2">1</tspan></text>
<line x1="275.6" y1="1274.8" x2="277.6" y2="1274.8" stroke="#333" stroke-width="0.6" />
<text x="275.4" y="1310" font-size="5.2" font-weight="normal" text-anchor="end" fill="#3a3a3a">10<tspan font-size="3.2" dy="-2">0</tspan></text>
<line x1="275.6" y1="1307.8" x2="277.6" y2="1307.8" stroke="#333" stroke-width="0.6" />
<text x="310.2" y="1348.5" font-size="5.2" font-weight="normal" text-anchor="middle" fill="#3a3a3a">10<tspan font-size="3.2" dy="-2">0</tspan></text>
<text x="343.1" y="1348.5" font-size="5.2" font-weight="normal" text-anchor="middle" fill="#3a3a3a">10<tspan font-size="3.2" dy="-2">1</tspan></text>
<text x="376" y="1348.5" font-size="5.2" font-weight="normal" text-anchor="middle" fill="#3a3a3a">10<tspan font-size="3.2" dy="-2">2</tspan></text>
<text x="408.9" y="1348.5" font-size="5.2" font-weight="normal" text-anchor="middle" fill="#3a3a3a">10<tspan font-size="3.2" dy="-2">3</tspan></text>
<path d="M287.5 1340v1.3M293.3 1340v1.3M297.4 1340v1.3M300.6 1340v1.3M303.2 1340v1.3M305.4 1340v1.3M307.3 1340v1.3M309.0 1340v1.3M310.5 1340v2.6M320.4 1340v1.3M326.2 1340v1.3M330.3 1340v1.3M333.5 1340v1.3M336.1 1340v1.3M338.3 1340v1.3M340.2 1340v1.3M341.9 1340v1.3M343.4 1340v2.6M353.3 1340v1.3M359.1 1340v1.3M363.2 1340v1.3M366.4 1340v1.3M369.0 1340v1.3M371.2 1340v1.3M373.1 1340v1.3M374.8 1340v1.3M376.3 1340v2.6M386.2 1340v1.3M392.0 1340v1.3M396.1 1340v1.3M399.3 1340v1.3M401.9 1340v1.3M404.1 1340v1.3M406.0 1340v1.3M407.7 1340v1.3" stroke="#222" stroke-width="0.5" fill="none"/>
<text x="342.5" y="1362.3" font-size="7" font-weight="normal" text-anchor="middle" fill="#3a3a3a">CD25</text>
<text transform="translate(260.5 1274) rotate(-90)" font-size="7" font-weight="normal" text-anchor="middle" fill="#3a3a3a">Foxp3</text>
<text transform="translate(351.36 1226.5)" font-size="18.3" letter-spacing="0.554" stroke="#000" stroke-width="0.3">6.13%</text>
<text transform="matrix(0 -0.9689 1 0 210.3 1366.76)" font-size="31.2" stroke="#000" stroke-width="0.3">Foxp3</text>
<path d="M223 1311V1360.3H263" fill="none" stroke="#000" stroke-width="1.6"/>
<polygon points="218.3,1314 223,1305.5 227.7,1314" fill="#000" />
<polygon points="262.5,1355.6 271.2,1360.3 262.5,1365" fill="#000" />
<text transform="translate(213 1386.8)" font-size="30" letter-spacing="0.267" stroke="#000" stroke-width="0.3">CD25</text>
<text transform="matrix(0.9899 0 0 1 246.44 1419.5)" font-size="30.5" stroke="#000" stroke-width="0.3">18β-GA group</text>
<defs><pattern id="pb" width="6" height="4" patternUnits="userSpaceOnUse"><rect width="6" height="4" fill="#fff"/><path d="M0 0H2.6V1H1V2H0ZM3 2H5.6V3H4V4H3Z" fill="#2E5BAB"/></pattern><pattern id="pr" width="6" height="4" patternUnits="userSpaceOnUse"><rect width="6" height="4" fill="#fff"/><path d="M0 0H2.6V1H1V2H0ZM3 2H5.6V3H4V4H3Z" fill="#EE2B2C"/></pattern></defs>
<text transform="matrix(1.0755 0 0 1 527.29 1024.7)" font-size="33" fill="#1B4F8C" stroke="#1B4F8C" stroke-width="1.2">F</text>
<text transform="matrix(0 -1.0420 1 0 566.9 1251.77)" font-size="29.4" stroke="#000" stroke-width="0.3">% of Treg</text>
<text transform="matrix(0 -1.0418 1 0 603.5 1250.44)" font-size="29.4" stroke="#000" stroke-width="0.3">in spleen</text>
<rect x="666.3" y="1252.6" width="61.5" height="49.2" fill="url(#pb)" stroke="#2E5BAB" stroke-width="2" />
<rect x="760.1" y="1189.7" width="61.8" height="112.1" fill="url(#pr)" stroke="#EE2B2C" stroke-width="2" />
<line x1="634.5" y1="1079.6" x2="634.5" y2="1302.7" stroke="#000" stroke-width="1.8" />
<line x1="630" y1="1301.8" x2="854.8" y2="1301.8" stroke="#000" stroke-width="1.8" />
<line x1="628" y1="1080.7" x2="634.5" y2="1080.7" stroke="#000" stroke-width="1.8" />
<text transform="matrix(0.9156 0 0 1 590.65 1092.1)" font-size="32" stroke="#000" stroke-width="0.3">10</text>
<line x1="628" y1="1124.9" x2="634.5" y2="1124.9" stroke="#000" stroke-width="1.8" />
<text transform="matrix(0.9156 0 0 1 606.62 1133.5)" font-size="32" stroke="#000" stroke-width="0.3">8</text>
<line x1="628" y1="1169" x2="634.5" y2="1169" stroke="#000" stroke-width="1.8" />
<text transform="matrix(0.9156 0 0 1 606.76 1182.2)" font-size="32" stroke="#000" stroke-width="0.3">6</text>
<line x1="628" y1="1213.5" x2="634.5" y2="1213.5" stroke="#000" stroke-width="1.8" />
<text transform="matrix(0.9156 0 0 1 605.88 1227.2)" font-size="32" stroke="#000" stroke-width="0.3">4</text>
<line x1="628" y1="1257.8" x2="634.5" y2="1257.8" stroke="#000" stroke-width="1.8" />
<text transform="matrix(0.9156 0 0 1 606.91 1267.7)" font-size="32" stroke="#000" stroke-width="0.3">2</text>
<line x1="628" y1="1301.8" x2="634.5" y2="1301.8" stroke="#000" stroke-width="1.8" />
<text transform="matrix(0.9156 0 0 1 606.91 1311.9)" font-size="32" stroke="#000" stroke-width="0.3">0</text>
<line x1="697" y1="1223" x2="697" y2="1281" stroke="#000" stroke-width="1.8" />
<line x1="680.7" y1="1223" x2="713.3" y2="1223" stroke="#000" stroke-width="1.8" />
<line x1="680.7" y1="1281" x2="713.3" y2="1281" stroke="#000" stroke-width="1.8" />
<line x1="697" y1="1301.8" x2="697" y2="1309.3" stroke="#000" stroke-width="1.8" />
<line x1="791" y1="1142.7" x2="791" y2="1235.8" stroke="#000" stroke-width="1.8" />
<line x1="774.7" y1="1142.7" x2="807.3" y2="1142.7" stroke="#000" stroke-width="1.8" />
<line x1="774.7" y1="1235.8" x2="807.3" y2="1235.8" stroke="#000" stroke-width="1.8" />
<line x1="791" y1="1301.8" x2="791" y2="1309.3" stroke="#000" stroke-width="1.8" />
<ellipse cx="701.4" cy="1215.9" rx="3.8" ry="5.2" fill="#2E5BAB"/>
<ellipse cx="692.8" cy="1227.1" rx="3.8" ry="5.2" fill="#2E5BAB"/>
<ellipse cx="696.9" cy="1259.4" rx="3.8" ry="5.2" fill="#2E5BAB"/>
<ellipse cx="692.8" cy="1278" rx="3.8" ry="5.2" fill="#2E5BAB"/>
<ellipse cx="701.4" cy="1278" rx="3.8" ry="5.2" fill="#2E5BAB"/>
<ellipse cx="790.9" cy="1112.6" rx="3.8" ry="5.2" fill="#EE2B2C"/>
<ellipse cx="790.9" cy="1182.5" rx="3.8" ry="5.2" fill="#EE2B2C"/>
<ellipse cx="790.9" cy="1202.9" rx="3.8" ry="5.2" fill="#EE2B2C"/>
<ellipse cx="795.4" cy="1221.5" rx="3.8" ry="5.2" fill="#EE2B2C"/>
<ellipse cx="786.8" cy="1228.2" rx="3.8" ry="5.2" fill="#EE2B2C"/>
<line x1="690.2" y1="1084.4" x2="799.8" y2="1084.4" stroke="#000" stroke-width="1.2" />
<text transform="translate(636.32 1334.8)" font-size="29.5" letter-spacing="0.737" stroke="#000" stroke-width="0.3">Control</text>
<text transform="translate(756.28 1334.8)" font-size="29.5" letter-spacing="0.736" stroke="#000" stroke-width="0.3">18β-GA</text>
<text transform="translate(746.84 1089.4)" font-size="28" font-weight="normal" stroke="#000" stroke-width="0.3">*</text>
<text transform="matrix(0 -1.0366 1 0 872.1 1251.36)" font-size="29.4" stroke="#000" stroke-width="0.3">% of Treg</text>
<text transform="matrix(0 -1.0366 1 0 908.5 1255.83)" font-size="29.4" stroke="#000" stroke-width="0.3">in thymus</text>
<rect x="990.7" y="1226.6" width="61.6" height="77.4" fill="url(#pb)" stroke="#2E5BAB" stroke-width="2" />
<rect x="1085.8" y="1184.6" width="61.9" height="119.4" fill="url(#pr)" stroke="#EE2B2C" stroke-width="2" />
<line x1="957.8" y1="1081" x2="957.8" y2="1304.9" stroke="#000" stroke-width="1.8" />
<line x1="953.3" y1="1304" x2="1181.8" y2="1304" stroke="#000" stroke-width="1.8" />
<line x1="951.3" y1="1081.9" x2="957.8" y2="1081.9" stroke="#000" stroke-width="1.8" />
<text transform="matrix(0.9156 0 0 1 918.31 1101.1)" font-size="32" stroke="#000" stroke-width="0.3">15</text>
<line x1="951.3" y1="1156.4" x2="957.8" y2="1156.4" stroke="#000" stroke-width="1.8" />
<text transform="matrix(0.9156 0 0 1 918.75 1167.4)" font-size="32" stroke="#000" stroke-width="0.3">10</text>
<line x1="951.3" y1="1229.4" x2="957.8" y2="1229.4" stroke="#000" stroke-width="1.8" />
<text transform="matrix(0.9156 0 0 1 934.57 1240.7)" font-size="32" stroke="#000" stroke-width="0.3">5</text>
<line x1="951.3" y1="1303.6" x2="957.8" y2="1303.6" stroke="#000" stroke-width="1.8" />
<text transform="matrix(0.9156 0 0 1 935.01 1314.6)" font-size="32" stroke="#000" stroke-width="0.3">0</text>
<line x1="1021.3" y1="1219.7" x2="1021.3" y2="1232.3" stroke="#000" stroke-width="1.8" />
<line x1="1005" y1="1219.7" x2="1037.6" y2="1219.7" stroke="#000" stroke-width="1.8" />
<line x1="1005" y1="1232.3" x2="1037.6" y2="1232.3" stroke="#000" stroke-width="1.8" />
<line x1="1021.3" y1="1304" x2="1021.3" y2="1311.5" stroke="#000" stroke-width="1.8" />
<line x1="1116.8" y1="1158.7" x2="1116.8" y2="1210" stroke="#000" stroke-width="1.8" />
<line x1="1100.5" y1="1158.7" x2="1133.1" y2="1158.7" stroke="#000" stroke-width="1.8" />
<line x1="1100.5" y1="1210" x2="1133.1" y2="1210" stroke="#000" stroke-width="1.8" />
<line x1="1116.8" y1="1304" x2="1116.8" y2="1311.5" stroke="#000" stroke-width="1.8" />
<ellipse cx="1008.3" cy="1223.7" rx="3.8" ry="5.2" fill="#2E5BAB"/>
<ellipse cx="1021.3" cy="1219.3" rx="3.8" ry="5.2" fill="#2E5BAB"/>
<ellipse cx="1034.3" cy="1222.6" rx="3.8" ry="5.2" fill="#2E5BAB"/>
<ellipse cx="1025.8" cy="1226.3" rx="3.8" ry="5.2" fill="#2E5BAB"/>
<ellipse cx="1017.2" cy="1234.9" rx="3.8" ry="5.2" fill="#2E5BAB"/>
<ellipse cx="1116.8" cy="1157.6" rx="3.8" ry="5.2" fill="#EE2B2C"/>
<ellipse cx="1113.1" cy="1168.8" rx="3.8" ry="5.2" fill="#EE2B2C"/>
<ellipse cx="1121.2" cy="1172.5" rx="3.8" ry="5.2" fill="#EE2B2C"/>
<ellipse cx="1121.2" cy="1204.8" rx="3.8" ry="5.2" fill="#EE2B2C"/>
<ellipse cx="1112.7" cy="1217.1" rx="3.8" ry="5.2" fill="#EE2B2C"/>
<line x1="1026.9" y1="1087" x2="1126.1" y2="1087" stroke="#000" stroke-width="1.5" />
<text transform="translate(944.72 1336)" font-size="29.5" letter-spacing="0.737" stroke="#000" stroke-width="0.3">Control</text>
<text transform="translate(1072.18 1336)" font-size="29.5" letter-spacing="0.737" stroke="#000" stroke-width="0.3">18β-GA</text>
<text transform="translate(1061.28 1090.4)" font-size="28" font-weight="normal" stroke="#000" stroke-width="0.3">**</text>
<text transform="matrix(0 -1.0271 1 0 1211.8 1289.95)" font-size="29.4" stroke="#000" stroke-width="0.3">% of Treg in</text>
<text transform="matrix(0 -1.0383 1 0 1247.9 1358.44)" font-size="29.4" stroke="#000" stroke-width="0.3">inguinal lymph nodes</text>
<rect x="1324.9" y="1220.5" width="62.2" height="82.4" fill="url(#pb)" stroke="#2E5BAB" stroke-width="2" />
<rect x="1420.2" y="1155.9" width="61.9" height="147" fill="url(#pr)" stroke="#EE2B2C" stroke-width="2" />
<line x1="1292.1" y1="1080.1" x2="1292.1" y2="1303.8" stroke="#000" stroke-width="1.8" />
<line x1="1288.4" y1="1302.9" x2="1516.3" y2="1302.9" stroke="#000" stroke-width="1.8" />
<line x1="1285.6" y1="1080.9" x2="1292.1" y2="1080.9" stroke="#000" stroke-width="1.8" />
<text transform="matrix(0.9156 0 0 1 1254.45 1094.8)" font-size="32" stroke="#000" stroke-width="0.3">20</text>
<line x1="1285.6" y1="1136.5" x2="1292.1" y2="1136.5" stroke="#000" stroke-width="1.8" />
<text transform="matrix(0.9156 0 0 1 1254.01 1147.8)" font-size="32" stroke="#000" stroke-width="0.3">15</text>
<line x1="1285.6" y1="1192.1" x2="1292.1" y2="1192.1" stroke="#000" stroke-width="1.8" />
<text transform="matrix(0.9156 0 0 1 1254.45 1203.9)" font-size="32" stroke="#000" stroke-width="0.3">10</text>
<line x1="1285.6" y1="1248" x2="1292.1" y2="1248" stroke="#000" stroke-width="1.8" />
<text transform="matrix(0.9156 0 0 1 1270.27 1260.9)" font-size="32" stroke="#000" stroke-width="0.3">5</text>
<line x1="1285.6" y1="1302.9" x2="1292.1" y2="1302.9" stroke="#000" stroke-width="1.8" />
<text transform="matrix(0.9156 0 0 1 1270.71 1309.2)" font-size="32" stroke="#000" stroke-width="0.3">0</text>
<line x1="1355.6" y1="1203.1" x2="1355.6" y2="1236" stroke="#000" stroke-width="1.8" />
<line x1="1339.3" y1="1203.1" x2="1371.9" y2="1203.1" stroke="#000" stroke-width="1.8" />
<line x1="1339.3" y1="1236" x2="1371.9" y2="1236" stroke="#000" stroke-width="1.8" />
<line x1="1355.6" y1="1302.9" x2="1355.6" y2="1310.4" stroke="#000" stroke-width="1.8" />
<line x1="1451.3" y1="1128.7" x2="1451.3" y2="1181.8" stroke="#000" stroke-width="1.8" />
<line x1="1435" y1="1128.7" x2="1467.6" y2="1128.7" stroke="#000" stroke-width="1.8" />
<line x1="1435" y1="1181.8" x2="1467.6" y2="1181.8" stroke="#000" stroke-width="1.8" />
<line x1="1451.3" y1="1302.9" x2="1451.3" y2="1310.4" stroke="#000" stroke-width="1.8" />
<ellipse cx="1355.6" cy="1195.2" rx="3.8" ry="5.2" fill="#2E5BAB"/>
<ellipse cx="1355.6" cy="1212.4" rx="3.8" ry="5.2" fill="#2E5BAB"/>
<ellipse cx="1347" cy="1224" rx="3.8" ry="5.2" fill="#2E5BAB"/>
<ellipse cx="1364.2" cy="1230.4" rx="3.8" ry="5.2" fill="#2E5BAB"/>
<ellipse cx="1355.6" cy="1235.6" rx="3.8" ry="5.2" fill="#2E5BAB"/>
<ellipse cx="1451.3" cy="1122.4" rx="3.8" ry="5.2" fill="#EE2B2C"/>
<ellipse cx="1446.4" cy="1139.9" rx="3.8" ry="5.2" fill="#EE2B2C"/>
<ellipse cx="1455.4" cy="1151.5" rx="3.8" ry="5.2" fill="#EE2B2C"/>
<ellipse cx="1455.4" cy="1176.9" rx="3.8" ry="5.2" fill="#EE2B2C"/>
<ellipse cx="1446.4" cy="1186.3" rx="3.8" ry="5.2" fill="#EE2B2C"/>
<line x1="1355.6" y1="1088" x2="1445.7" y2="1088" stroke="#000" stroke-width="1.5" />
<text transform="translate(1289.82 1336.9)" font-size="29.5" letter-spacing="0.703" stroke="#000" stroke-width="0.3">Control</text>
<text transform="translate(1412.78 1336.9)" font-size="29.5" letter-spacing="0.776" stroke="#000" stroke-width="0.3">18β-GA</text>
<text transform="translate(1385.78 1093.4)" font-size="28" font-weight="normal" stroke="#000" stroke-width="0.3">**</text>
<text transform="matrix(0 -1.0412 1 0 1550.6 1279.37)" font-size="29.4" stroke="#000" stroke-width="0.3">% of Treg</text>
<text transform="matrix(0 -1.0394 1 0 1587.9 1347.84)" font-size="29.4" stroke="#000" stroke-width="0.3">in peripheral blood</text>
<rect x="1661.2" y="1221.7" width="62.3" height="84.1" fill="url(#pb)" stroke="#2E5BAB" stroke-width="2" />
<rect x="1756.9" y="1180.9" width="61.9" height="124.9" fill="url(#pr)" stroke="#EE2B2C" stroke-width="2" />
<line x1="1628.8" y1="1083.5" x2="1628.8" y2="1306.7" stroke="#000" stroke-width="1.8" />
<line x1="1624.7" y1="1305.8" x2="1852.6" y2="1305.8" stroke="#000" stroke-width="1.8" />
<line x1="1622.3" y1="1084.3" x2="1628.8" y2="1084.3" stroke="#000" stroke-width="1.8" />
<text transform="matrix(0.9156 0 0 1 1606.12 1096)" font-size="32" stroke="#000" stroke-width="0.3">8</text>
<line x1="1622.3" y1="1139.6" x2="1628.8" y2="1139.6" stroke="#000" stroke-width="1.8" />
<text transform="matrix(0.9156 0 0 1 1606.26 1150.6)" font-size="32" stroke="#000" stroke-width="0.3">6</text>
<line x1="1622.3" y1="1194.9" x2="1628.8" y2="1194.9" stroke="#000" stroke-width="1.8" />
<text transform="matrix(0.9156 0 0 1 1605.38 1208.4)" font-size="32" stroke="#000" stroke-width="0.3">4</text>
<line x1="1622.3" y1="1250.3" x2="1628.8" y2="1250.3" stroke="#000" stroke-width="1.8" />
<text transform="matrix(0.9156 0 0 1 1606.41 1261.4)" font-size="32" stroke="#000" stroke-width="0.3">2</text>
<line x1="1622.3" y1="1305.7" x2="1628.8" y2="1305.7" stroke="#000" stroke-width="1.8" />
<text transform="matrix(0.9156 0 0 1 1606.41 1319.8)" font-size="32" stroke="#000" stroke-width="0.3">0</text>
<line x1="1692.3" y1="1183.3" x2="1692.3" y2="1258" stroke="#000" stroke-width="1.8" />
<line x1="1676" y1="1183.3" x2="1708.6" y2="1183.3" stroke="#000" stroke-width="1.8" />
<line x1="1676" y1="1258" x2="1708.6" y2="1258" stroke="#000" stroke-width="1.8" />
<line x1="1692.3" y1="1305.8" x2="1692.3" y2="1313.3" stroke="#000" stroke-width="1.8" />
<line x1="1788" y1="1129.5" x2="1788" y2="1229.6" stroke="#000" stroke-width="1.8" />
<line x1="1771.7" y1="1129.5" x2="1804.3" y2="1129.5" stroke="#000" stroke-width="1.8" />
<line x1="1771.7" y1="1229.6" x2="1804.3" y2="1229.6" stroke="#000" stroke-width="1.8" />
<line x1="1788" y1="1305.8" x2="1788" y2="1313.3" stroke="#000" stroke-width="1.8" />
<ellipse cx="1692.3" cy="1163.5" rx="3.8" ry="5.2" fill="#2E5BAB"/>
<ellipse cx="1692.3" cy="1209.1" rx="3.8" ry="5.2" fill="#2E5BAB"/>
<ellipse cx="1692.3" cy="1224.8" rx="3.8" ry="5.2" fill="#2E5BAB"/>
<ellipse cx="1696.8" cy="1246.4" rx="3.8" ry="5.2" fill="#2E5BAB"/>
<ellipse cx="1688.2" cy="1259.9" rx="3.8" ry="5.2" fill="#2E5BAB"/>
<ellipse cx="1788" cy="1102.2" rx="3.8" ry="5.2" fill="#EE2B2C"/>
<ellipse cx="1788" cy="1163.5" rx="3.8" ry="5.2" fill="#EE2B2C"/>
<ellipse cx="1788" cy="1191.9" rx="3.8" ry="5.2" fill="#EE2B2C"/>
<ellipse cx="1788" cy="1206.8" rx="3.8" ry="5.2" fill="#EE2B2C"/>
<ellipse cx="1788" cy="1233.7" rx="3.8" ry="5.2" fill="#EE2B2C"/>
<line x1="1700.2" y1="1090.6" x2="1790.6" y2="1090.6" stroke="#000" stroke-width="1.8" />
<text transform="translate(1620.62 1343.4)" font-size="29.5" letter-spacing="0.703" stroke="#000" stroke-width="0.3">Control</text>
<text transform="translate(1743.08 1343.4)" font-size="29.5" letter-spacing="0.857" stroke="#000" stroke-width="0.3">18β-GA</text>
<text transform="translate(1695.3 1083.9)" font-size="30" letter-spacing="0.5" stroke="#000" stroke-width="0.3"><tspan font-style="italic">P</tspan>=0.1796</text>
</svg>
</body></html>
